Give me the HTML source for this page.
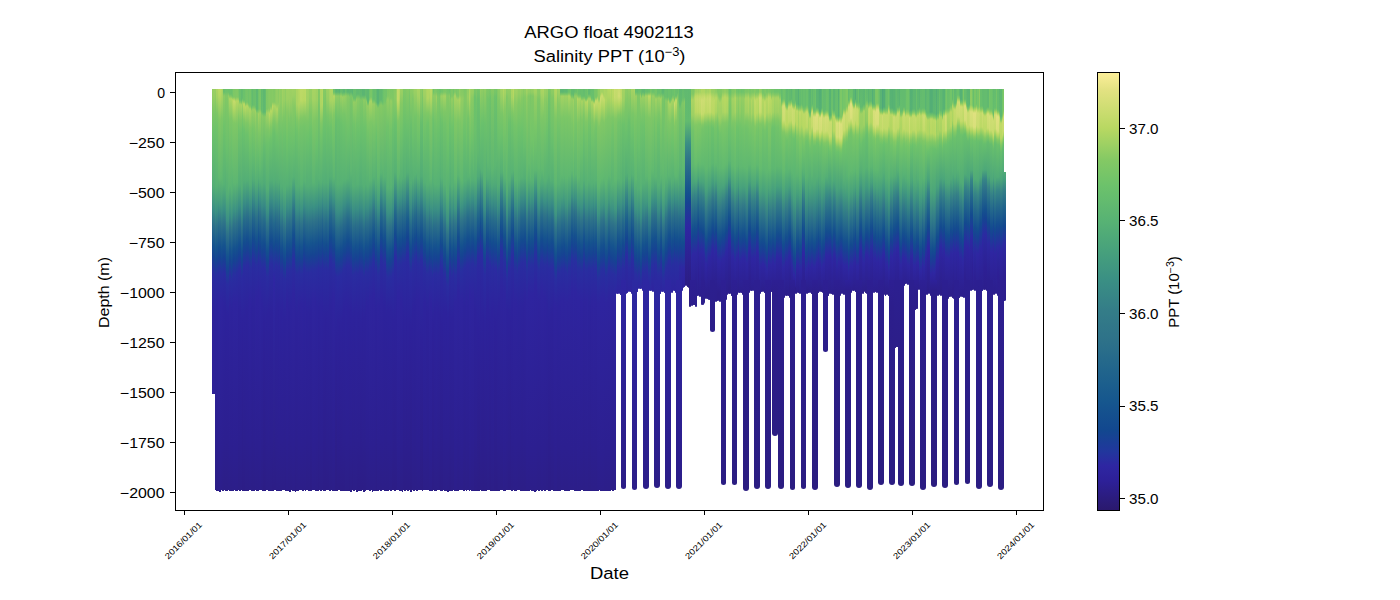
<!DOCTYPE html>
<html><head><meta charset="utf-8"><title>ARGO float 4902113</title>
<style>html,body{margin:0;padding:0;background:#fff;width:1400px;height:600px;overflow:hidden}svg{display:block;position:absolute;left:0;top:0}#d{position:absolute;left:0;top:0;width:1400px;height:600px}#d div{position:absolute}text{font-family:"Liberation Sans",sans-serif;fill:#000}</style>
</head><body><div id="d"><div style="left:212.0px;top:89.3px;width:1.77px;height:304.4px;background:linear-gradient(#94ce63 0px,#90cd64 10px,#81c865 19px,#6bc26b 46px,#54ae76 96px,#3a8e84 119px,#286c8a 136px,#144d8f 158px,#164293 167px,#2a2ca0 183px,#2d229b 224px,#2d2097 304px);"></div><div style="left:213.4px;top:89.3px;width:1.77px;height:304.4px;background:linear-gradient(#99cf63 0px,#97ce63 7px,#7cc766 24px,#6cc26b 43px,#54af75 97px,#3a8f84 121px,#2e7289 135px,#15548e 156px,#144491 168px,#292ca0 185px,#2d229b 223px,#2d2097 304px);"></div><div style="left:214.9px;top:89.3px;width:1.77px;height:401.2px;background:linear-gradient(#98cf63 0px,#93cd63 5px,#7cc766 21px,#6dc26b 41px,#56b174 98px,#3a8f84 125px,#2f7389 138px,#15538e 161px,#164392 173px,#2a2ba0 190px,#2d229b 231px,#2c1f8f 351px,#2c1e87 401px);"></div><div style="left:216.3px;top:89.3px;width:1.77px;height:402.2px;background:linear-gradient(#acd462 0px,#a3d263 8px,#7ec766 24px,#71c469 37px,#58b374 96px,#3b9183 122px,#2e7389 136px,#15548e 158px,#154492 170px,#292da0 186px,#2d239d 217px,#2c1f90 352px,#2c1e87 402px);"></div><div style="left:217.7px;top:89.3px;width:1.77px;height:401.5px;background:linear-gradient(#b9d863 0px,#b2d662 6px,#7ec766 30px,#61b970 87px,#47a07c 111px,#388a85 122px,#276b8b 138px,#134d8f 160px,#174293 169px,#282da0 184px,#2e249e 214px,#2c1f90 362px,#2c1e89 401px);"></div><div style="left:219.1px;top:89.3px;width:1.77px;height:402.3px;background:linear-gradient(#bbd964 0px,#b5d762 6px,#80c865 31px,#61b970 89px,#429a7f 116px,#307689 132px,#14508e 158px,#154492 168px,#282ea0 183px,#2e249f 212px,#2c1f90 365px,#2c1e8a 402px);"></div><div style="left:220.6px;top:89.3px;width:1.77px;height:401.0px;background:linear-gradient(#b3d762 0px,#aed562 5px,#7dc766 29px,#60b970 88px,#49a37b 111px,#3a8f84 123px,#2d7189 137px,#14518e 160px,#164393 171px,#282da0 186px,#2e249e 215px,#2c1f90 360px,#2c1e89 401px);"></div><div style="left:222.0px;top:89.3px;width:1.77px;height:401.7px;background:linear-gradient(#a8d363 0px,#a3d263 8px,#7dc766 30px,#5bb572 94px,#3b9183 121px,#2e7389 135px,#15528e 158px,#154492 169px,#292da0 185px,#2e239e 214px,#2c1f90 357px,#2c1e88 402px);"></div><div style="left:223.4px;top:89.3px;width:1.77px;height:400.9px;background:linear-gradient(#68bf6d 0px,#68bf6d 3px,#8bcb64 7px,#6fc36a 37px,#57b274 95px,#3a8f84 120px,#2f7489 133px,#15538e 156px,#154392 168px,#292ca0 184px,#2d239d 217px,#2c1f90 351px,#2c1e87 401px);"></div><div style="left:224.8px;top:89.3px;width:1.77px;height:402.0px;background:linear-gradient(#6ac06c 0px,#6fc36a 4px,#80c865 7px,#69c06c 54px,#53ae76 99px,#3a8f84 122px,#2f7489 135px,#15538e 158px,#154392 170px,#292ca0 186px,#2d229c 220px,#2c1f90 350px,#2c1e87 402px);"></div><div style="left:226.3px;top:89.3px;width:1.77px;height:401.9px;background:linear-gradient(#6cc26b 0px,#6dc26b 3px,#82c865 7px,#6ac06c 59px,#53ae76 106px,#3b9084 131px,#2e7289 145px,#15538e 167px,#154492 179px,#292ca0 195px,#2d229c 226px,#2c1f90 348px,#2c1e87 402px);"></div><div style="left:227.7px;top:89.3px;width:1.77px;height:400.9px;background:linear-gradient(#6bc16b 0px,#6bc26b 3px,#87ca64 6px,#95ce63 7px,#75c568 30px,#5ab473 100px,#3c9183 131px,#2f7389 145px,#15528e 168px,#164392 180px,#2a2ca0 196px,#2d229c 228px,#2c1f90 350px,#2c1e88 401px);"></div><div style="left:229.1px;top:89.3px;width:1.77px;height:401.6px;background:linear-gradient(#6bc16c 0px,#6ac16c 5px,#8ccb64 8px,#9fd163 9px,#aad463 10px,#7dc766 30px,#5bb572 96px,#3b9183 124px,#2f7389 138px,#15528e 161px,#154491 172px,#292da0 188px,#2e239d 217px,#2c1f90 357px,#2c1e88 402px);"></div><div style="left:230.5px;top:89.3px;width:1.77px;height:401.4px;background:linear-gradient(#6ac06c 0px,#6ac06c 5px,#7bc667 7px,#89ca64 8px,#afd562 10px,#7fc766 29px,#73c469 44px,#58b374 101px,#3c9183 128px,#2f7389 142px,#15528e 165px,#164393 177px,#292ca0 193px,#2d239c 222px,#2c1f91 352px,#2c1e88 401px);"></div><div style="left:232.0px;top:89.3px;width:1.77px;height:401.3px;background:linear-gradient(#6fc36a 0px,#71c36a 7px,#8dcc64 9px,#b7d862 11px,#b1d662 15px,#7fc766 32px,#68bf6d 71px,#55b075 102px,#3b9183 125px,#2e7389 139px,#15528e 162px,#154492 173px,#292da0 189px,#2e239d 218px,#2c1f90 357px,#2c1e89 401px);"></div><div style="left:233.4px;top:89.3px;width:1.77px;height:401.0px;background:linear-gradient(#7cc766 0px,#7fc865 8px,#b8d862 11px,#c5db6c 12px,#b0d662 20px,#7fc865 34px,#5db672 94px,#3c9283 121px,#307589 134px,#14508e 160px,#154392 170px,#282ea0 185px,#2e249e 213px,#2c1f90 362px,#2c1e89 401px);"></div><div style="left:234.8px;top:89.3px;width:1.77px;height:401.6px;background:linear-gradient(#7fc766 0px,#7fc766 8px,#83c964 9px,#b2d662 12px,#bed966 13px,#9ed063 24px,#7ec766 35px,#5cb672 95px,#3d9382 122px,#2f7489 136px,#15518e 160px,#154492 171px,#292da0 187px,#2e239e 216px,#2c1f90 359px,#2c1e89 402px);"></div><div style="left:236.2px;top:89.3px;width:1.77px;height:401.6px;background:linear-gradient(#80c865 0px,#81c865 8px,#b5d762 12px,#7ec766 34px,#5db672 93px,#3c9183 120px,#2f7389 134px,#14518e 158px,#164392 169px,#282da0 184px,#2e249e 213px,#2c1f90 360px,#2c1e89 402px);"></div><div style="left:237.7px;top:89.3px;width:1.77px;height:401.1px;background:linear-gradient(#77c568 0px,#7ac667 8px,#92cd63 10px,#b1d662 12px,#7fc865 28px,#6fc36a 39px,#54af75 95px,#398d84 118px,#296d8a 134px,#144f8f 156px,#164293 166px,#2a2ca0 182px,#2d229b 223px,#2c1f90 348px,#2c1e87 401px);"></div><div style="left:239.1px;top:89.3px;width:1.77px;height:401.8px;background:linear-gradient(#6ac06c 0px,#6bc16c 11px,#8fcc64 14px,#a2d263 15px,#a3d263 17px,#7ec766 31px,#6ec26b 43px,#53ae76 95px,#3a8e84 117px,#2a6e8a 133px,#144f8f 155px,#164393 165px,#2a2ca0 181px,#2d229c 221px,#2c1f90 349px,#2c1e87 402px);"></div><div style="left:240.5px;top:89.3px;width:1.77px;height:401.0px;background:linear-gradient(#63bb6f 0px,#63bb6f 11px,#75c568 13px,#83c964 14px,#aad463 16px,#7ec766 31px,#6dc26b 43px,#53ae76 100px,#3b9084 124px,#2e7389 138px,#15538e 160px,#154492 172px,#2a2ba0 189px,#2d229b 230px,#2c1f8f 353px,#2c1e87 401px);"></div><div style="left:241.9px;top:89.3px;width:1.77px;height:401.5px;background:linear-gradient(#64bc6e 0px,#65bc6e 9px,#75c568 11px,#a0d163 14px,#7dc766 27px,#6ac16c 40px,#52ac77 99px,#398d84 123px,#286c8a 140px,#144d8f 162px,#164293 171px,#2b2aa1 188px,#2d219a 236px,#2c1e8c 365px,#2c1d86 401px);"></div><div style="left:243.4px;top:89.3px;width:1.77px;height:401.9px;background:linear-gradient(#6bc16b 0px,#6cc26b 11px,#88ca64 13px,#b7d862 15px,#b8d862 17px,#80c865 31px,#6cc26b 41px,#53ae76 92px,#398c85 114px,#25698b 132px,#134b8f 154px,#194095 163px,#2a2ba1 178px,#2d229b 229px,#2c1f8e 355px,#2c1d86 402px);"></div><div style="left:244.8px;top:89.3px;width:1.77px;height:401.5px;background:linear-gradient(#72c469 0px,#72c469 13px,#82c865 15px,#b8d862 18px,#7fc865 34px,#6dc26b 45px,#53ae76 93px,#3a8e84 114px,#286c8a 131px,#144d8f 153px,#164293 162px,#2a2ca0 178px,#2d229c 222px,#2c1f8f 349px,#2c1e87 402px);"></div><div style="left:246.2px;top:89.3px;width:1.77px;height:401.4px;background:linear-gradient(#74c469 0px,#77c568 13px,#90cc64 15px,#b3d762 17px,#7ec766 34px,#6dc26b 45px,#54af76 91px,#398d84 112px,#2b6f8a 127px,#144e8f 150px,#174293 160px,#2a2ca0 176px,#2d229b 223px,#2c1f90 348px,#2c1e87 401px);"></div><div style="left:247.6px;top:89.3px;width:1.77px;height:401.3px;background:linear-gradient(#70c36a 0px,#70c36a 14px,#84c964 16px,#a5d363 18px,#aad463 19px,#7ec766 35px,#6dc26b 48px,#53ae76 92px,#398b85 113px,#25698b 131px,#134b8f 153px,#194095 162px,#292ca0 176px,#2d239d 215px,#2c1f90 350px,#2c1e87 401px);"></div><div style="left:249.1px;top:89.3px;width:1.77px;height:400.8px;background:linear-gradient(#75c568 0px,#76c568 16px,#8acb64 18px,#a9d463 20px,#a9d463 22px,#7ec766 39px,#6bc16b 59px,#54af76 95px,#3a8f84 115px,#2f7489 128px,#15518e 152px,#154392 163px,#292da0 179px,#2e239e 212px,#2c1f90 354px,#2c1e88 401px);"></div><div style="left:250.5px;top:89.3px;width:1.77px;height:401.6px;background:linear-gradient(#68bf6d 0px,#6bc16b 18px,#8bcb64 21px,#9acf63 22px,#78c667 41px,#63bb6f 71px,#52ad76 96px,#398d84 117px,#2b6f8a 132px,#144e8f 155px,#174293 165px,#2a2ca0 181px,#2d229c 220px,#2c1f90 349px,#2c1e87 402px);"></div><div style="left:251.9px;top:89.3px;width:1.77px;height:401.8px;background:linear-gradient(#63bb6f 0px,#63bb6f 16px,#7fc766 19px,#8ecc64 20px,#96ce63 21px,#75c568 40px,#5fb871 73px,#51ac77 90px,#388a85 109px,#24688b 127px,#134b8f 148px,#184095 157px,#292ca0 171px,#2d239c 214px,#2c1f8f 351px,#2c1e87 402px);"></div><div style="left:253.3px;top:89.3px;width:1.77px;height:401.6px;background:linear-gradient(#69bf6c 0px,#69bf6c 16px,#82c964 19px,#92cd63 20px,#99cf63 21px,#79c667 39px,#64bc6e 66px,#52ad76 91px,#388a85 111px,#24688b 129px,#134b8f 150px,#184195 159px,#292ca0 174px,#2d239c 216px,#2c1f90 349px,#2c1e87 402px);"></div><div style="left:254.8px;top:89.3px;width:1.77px;height:401.1px;background:linear-gradient(#68bf6d 0px,#6bc16c 18px,#8ecc64 21px,#a0d163 22px,#7bc766 43px,#61b970 80px,#52ac77 96px,#3a8e84 114px,#296d8a 130px,#144d8f 153px,#164393 162px,#282da0 177px,#2e249e 208px,#2c1f90 357px,#2c1e88 401px);"></div><div style="left:256.2px;top:89.3px;width:1.77px;height:401.3px;background:linear-gradient(#5eb871 0px,#60b970 20px,#7cc766 23px,#8acb64 24px,#65bc6e 69px,#53ae76 94px,#3a8e84 114px,#2d7189 128px,#15528e 150px,#154491 161px,#292da0 177px,#2e239e 210px,#2c1f90 352px,#2c1e88 401px);"></div><div style="left:257.6px;top:89.3px;width:1.77px;height:401.9px;background:linear-gradient(#6fc36a 0px,#6fc36a 20px,#8acb64 23px,#a4d263 25px,#7dc766 44px,#66be6d 66px,#54af75 89px,#398b85 108px,#266a8b 125px,#134c8f 147px,#174194 156px,#282da0 171px,#2e249e 204px,#2c1f90 355px,#2c1e88 402px);"></div><div style="left:259.0px;top:89.3px;width:1.77px;height:401.1px;background:linear-gradient(#78c568 0px,#7ac667 20px,#9bd063 24px,#79c667 47px,#61ba70 78px,#53ae76 93px,#3a8f84 111px,#2f7389 124px,#14518e 148px,#154392 159px,#282ea0 174px,#2e249f 205px,#2c1f90 357px,#2c1e89 401px);"></div><div style="left:260.5px;top:89.3px;width:1.77px;height:401.0px;background:linear-gradient(#62bb6f 0px,#63bb6f 21px,#77c568 24px,#85c964 26px,#61ba70 73px,#52ad76 95px,#398c85 116px,#286c8a 132px,#144e8f 154px,#164392 163px,#292ca0 179px,#2d239d 216px,#2c1f8f 351px,#2c1e87 401px);"></div><div style="left:261.9px;top:89.3px;width:1.77px;height:401.6px;background:linear-gradient(#65bc6e 0px,#67be6d 23px,#89ca64 27px,#64bc6e 67px,#52ad76 95px,#398d85 116px,#2b6f8a 131px,#144e8f 154px,#154392 163px,#292ca0 179px,#2d239d 215px,#2c1f8f 352px,#2c1e87 402px);"></div><div style="left:263.3px;top:89.3px;width:1.77px;height:401.8px;background:linear-gradient(#5eb771 0px,#5fb871 23px,#76c568 26px,#84c964 28px,#63bb6f 60px,#50ab77 94px,#388a85 116px,#25698b 133px,#134b8f 155px,#184095 164px,#2a2ba1 179px,#2d219a 233px,#2c1e8b 367px,#2c1d85 402px);"></div><div style="left:264.7px;top:89.3px;width:1.77px;height:401.6px;background:linear-gradient(#64bc6e 0px,#65bc6e 23px,#8ccb64 28px,#67be6d 57px,#51ac77 95px,#398c85 117px,#276b8b 134px,#134d8f 156px,#174294 165px,#2a2ba1 181px,#2d229b 230px,#2c1e8d 359px,#2c1d86 402px);"></div><div style="left:266.2px;top:89.3px;width:1.77px;height:400.7px;background:linear-gradient(#7ec766 0px,#7fc865 20px,#a2d263 24px,#7bc667 41px,#6bc16b 55px,#53ae76 100px,#3a8e84 124px,#2c708a 139px,#14518e 161px,#154491 171px,#2a2ca0 188px,#2d229b 226px,#2c1f8f 350px,#2c1e87 401px);"></div><div style="left:267.6px;top:89.3px;width:1.77px;height:401.5px;background:linear-gradient(#83c964 0px,#83c964 19px,#aad463 24px,#7ec766 40px,#6cc26b 54px,#53ae76 100px,#3a9084 123px,#2f7489 136px,#15538e 159px,#154492 171px,#292ca0 187px,#2d229c 221px,#2c1f90 349px,#2c1e87 401px);"></div><div style="left:269.0px;top:89.3px;width:1.77px;height:401.6px;background:linear-gradient(#85c964 0px,#86ca64 20px,#98cf63 22px,#b9d863 25px,#80c865 41px,#6bc16b 53px,#53ae76 92px,#398d84 113px,#296d8a 129px,#144f8f 151px,#174293 161px,#2a2ca0 177px,#2d229b 223px,#2c1f8f 349px,#2c1e87 402px);"></div><div style="left:270.4px;top:89.3px;width:1.77px;height:401.3px;background:linear-gradient(#84c964 0px,#85c964 17px,#95ce63 19px,#b6d862 22px,#7fc865 38px,#6cc26b 50px,#53ae76 91px,#398b85 112px,#24688b 130px,#134a8f 152px,#1b3e97 162px,#2a2ca0 175px,#2d229b 223px,#2c1f8f 349px,#2c1e87 401px);"></div><div style="left:271.9px;top:89.3px;width:1.77px;height:401.8px;background:linear-gradient(#86ca64 0px,#86ca64 13px,#b9d862 17px,#b9d862 19px,#7fc865 34px,#6dc26b 44px,#53ae76 91px,#398d85 112px,#2b6f8a 127px,#144e8f 150px,#164392 159px,#2a2ba0 176px,#2d229b 225px,#2c1f8f 350px,#2c1d86 402px);"></div><div style="left:273.3px;top:89.3px;width:1.77px;height:401.2px;background:linear-gradient(#82c865 0px,#85c964 13px,#add562 17px,#7ec766 32px,#6bc16b 43px,#53ae76 93px,#398b85 116px,#23678c 135px,#134a8f 157px,#24339e 173px,#2e26a2 189px,#2c1e88 391px,#2c1d86 401px);"></div><div style="left:274.7px;top:89.3px;width:1.77px;height:400.8px;background:linear-gradient(#8acb64 0px,#8ccb64 14px,#add562 18px,#7dc766 34px,#6cc26b 45px,#53ae76 91px,#398b85 113px,#24688b 131px,#134b8f 153px,#1a3e97 163px,#2a2ba1 177px,#2d229b 229px,#2c1f8e 354px,#2c1d86 401px);"></div><div style="left:276.1px;top:89.3px;width:1.77px;height:401.5px;background:linear-gradient(#91cd64 0px,#91cd63 15px,#afd562 20px,#7ec766 36px,#6cc26b 48px,#53ad76 93px,#398c85 114px,#2a6e8a 129px,#144e8f 152px,#164392 161px,#292ca0 177px,#2d239c 216px,#2c1f8f 352px,#2c1e87 401px);"></div><div style="left:277.6px;top:89.3px;width:1.77px;height:401.4px;background:linear-gradient(#89cb64 0px,#8ccb64 13px,#98cf63 17px,#78c568 35px,#68bf6d 57px,#53ae76 94px,#3a8e84 115px,#2a6e8a 131px,#144f8e 153px,#164393 163px,#292ca0 179px,#2d229c 219px,#2c1f90 350px,#2c1e87 401px);"></div><div style="left:279.0px;top:89.3px;width:1.77px;height:401.8px;background:linear-gradient(#95ce63 0px,#96ce63 14px,#76c568 34px,#56b174 90px,#398d84 112px,#2b6f8a 127px,#144e8f 150px,#174293 160px,#292ca0 176px,#2d239d 215px,#2c1f90 350px,#2c1e87 402px);"></div><div style="left:280.4px;top:89.3px;width:1.77px;height:401.8px;background:linear-gradient(#91cd63 0px,#8dcc64 13px,#6ec26b 45px,#53ae76 98px,#3a8e84 121px,#286c8a 138px,#144d8f 160px,#164293 169px,#2a2ca0 185px,#2d229c 224px,#2c1f90 348px,#2c1e87 402px);"></div><div style="left:281.8px;top:89.3px;width:1.77px;height:400.8px;background:linear-gradient(#a0d163 0px,#9cd063 14px,#77c568 35px,#55af75 96px,#3a8f84 119px,#2f7489 132px,#15538e 155px,#164392 167px,#292ca0 183px,#2d239d 217px,#2c1f90 351px,#2c1e87 401px);"></div><div style="left:283.3px;top:89.3px;width:1.77px;height:400.8px;background:linear-gradient(#9acf63 0px,#98cf63 11px,#7cc766 28px,#6cc26b 47px,#53ae76 101px,#3a8f84 125px,#2f7489 138px,#15538e 161px,#154392 173px,#2a2ba0 190px,#2d229b 231px,#2c1f8f 352px,#2c1e87 401px);"></div><div style="left:284.7px;top:89.3px;width:1.77px;height:401.7px;background:linear-gradient(#91cd63 0px,#8fcc64 11px,#82c865 18px,#6bc16b 47px,#53ae76 102px,#3b9084 127px,#2e7389 141px,#15538e 163px,#154492 175px,#2a2ba0 192px,#2d229b 232px,#2c1f8e 355px,#2c1d86 402px);"></div><div style="left:286.1px;top:89.3px;width:1.77px;height:401.9px;background:linear-gradient(#9fd163 0px,#9bd063 11px,#85c964 23px,#6ec36a 51px,#55b075 96px,#3a8f84 118px,#2f7489 131px,#15518e 155px,#154392 166px,#292da0 182px,#2e239d 214px,#2c1f90 353px,#2c1e88 402px);"></div><div style="left:287.5px;top:89.3px;width:1.77px;height:401.7px;background:linear-gradient(#9fd163 0px,#9cd063 9px,#7ac667 29px,#6bc26b 50px,#54af75 96px,#3a8e84 119px,#296d8a 135px,#144f8f 157px,#164293 167px,#292ca0 183px,#2d229c 221px,#2c1f90 348px,#2c1e87 402px);"></div><div style="left:289.0px;top:89.3px;width:1.77px;height:402.3px;background:linear-gradient(#9dd063 0px,#9acf63 13px,#76c568 34px,#68bf6d 56px,#53ad76 96px,#398d84 118px,#296d8a 134px,#144f8f 156px,#174293 166px,#2a2ca0 182px,#2d229b 224px,#2c1f8f 349px,#2c1e87 402px);"></div><div style="left:290.4px;top:89.3px;width:1.77px;height:401.0px;background:linear-gradient(#9dd063 0px,#9acf63 10px,#7bc667 29px,#6bc16b 52px,#54af75 96px,#3a8f84 118px,#2f7489 131px,#15538e 154px,#154392 166px,#292ca0 182px,#2d239d 217px,#2c1f90 351px,#2c1e87 401px);"></div><div style="left:291.8px;top:89.3px;width:1.77px;height:401.6px;background:linear-gradient(#a1d163 0px,#9dd063 6px,#8dcb64 14px,#73c469 41px,#58b374 88px,#3a8f84 109px,#2e7289 123px,#15528e 145px,#164392 157px,#292da0 173px,#2e249e 206px,#2c1f90 355px,#2c1e88 402px);"></div><div style="left:293.2px;top:89.3px;width:1.77px;height:401.3px;background:linear-gradient(#9fd163 0px,#9bd063 6px,#84c964 19px,#6ec36a 47px,#56b175 88px,#398d85 108px,#2a6e8a 123px,#144e8f 146px,#174293 156px,#292da0 171px,#2e249e 205px,#2c1f90 353px,#2c1e88 401px);"></div><div style="left:294.7px;top:89.3px;width:1.77px;height:402.3px;background:linear-gradient(#9dd063 0px,#98cf63 9px,#76c568 28px,#6bc16b 42px,#54af75 95px,#398d84 119px,#286c8a 136px,#144d8f 158px,#164293 167px,#2a2ca0 183px,#2d229b 225px,#2c1f8f 350px,#2c1d86 402px);"></div><div style="left:296.1px;top:89.3px;width:1.77px;height:401.8px;background:linear-gradient(#acd462 0px,#a9d463 15px,#7fc865 30px,#6ec36a 42px,#53ae76 98px,#3a8f84 121px,#2f7389 134px,#15538e 157px,#164392 169px,#2a2ba0 186px,#2d229b 229px,#2c1f8f 352px,#2c1e87 402px);"></div><div style="left:297.5px;top:89.3px;width:1.77px;height:401.6px;background:linear-gradient(#b3d662 0px,#afd562 16px,#7fc766 34px,#71c36a 47px,#55b075 97px,#3b9084 120px,#2f7489 133px,#15528e 157px,#154492 168px,#292da0 184px,#2e239d 216px,#2c1f90 353px,#2c1e88 402px);"></div><div style="left:298.9px;top:89.3px;width:1.77px;height:400.9px;background:linear-gradient(#b7d862 0px,#b1d662 15px,#7fc766 32px,#71c469 43px,#55b075 96px,#3a8e84 119px,#296d8a 135px,#144d8f 158px,#164393 167px,#292ca0 183px,#2d239c 219px,#2c1f90 350px,#2c1e88 401px);"></div><div style="left:300.4px;top:89.3px;width:1.77px;height:400.8px;background:linear-gradient(#bdd966 0px,#bbd965 11px,#80c865 29px,#74c469 38px,#59b473 95px,#3b9183 121px,#2e7389 135px,#15528e 158px,#154492 169px,#292da0 185px,#2e239d 215px,#2c1f90 355px,#2c1e88 401px);"></div><div style="left:301.8px;top:89.3px;width:1.77px;height:401.9px;background:linear-gradient(#bdd966 0px,#b9d863 12px,#80c865 29px,#74c469 38px,#59b473 95px,#3b9183 121px,#2f7389 135px,#15528e 158px,#154491 169px,#292da0 185px,#2e239e 214px,#2c1f90 356px,#2c1e88 402px);"></div><div style="left:303.2px;top:89.3px;width:1.77px;height:401.1px;background:linear-gradient(#bbd964 0px,#b8d862 11px,#80c865 28px,#72c469 38px,#57b274 92px,#3a8e84 116px,#296d8a 132px,#144d8f 155px,#164293 164px,#292ca0 180px,#2d239d 216px,#2c1f90 351px,#2c1e88 401px);"></div><div style="left:304.6px;top:89.3px;width:1.77px;height:401.8px;background:linear-gradient(#bcd965 0px,#bad964 11px,#7ec766 29px,#73c469 38px,#58b374 93px,#3b9084 117px,#2e7289 131px,#15538e 153px,#154492 165px,#292da0 181px,#2e239d 214px,#2c1f90 353px,#2c1e88 402px);"></div><div style="left:306.1px;top:89.3px;width:1.77px;height:401.2px;background:linear-gradient(#a5d363 0px,#a1d163 13px,#7ac667 32px,#6dc26b 47px,#54ae76 97px,#398d84 120px,#296d8a 136px,#144f8f 158px,#174293 168px,#2a2ca0 184px,#2d229c 224px,#2c1f90 348px,#2c1e87 401px);"></div><div style="left:307.5px;top:89.3px;width:1.77px;height:402.2px;background:linear-gradient(#a3d263 0px,#9fd163 12px,#79c667 32px,#6bc26b 49px,#54af76 97px,#3a8f84 120px,#2f7389 133px,#15538e 156px,#164392 168px,#292ca0 184px,#2d239c 219px,#2c1f90 350px,#2c1e87 402px);"></div><div style="left:308.9px;top:89.3px;width:1.77px;height:402.2px;background:linear-gradient(#98cf63 0px,#96ce63 8px,#7ec766 23px,#6cc26b 43px,#54af75 96px,#398d84 120px,#296d8a 136px,#144f8f 158px,#164293 168px,#2a2ca0 184px,#2d229b 225px,#2c1f90 349px,#2c1e87 402px);"></div><div style="left:310.3px;top:89.3px;width:1.77px;height:402.1px;background:linear-gradient(#97cf63 0px,#95ce63 9px,#7cc766 25px,#6bc26b 44px,#54ae76 96px,#3a8e84 119px,#2e7289 133px,#15548e 154px,#154491 166px,#2a2ca0 183px,#2d229c 222px,#2c1f8f 349px,#2c1d86 402px);"></div><div style="left:311.8px;top:89.3px;width:1.77px;height:400.7px;background:linear-gradient(#a6d363 0px,#a4d263 10px,#8fcc64 20px,#77c568 40px,#59b473 93px,#3b9183 117px,#2e7389 131px,#15528e 154px,#154491 165px,#282da0 181px,#2e249e 211px,#2c1f90 357px,#2c1e89 401px);"></div><div style="left:313.2px;top:89.3px;width:1.77px;height:400.8px;background:linear-gradient(#a7d363 0px,#a4d263 10px,#7dc766 32px,#5ab473 93px,#3b9183 118px,#2f7389 132px,#15528e 155px,#154491 166px,#292da0 182px,#2e249e 212px,#2c1f90 357px,#2c1e88 401px);"></div><div style="left:314.6px;top:89.3px;width:1.77px;height:401.3px;background:linear-gradient(#a5d263 0px,#a1d163 10px,#7cc766 31px,#6ac06c 59px,#54af76 96px,#3a9084 117px,#2f7489 130px,#15518e 154px,#154392 165px,#292da0 181px,#2e239d 213px,#2c1f90 353px,#2c1e88 401px);"></div><div style="left:316.0px;top:89.3px;width:1.77px;height:402.2px;background:linear-gradient(#a0d163 0px,#9cd063 11px,#7ac667 31px,#6ac16c 55px,#54af75 95px,#3a8f84 117px,#2f7389 130px,#15528e 153px,#164392 165px,#292ca0 181px,#2d239d 217px,#2c1f90 350px,#2c1e87 402px);"></div><div style="left:317.5px;top:89.3px;width:1.77px;height:401.6px;background:linear-gradient(#82c865 0px,#7fc766 10px,#77c568 16px,#57b274 90px,#398d84 115px,#286c8a 132px,#144d8f 154px,#164293 163px,#2a2ba0 179px,#2d229b 226px,#2c1f8e 352px,#2c1d86 402px);"></div><div style="left:318.9px;top:89.3px;width:1.77px;height:401.0px;background:linear-gradient(#83c964 0px,#80c865 12px,#77c568 18px,#58b374 90px,#3a8e84 116px,#2e7289 130px,#15548e 151px,#154491 163px,#292ca0 180px,#2d229c 220px,#2c1f8f 350px,#2c1e87 401px);"></div><div style="left:320.3px;top:89.3px;width:1.77px;height:401.3px;background:linear-gradient(#b1d662 0px,#add562 17px,#7ec766 35px,#6fc36a 48px,#55b075 94px,#3a8e84 116px,#296d8a 132px,#144d8f 155px,#164393 164px,#292ca0 180px,#2d239d 217px,#2c1f90 350px,#2c1e87 401px);"></div><div style="left:321.7px;top:89.3px;width:1.77px;height:401.0px;background:linear-gradient(#b5d762 0px,#b3d662 15px,#7ec766 32px,#70c36a 42px,#54af76 92px,#398c85 113px,#266a8b 130px,#134c8f 152px,#174294 161px,#292ca0 176px,#2d239d 214px,#2c1f90 350px,#2c1e87 401px);"></div><div style="left:323.2px;top:89.3px;width:1.77px;height:401.6px;background:linear-gradient(#86c964 0px,#82c964 8px,#6ac16c 40px,#53ae76 94px,#398c85 117px,#2b6f8a 132px,#14508e 154px,#164392 164px,#2a2ba0 181px,#2d229b 229px,#2c1e8d 357px,#2c1d86 402px);"></div><div style="left:324.6px;top:89.3px;width:1.77px;height:401.6px;background:linear-gradient(#83c964 0px,#7ec766 9px,#68bf6d 43px,#52ad77 94px,#398b85 117px,#24688b 135px,#134b8f 157px,#1a3e97 167px,#2a2ba1 181px,#2d219a 232px,#2c1e8c 363px,#2c1d85 402px);"></div><div style="left:326.0px;top:89.3px;width:1.77px;height:401.2px;background:linear-gradient(#99cf63 0px,#94ce63 8px,#72c469 29px,#67be6d 52px,#52ad76 94px,#398c85 116px,#25698b 134px,#134b8f 156px,#194095 165px,#2a2ba0 180px,#2d229b 228px,#2c1f8e 354px,#2c1d86 401px);"></div><div style="left:327.4px;top:89.3px;width:1.77px;height:401.0px;background:linear-gradient(#9bd063 0px,#96ce63 10px,#77c568 27px,#6bc16b 39px,#54af76 94px,#398c85 118px,#276b8b 135px,#134d8f 157px,#174294 166px,#2a2ba0 182px,#2d229b 229px,#2c1f8e 356px,#2c1d86 401px);"></div><div style="left:328.9px;top:89.3px;width:1.77px;height:401.6px;background:linear-gradient(#a7d363 0px,#a3d263 11px,#7dc766 26px,#6dc26b 39px,#54af75 88px,#388a85 109px,#24688b 127px,#134b8f 148px,#184095 157px,#292ca0 171px,#2d239c 215px,#2c1f8f 351px,#2c1e87 402px);"></div><div style="left:330.3px;top:89.3px;width:1.77px;height:401.1px;background:linear-gradient(#aed562 0px,#aad463 11px,#7ec766 26px,#6ec36a 37px,#55b075 88px,#398b85 109px,#24688b 127px,#134b8f 149px,#194095 158px,#292ca0 172px,#2d239c 217px,#2c1f8f 350px,#2c1e87 401px);"></div><div style="left:331.7px;top:89.3px;width:1.77px;height:401.6px;background:linear-gradient(#aed562 0px,#a9d463 12px,#7dc766 31px,#6ec36a 47px,#55b075 91px,#3a8f84 111px,#2f7389 124px,#15528e 147px,#164392 159px,#292da0 175px,#2e239e 209px,#2c1f90 352px,#2c1e88 402px);"></div><div style="left:333.1px;top:89.3px;width:1.77px;height:401.5px;background:linear-gradient(#6bc16c 0px,#6cc26b 3px,#87ca64 5px,#b4d762 7px,#7fc865 26px,#74c469 39px,#5bb572 88px,#3a8f84 112px,#2f7389 125px,#14518e 149px,#164392 160px,#292da0 176px,#2e249e 209px,#2c1f90 355px,#2c1e88 401px);"></div><div style="left:334.6px;top:89.3px;width:1.77px;height:401.7px;background:linear-gradient(#5db671 0px,#5eb771 3px,#7fc865 6px,#91cd64 7px,#73c469 22px,#66be6d 35px,#53ae76 95px,#388a85 122px,#266a8b 139px,#134c8f 161px,#184195 170px,#2b29a1 187px,#2d2199 250px,#2c1d85 402px);"></div><div style="left:336.0px;top:89.3px;width:1.77px;height:401.9px;background:linear-gradient(#5ab473 0px,#5bb572 3px,#7ec766 6px,#91cd63 7px,#77c568 20px,#68bf6d 33px,#55af75 95px,#398d84 123px,#286c8a 140px,#144e8f 162px,#164293 171px,#2b29a1 189px,#2d2199 248px,#2c1d85 402px);"></div><div style="left:337.4px;top:89.3px;width:1.77px;height:400.8px;background:linear-gradient(#5cb672 0px,#5db771 3px,#7ec766 6px,#8fcc64 7px,#6bc16b 31px,#56b174 95px,#398c85 124px,#296d8a 140px,#144e8f 162px,#164392 171px,#2a2ba1 188px,#2d229b 232px,#2c1e8d 360px,#2c1d86 401px);"></div><div style="left:338.8px;top:89.3px;width:1.77px;height:401.1px;background:linear-gradient(#57b274 0px,#58b374 3px,#79c667 6px,#89ca64 7px,#69c06c 33px,#55b075 95px,#398d84 123px,#296d8a 139px,#144f8f 161px,#174293 171px,#2b2aa1 188px,#2d219a 238px,#2c1e8b 371px,#2c1d85 401px);"></div><div style="left:340.3px;top:89.3px;width:1.77px;height:401.6px;background:linear-gradient(#64bc6e 0px,#65bc6e 3px,#86ca64 6px,#9acf63 7px,#7bc667 21px,#6bc16b 34px,#56b174 94px,#3a8e84 121px,#286c8a 138px,#144d8f 160px,#164293 169px,#2a2ba1 186px,#2d229b 233px,#2c1e8d 360px,#2c1d86 402px);"></div><div style="left:341.7px;top:89.3px;width:1.77px;height:401.7px;background:linear-gradient(#61ba70 0px,#64bc6e 4px,#87ca64 7px,#9dd063 8px,#78c667 25px,#6cc26b 36px,#57b274 93px,#398c85 120px,#296d8a 136px,#144e8f 158px,#164392 167px,#2a2ba0 184px,#2d229b 229px,#2c1f8e 354px,#2c1d86 402px);"></div><div style="left:343.1px;top:89.3px;width:1.77px;height:402.2px;background:linear-gradient(#5cb672 0px,#5cb672 3px,#7dc766 6px,#90cd64 7px,#97cf63 8px,#77c568 25px,#6cc26b 38px,#57b274 91px,#3a8e84 116px,#2c708a 131px,#14518e 153px,#154492 163px,#2a2ca0 180px,#2d229c 221px,#2c1f8f 350px,#2c1d86 402px);"></div><div style="left:344.5px;top:89.3px;width:1.77px;height:401.6px;background:linear-gradient(#67be6d 0px,#67bf6d 3px,#84c964 6px,#94ce63 7px,#72c469 30px,#57b274 91px,#398c85 116px,#2a6e8a 131px,#144e8f 154px,#164392 163px,#292ca0 179px,#2d239d 215px,#2c1f8f 351px,#2c1e87 402px);"></div><div style="left:346.0px;top:89.3px;width:1.77px;height:401.4px;background:linear-gradient(#62bb6f 0px,#63bb6f 3px,#80c865 6px,#8ecc64 7px,#71c36a 36px,#59b373 89px,#3a8e84 113px,#2b6f8a 128px,#144f8f 151px,#164393 161px,#292ca0 177px,#2d239d 214px,#2c1f90 350px,#2c1e87 401px);"></div><div style="left:347.4px;top:89.3px;width:1.77px;height:401.4px;background:linear-gradient(#5bb572 0px,#5cb672 3px,#79c667 6px,#86c964 7px,#6cc26b 44px,#56b174 90px,#398c85 113px,#266a8b 130px,#134c8f 152px,#174294 161px,#2a2ca0 177px,#2d229c 220px,#2c1f90 348px,#2c1e87 401px);"></div><div style="left:348.8px;top:89.3px;width:1.77px;height:402.1px;background:linear-gradient(#5db771 0px,#5fb871 4px,#76c568 7px,#81c865 8px,#6ac16c 46px,#53ae76 92px,#398d84 113px,#296d8a 129px,#144f8f 151px,#174293 161px,#2a2ca0 177px,#2d229b 223px,#2c1f8f 349px,#2c1d86 402px);"></div><div style="left:350.2px;top:89.3px;width:1.77px;height:402.3px;background:linear-gradient(#5cb672 0px,#5db672 3px,#7bc667 7px,#5db672 82px,#4fa978 98px,#398d84 116px,#296d8a 132px,#144e8f 154px,#174293 164px,#2a2ca0 180px,#2d229c 221px,#2c1f90 349px,#2c1e87 402px);"></div><div style="left:351.7px;top:89.3px;width:1.77px;height:400.9px;background:linear-gradient(#59b473 0px,#59b473 4px,#6fc36a 7px,#84c964 9px,#6bc16b 39px,#55b075 96px,#3a8f84 122px,#2f7489 135px,#15538e 158px,#164392 170px,#2a2ba0 187px,#2d229b 231px,#2c1f8e 356px,#2c1d86 401px);"></div><div style="left:353.1px;top:89.3px;width:1.77px;height:401.7px;background:linear-gradient(#66bd6e 0px,#69c06c 9px,#85c964 12px,#93cd63 13px,#70c36a 36px,#55af75 97px,#398d84 122px,#296d8a 138px,#144f8f 160px,#164293 170px,#2a2ca0 186px,#2d229b 226px,#2c1f8f 350px,#2c1e87 402px);"></div><div style="left:354.5px;top:89.3px;width:1.77px;height:400.9px;background:linear-gradient(#67be6d 0px,#68bf6d 9px,#81c865 12px,#8fcc64 13px,#6fc36a 42px,#53ae76 97px,#398d84 120px,#296d8a 136px,#144e8f 158px,#174293 168px,#2a2ca0 184px,#2d229c 224px,#2c1f90 348px,#2c1e87 401px);"></div><div style="left:355.9px;top:89.3px;width:1.77px;height:402.3px;background:linear-gradient(#61ba70 0px,#62ba6f 6px,#7ec766 9px,#8dcb64 10px,#92cd63 11px,#70c36a 35px,#56b174 95px,#3a8f84 120px,#2f7489 133px,#15538e 156px,#154392 168px,#292ca0 184px,#2d239d 217px,#2c1f8f 352px,#2c1e87 402px);"></div><div style="left:357.4px;top:89.3px;width:1.77px;height:401.7px;background:linear-gradient(#61b970 0px,#61b970 5px,#76c568 8px,#87ca64 10px,#6cc26b 40px,#56b175 95px,#398d84 121px,#296d8a 137px,#144f8f 159px,#164293 169px,#2a2ba0 185px,#2d229b 227px,#2c1f8f 351px,#2c1d86 402px);"></div><div style="left:358.8px;top:89.3px;width:1.77px;height:401.7px;background:linear-gradient(#62ba6f 0px,#64bc6e 6px,#82c865 10px,#6ac16c 45px,#53ae76 95px,#398d85 118px,#2b6f8a 133px,#144e8f 156px,#154392 165px,#2a2ba0 182px,#2d229b 226px,#2c1f8f 351px,#2c1d86 402px);"></div><div style="left:360.2px;top:89.3px;width:1.77px;height:401.6px;background:linear-gradient(#5fb870 0px,#63bb6f 7px,#7ec766 11px,#69c06c 43px,#52ad76 96px,#398d84 119px,#296d8a 135px,#144f8f 157px,#174293 167px,#2a2ba1 184px,#2d229b 233px,#2c1e8d 361px,#2c1d86 402px);"></div><div style="left:361.6px;top:89.3px;width:1.77px;height:400.8px;background:linear-gradient(#59b473 0px,#5ab573 6px,#7ec766 10px,#6fc36a 33px,#55b075 95px,#3a8e84 120px,#2c708a 135px,#14518e 157px,#154492 167px,#2a2ca0 184px,#2d229b 225px,#2c1f8f 351px,#2c1d86 401px);"></div><div style="left:363.1px;top:89.3px;width:1.77px;height:402.3px;background:linear-gradient(#5bb572 0px,#5bb572 6px,#71c36a 9px,#8bcb64 11px,#6cc26b 39px,#54af75 98px,#398d84 124px,#296d8a 140px,#144f8f 162px,#164293 172px,#2a2ba0 188px,#2d229b 230px,#2c1f8e 355px,#2c1d86 402px);"></div><div style="left:364.5px;top:89.3px;width:1.77px;height:401.8px;background:linear-gradient(#62bb6f 0px,#62bb6f 6px,#86ca64 11px,#6cc26b 40px,#54af75 95px,#398d84 119px,#296d8a 135px,#144f8f 157px,#174293 167px,#2a2ca0 183px,#2d229b 225px,#2c1f8f 351px,#2c1d86 402px);"></div><div style="left:365.9px;top:89.3px;width:1.77px;height:401.2px;background:linear-gradient(#61b970 0px,#61b970 8px,#6cc26b 10px,#94ce63 13px,#73c469 37px,#56b174 95px,#3b9083 119px,#2e7389 133px,#15538e 155px,#154492 167px,#292da0 183px,#2e239d 215px,#2c1f90 352px,#2c1e87 401px);"></div><div style="left:367.3px;top:89.3px;width:1.77px;height:401.2px;background:linear-gradient(#5eb871 0px,#5eb871 12px,#6bc16b 14px,#92cd63 17px,#72c469 44px,#55b075 97px,#3a8e84 120px,#2b6f8a 135px,#144f8e 158px,#164393 168px,#292ca0 184px,#2d239d 218px,#2c1f90 351px,#2c1e88 401px);"></div><div style="left:368.8px;top:89.3px;width:1.77px;height:401.8px;background:linear-gradient(#6ec36a 0px,#71c469 9px,#84c964 11px,#a6d363 13px,#7bc667 35px,#5bb572 91px,#3a9084 116px,#2f7489 129px,#15518e 153px,#154492 164px,#292da0 180px,#2e249e 210px,#2c1f90 358px,#2c1e88 402px);"></div><div style="left:370.2px;top:89.3px;width:1.77px;height:400.8px;background:linear-gradient(#79c667 0px,#79c667 8px,#9acf63 11px,#a7d363 12px,#9bd063 19px,#7cc766 33px,#5ab473 91px,#3b9183 115px,#2f7389 129px,#15528e 152px,#144491 163px,#282da0 179px,#2e249e 210px,#2c1f90 357px,#2c1e88 401px);"></div><div style="left:371.6px;top:89.3px;width:1.77px;height:402.3px;background:linear-gradient(#6cc26b 0px,#6cc26b 10px,#80c865 13px,#98cf63 15px,#77c568 37px,#56b174 90px,#3a8f84 111px,#2e7289 125px,#15528e 147px,#164392 159px,#292da0 175px,#2e239e 209px,#2c1f90 353px,#2c1e88 402px);"></div><div style="left:373.0px;top:89.3px;width:1.77px;height:402.2px;background:linear-gradient(#66bd6e 0px,#66bd6e 10px,#73c469 12px,#96ce63 15px,#77c568 39px,#58b374 88px,#3a8f84 109px,#2f7389 122px,#14518e 146px,#164392 157px,#282da0 173px,#2e249e 205px,#2c1f90 355px,#2c1e88 402px);"></div><div style="left:374.5px;top:89.3px;width:1.77px;height:401.7px;background:linear-gradient(#67be6d 0px,#69c06c 12px,#87ca64 16px,#6bc16b 51px,#53ae76 96px,#398d84 118px,#296d8a 134px,#144f8f 156px,#164293 166px,#2a2ca0 182px,#2d229c 222px,#2c1f90 348px,#2c1e87 402px);"></div><div style="left:375.9px;top:89.3px;width:1.77px;height:401.8px;background:linear-gradient(#60b970 0px,#62ba6f 13px,#7cc766 16px,#89ca64 17px,#6ac16c 47px,#53ad76 94px,#398d84 116px,#296d8a 132px,#144f8f 154px,#174293 164px,#2a2ba0 180px,#2d229b 227px,#2c1f8e 353px,#2c1d86 402px);"></div><div style="left:377.3px;top:89.3px;width:1.77px;height:402.1px;background:linear-gradient(#58b374 0px,#58b374 14px,#70c36a 17px,#83c964 19px,#5eb871 88px,#47a17c 111px,#398c85 123px,#286c8a 139px,#144e8f 161px,#164392 170px,#292da0 186px,#2e239d 218px,#2c1f90 355px,#2c1e88 402px);"></div><div style="left:378.7px;top:89.3px;width:1.77px;height:400.9px;background:linear-gradient(#61b970 0px,#61b970 12px,#72c469 15px,#81c865 17px,#5fb871 85px,#4faa78 103px,#3a8f84 121px,#2f7389 134px,#15528e 157px,#164392 169px,#292da0 185px,#2d239d 218px,#2c1f90 354px,#2c1e88 401px);"></div><div style="left:380.2px;top:89.3px;width:1.77px;height:401.3px;background:linear-gradient(#61b970 0px,#61b970 11px,#74c469 14px,#84c964 16px,#59b473 84px,#388a85 107px,#24688b 125px,#134c8f 146px,#184195 155px,#292ca0 170px,#2e239d 211px,#2c1f90 349px,#2c1e87 401px);"></div><div style="left:381.6px;top:89.3px;width:1.77px;height:401.0px;background:linear-gradient(#64bc6f 0px,#66be6d 13px,#81c865 17px,#5eb771 79px,#51ab77 92px,#398b85 110px,#24688b 128px,#134c8f 149px,#184194 158px,#292ca0 173px,#2e239d 210px,#2c1f90 351px,#2c1e88 401px);"></div><div style="left:383.0px;top:89.3px;width:1.77px;height:400.9px;background:linear-gradient(#6cc26b 0px,#6ec36a 13px,#7fc865 17px,#59b373 88px,#398d84 113px,#2b6f8a 128px,#144e8f 151px,#174293 161px,#2a2ca0 177px,#2d229c 219px,#2c1f90 349px,#2c1e87 401px);"></div><div style="left:384.4px;top:89.3px;width:1.77px;height:401.9px;background:linear-gradient(#70c36a 0px,#73c469 12px,#7fc766 16px,#57b274 88px,#398d84 111px,#296d8a 127px,#144f8f 149px,#174293 159px,#2a2ca0 175px,#2d229c 218px,#2c1f8f 350px,#2c1e87 402px);"></div><div style="left:385.9px;top:89.3px;width:1.77px;height:401.5px;background:linear-gradient(#71c36a 0px,#71c36a 7px,#87ca64 12px,#6cc26b 43px,#53ae76 99px,#3b9084 122px,#2e7389 136px,#15538e 158px,#154492 170px,#2a2ca0 187px,#2d229b 227px,#2c1f8f 350px,#2c1e87 401px);"></div><div style="left:387.3px;top:89.3px;width:1.77px;height:401.4px;background:linear-gradient(#7cc766 0px,#7fc865 7px,#91cd64 11px,#71c36a 37px,#57b274 98px,#3a8f84 125px,#2f7489 138px,#15538e 161px,#154392 173px,#292ca0 189px,#2d229c 221px,#2c1f90 349px,#2c1e87 401px);"></div><div style="left:388.7px;top:89.3px;width:1.77px;height:401.0px;background:linear-gradient(#7fc865 0px,#84c964 10px,#88ca64 13px,#6ec36a 48px,#54af75 100px,#3c9183 123px,#2f7389 137px,#15528e 160px,#144491 171px,#292ca0 188px,#2d229c 223px,#2c1f90 348px,#2c1e88 401px);"></div><div style="left:390.1px;top:89.3px;width:1.77px;height:401.4px;background:linear-gradient(#7dc766 0px,#81c865 9px,#92cd63 12px,#72c469 41px,#57b274 98px,#3c9183 123px,#2f7389 137px,#15528e 160px,#164392 172px,#292ca0 188px,#2d239c 221px,#2c1f90 350px,#2c1e88 401px);"></div><div style="left:391.6px;top:89.3px;width:1.77px;height:400.9px;background:linear-gradient(#7cc766 0px,#80c865 9px,#86ca64 13px,#6bc16b 40px,#54af76 96px,#398c85 121px,#276b8b 138px,#134d8f 160px,#174294 169px,#2a2ba1 185px,#2d229b 230px,#2c1f8e 356px,#2c1d86 401px);"></div><div style="left:393.0px;top:89.3px;width:1.77px;height:401.2px;background:linear-gradient(#81c865 0px,#80c865 14px,#6bc16c 39px,#55af75 95px,#3a8e84 120px,#2a6e8a 136px,#144f8e 158px,#164393 168px,#2a2ba1 185px,#2d229b 232px,#2c1e8d 358px,#2c1d86 401px);"></div><div style="left:394.4px;top:89.3px;width:1.77px;height:401.6px;background:linear-gradient(#85c964 0px,#8acb64 8px,#6ac16c 34px,#56b174 83px,#388886 106px,#24688b 123px,#134a8f 145px,#1e3b9a 157px,#2a2ba1 168px,#2d229b 231px,#2c1e8d 360px,#2c1d86 402px);"></div><div style="left:395.8px;top:89.3px;width:1.77px;height:400.9px;background:linear-gradient(#9acf63 0px,#9bd063 10px,#7bc667 24px,#6bc26b 36px,#56b174 85px,#388886 108px,#1f628c 130px,#12478f 150px,#2a2ca0 169px,#2d229c 220px,#2c1f8f 351px,#2c1d86 401px);"></div><div style="left:397.3px;top:89.3px;width:1.77px;height:401.0px;background:linear-gradient(#c4db6b 0px,#c1da69 11px,#add562 18px,#7fc766 32px,#5db771 88px,#3c9283 112px,#2f7389 126px,#14518e 150px,#164392 161px,#282ea0 176px,#2e249f 206px,#2c1f90 360px,#2c1e89 401px);"></div><div style="left:398.7px;top:89.3px;width:1.77px;height:401.8px;background:linear-gradient(#bcd965 0px,#b5d762 9px,#7fc865 29px,#5eb871 84px,#409780 108px,#307589 123px,#14508e 149px,#154392 159px,#282ea0 174px,#2e249f 204px,#2c1f90 359px,#2c1e89 402px);"></div><div style="left:400.1px;top:89.3px;width:1.77px;height:401.5px;background:linear-gradient(#9bd063 0px,#96ce63 5px,#84c964 15px,#6fc36a 43px,#55b075 91px,#3a8e84 112px,#296d8a 128px,#144f8f 150px,#164293 160px,#292ca0 176px,#2e239d 213px,#2c1f90 351px,#2c1e87 402px);"></div><div style="left:401.5px;top:89.3px;width:1.77px;height:402.3px;background:linear-gradient(#98cf63 0px,#96ce63 5px,#83c964 15px,#6dc26b 42px,#56b175 88px,#388a85 110px,#24688b 128px,#134b8f 149px,#184195 158px,#292ca0 173px,#2d239d 215px,#2c1f90 349px,#2c1e87 402px);"></div><div style="left:403.0px;top:89.3px;width:1.77px;height:400.9px;background:linear-gradient(#80c865 0px,#7ac667 7px,#67be6d 46px,#52ad76 90px,#388985 112px,#25698b 129px,#134b8f 151px,#194095 160px,#2a2ba1 175px,#2d219a 232px,#2c1e8c 362px,#2c1d86 401px);"></div><div style="left:404.4px;top:89.3px;width:1.77px;height:401.9px;background:linear-gradient(#80c865 0px,#7cc766 6px,#69c06c 37px,#55b075 87px,#398b85 110px,#266a8b 127px,#134c8f 149px,#184194 158px,#2a2ba1 173px,#2d229b 230px,#2c1e8d 360px,#2c1d85 402px);"></div><div style="left:405.8px;top:89.3px;width:1.77px;height:400.8px;background:linear-gradient(#84c964 0px,#7fc865 8px,#68bf6d 41px,#53ae76 84px,#368487 106px,#195a8e 132px,#144591 148px,#2a2ba1 166px,#2d219a 233px,#2c1e8c 363px,#2c1d86 401px);"></div><div style="left:407.2px;top:89.3px;width:1.77px;height:401.8px;background:linear-gradient(#86ca64 0px,#6ac06c 38px,#55b075 83px,#378586 105px,#1a5c8d 130px,#144491 148px,#2a2ba1 166px,#2d229b 231px,#2c1e8d 359px,#2c1d86 402px);"></div><div style="left:408.7px;top:89.3px;width:1.77px;height:401.1px;background:linear-gradient(#7fc865 0px,#77c568 7px,#64bc6f 59px,#51ac77 93px,#398b85 115px,#266a8b 132px,#134c8f 154px,#184195 163px,#2b2ba1 179px,#2d219a 234px,#2c1e8c 364px,#2c1d86 401px);"></div><div style="left:410.1px;top:89.3px;width:1.77px;height:402.3px;background:linear-gradient(#8bcb64 0px,#87ca64 7px,#69bf6c 36px,#53ae76 94px,#398b85 119px,#25698b 137px,#134b8f 159px,#194095 168px,#2b2aa1 184px,#2d219a 239px,#2c1e8a 374px,#2c1d85 402px);"></div><div style="left:411.5px;top:89.3px;width:1.77px;height:401.0px;background:linear-gradient(#8dcc64 0px,#89ca64 4px,#7fc766 10px,#69c06c 49px,#54af75 90px,#398c85 111px,#266a8b 128px,#134c8f 150px,#174294 159px,#2a2ca0 175px,#2d229b 223px,#2c1f90 348px,#2c1e87 401px);"></div><div style="left:412.9px;top:89.3px;width:1.77px;height:401.4px;background:linear-gradient(#93cd63 0px,#90cc64 4px,#82c865 11px,#6cc26b 42px,#56b075 90px,#398b85 113px,#24688b 131px,#134b8f 153px,#194095 162px,#292ca0 176px,#2d229c 218px,#2c1f8f 350px,#2c1e87 401px);"></div><div style="left:414.4px;top:89.3px;width:1.77px;height:401.2px;background:linear-gradient(#9cd063 0px,#94ce63 7px,#72c469 29px,#57b274 86px,#398b85 109px,#24688b 127px,#134b8f 149px,#193f96 158px,#2a2ca0 172px,#2d229c 218px,#2c1f8f 350px,#2c1e87 401px);"></div><div style="left:415.8px;top:89.3px;width:1.77px;height:401.9px;background:linear-gradient(#9ed163 0px,#97ce63 6px,#75c568 27px,#58b374 84px,#388a85 106px,#24688b 124px,#134b8f 145px,#184095 154px,#292ca0 168px,#2e239d 209px,#2c1f90 350px,#2c1e87 402px);"></div><div style="left:417.2px;top:89.3px;width:1.77px;height:401.2px;background:linear-gradient(#a9d463 0px,#a3d263 7px,#7bc667 27px,#6dc26b 48px,#56b075 90px,#398d84 111px,#2b6f8a 126px,#144e8f 149px,#174293 159px,#292ca0 175px,#2e239d 212px,#2c1f90 351px,#2c1e88 401px);"></div><div style="left:418.6px;top:89.3px;width:1.77px;height:400.9px;background:linear-gradient(#a8d363 0px,#a4d263 9px,#7bc667 30px,#6bc16b 53px,#54af76 92px,#3a8e84 112px,#296d8a 128px,#144d8f 151px,#164393 160px,#292da0 175px,#2e239e 209px,#2c1f90 352px,#2c1e88 401px);"></div><div style="left:420.1px;top:89.3px;width:1.77px;height:401.0px;background:linear-gradient(#8ecc64 0px,#89ca64 10px,#67be6d 34px,#52ad76 87px,#378686 110px,#25698b 126px,#134c8f 147px,#184194 156px,#2b2aa1 172px,#2d2199 251px,#2c1d85 401px);"></div><div style="left:421.5px;top:89.3px;width:1.77px;height:401.5px;background:linear-gradient(#86c964 0px,#66bd6e 35px,#53ae76 87px,#388985 110px,#24688b 127px,#134b8f 149px,#1d3b99 161px,#2b2aa1 173px,#2d2199 252px,#2c1d84 402px);"></div><div style="left:422.9px;top:89.3px;width:1.77px;height:400.7px;background:linear-gradient(#a1d163 0px,#9dd063 6px,#79c667 27px,#6ac16c 52px,#55af75 94px,#3a8e84 116px,#2c708a 131px,#144f8e 154px,#164393 164px,#292ca0 180px,#2d239d 217px,#2c1f90 350px,#2c1e87 401px);"></div><div style="left:424.3px;top:89.3px;width:1.77px;height:400.8px;background:linear-gradient(#a3d263 0px,#9ed063 7px,#7ac667 26px,#6dc26b 42px,#55b075 93px,#398d85 116px,#2a6e8a 131px,#144e8f 154px,#164392 163px,#292ca0 179px,#2d239d 214px,#2c1f90 351px,#2c1e87 401px);"></div><div style="left:425.8px;top:89.3px;width:1.77px;height:400.9px;background:linear-gradient(#add562 0px,#a8d363 10px,#7fc865 24px,#6ec36a 36px,#55b075 96px,#3a8e84 121px,#2e7289 135px,#15548e 156px,#154491 168px,#2a2ca0 185px,#2d229b 224px,#2c1f90 349px,#2c1e87 401px);"></div><div style="left:427.2px;top:89.3px;width:1.77px;height:401.1px;background:linear-gradient(#b2d662 0px,#b1d662 9px,#7fc865 24px,#6ec36a 34px,#56b174 95px,#3a8e84 121px,#2e7289 135px,#15548e 156px,#154491 168px,#2a2ca0 185px,#2d229b 224px,#2c1f8f 349px,#2c1e87 401px);"></div><div style="left:428.6px;top:89.3px;width:1.77px;height:401.8px;background:linear-gradient(#b3d762 0px,#aad463 8px,#7ec766 26px,#72c469 41px,#59b473 92px,#3c9183 116px,#2f7389 130px,#15528e 153px,#144491 164px,#282da0 180px,#2e249e 210px,#2c1f90 356px,#2c1e88 402px);"></div><div style="left:430.0px;top:89.3px;width:1.77px;height:401.6px;background:linear-gradient(#bcd965 0px,#b4d762 9px,#7fc766 28px,#5eb771 90px,#3d9382 119px,#2f7489 133px,#15528e 157px,#154492 168px,#292da0 184px,#2e239e 215px,#2c1f90 358px,#2c1e89 402px);"></div><div style="left:431.5px;top:89.3px;width:1.77px;height:401.9px;background:linear-gradient(#98cf63 0px,#93cd63 9px,#71c36a 30px,#66bd6e 59px,#51ac77 101px,#398d84 125px,#286c8a 142px,#144d8f 164px,#164293 173px,#2b2aa1 190px,#2d219a 236px,#2c1e8c 363px,#2c1d86 402px);"></div><div style="left:432.9px;top:89.3px;width:1.77px;height:400.8px;background:linear-gradient(#6ec36a 0px,#6fc36a 3px,#8ecc64 7px,#6bc16c 32px,#56b174 93px,#398d84 121px,#296d8a 137px,#144f8f 159px,#174293 169px,#2b2ba1 186px,#2d219a 235px,#2c1e8c 364px,#2c1d86 401px);"></div><div style="left:434.3px;top:89.3px;width:1.77px;height:401.8px;background:linear-gradient(#7bc667 0px,#80c865 4px,#90cc64 7px,#70c36a 34px,#57b274 95px,#3a8e84 121px,#2a6e8a 137px,#144f8f 159px,#164393 169px,#292ca0 185px,#2d229c 223px,#2c1f90 347px,#2c1e87 402px);"></div><div style="left:435.7px;top:89.3px;width:1.77px;height:401.7px;background:linear-gradient(#7bc667 0px,#7bc667 3px,#92cd63 6px,#a0d163 8px,#7cc766 25px,#70c36a 38px,#57b274 95px,#3b9084 120px,#2e7389 134px,#15538e 156px,#154492 168px,#292ca0 184px,#2d239d 217px,#2c1f90 351px,#2c1e87 402px);"></div><div style="left:437.2px;top:89.3px;width:1.77px;height:400.7px;background:linear-gradient(#72c469 0px,#76c568 4px,#81c865 8px,#6bc16b 42px,#56b175 96px,#3a8e84 122px,#2e7289 136px,#15548e 157px,#154491 169px,#2a2ca0 186px,#2d229c 222px,#2c1f8f 349px,#2c1e87 401px);"></div><div style="left:438.6px;top:89.3px;width:1.77px;height:401.1px;background:linear-gradient(#6dc26b 0px,#71c469 4px,#7cc766 8px,#69c06c 43px,#55b075 95px,#3a8e84 120px,#2c708a 135px,#14518e 157px,#154492 167px,#2a2ca0 184px,#2d229b 226px,#2c1f8e 353px,#2c1d86 401px);"></div><div style="left:440.0px;top:89.3px;width:1.77px;height:401.9px;background:linear-gradient(#6cc26b 0px,#6cc26b 3px,#84c964 6px,#91cd63 7px,#6bc16c 30px,#55b075 88px,#388a85 113px,#266a8b 130px,#134c8f 152px,#184195 161px,#2a2ba1 176px,#2d219a 231px,#2c1e8c 362px,#2c1d85 402px);"></div><div style="left:441.4px;top:89.3px;width:1.77px;height:401.5px;background:linear-gradient(#71c469 0px,#72c469 3px,#90cc64 6px,#9cd063 7px,#7cc766 21px,#6bc16b 34px,#57b274 89px,#398b85 115px,#23678c 134px,#134a8f 156px,#23359e 171px,#2b2aa1 180px,#2d219a 236px,#2c1e8c 363px,#2c1d86 402px);"></div><div style="left:442.9px;top:89.3px;width:1.77px;height:401.2px;background:linear-gradient(#79c667 0px,#7ac667 3px,#a3d263 7px,#7ec766 23px,#70c36a 36px,#58b274 96px,#3a8f84 123px,#2f7389 136px,#15538e 159px,#164392 171px,#292ca0 187px,#2d229c 222px,#2c1f90 348px,#2c1e87 401px);"></div><div style="left:444.3px;top:89.3px;width:1.77px;height:401.6px;background:linear-gradient(#7bc667 0px,#7cc766 3px,#a4d263 7px,#7dc766 23px,#70c36a 35px,#58b274 95px,#3a8e84 122px,#2c708a 137px,#144f8e 160px,#164393 170px,#2a2ca0 186px,#2d229c 224px,#2c1f90 348px,#2c1e87 402px);"></div><div style="left:445.7px;top:89.3px;width:1.77px;height:401.8px;background:linear-gradient(#77c568 0px,#7bc667 4px,#89ca64 7px,#70c36a 41px,#57b274 103px,#3b9183 131px,#2f7389 145px,#15528e 168px,#154492 179px,#292ca0 195px,#2d229c 222px,#2c1f90 349px,#2c1e88 402px);"></div><div style="left:447.1px;top:89.3px;width:1.77px;height:402.3px;background:linear-gradient(#72c469 0px,#77c568 4px,#84c964 7px,#6bc26b 55px,#54af75 106px,#3c9183 132px,#2f7389 146px,#15528e 169px,#154491 180px,#2a2ca0 197px,#2d229c 229px,#2c1f90 350px,#2c1e87 402px);"></div><div style="left:448.6px;top:89.3px;width:1.77px;height:401.8px;background:linear-gradient(#6fc36a 0px,#6fc36a 3px,#8ccb64 7px,#6cc26b 35px,#57b274 93px,#3a8e84 119px,#2e7289 133px,#15548e 154px,#154491 166px,#2a2ca0 183px,#2d229b 223px,#2c1f8f 350px,#2c1d86 402px);"></div><div style="left:450.0px;top:89.3px;width:1.77px;height:401.7px;background:linear-gradient(#72c469 0px,#76c568 7px,#82c964 11px,#6ac16c 41px,#53ae76 95px,#398c85 119px,#276b8b 136px,#134d8f 158px,#174294 167px,#2a2ba0 183px,#2d229b 229px,#2c1f8e 355px,#2c1d86 402px);"></div><div style="left:451.4px;top:89.3px;width:1.77px;height:401.6px;background:linear-gradient(#7bc667 0px,#7fc865 7px,#92cd63 10px,#6ec36a 38px,#55b075 98px,#3a8f84 123px,#2f7489 136px,#15538e 159px,#164392 171px,#2a2ba0 188px,#2d229b 230px,#2c1f8f 352px,#2c1e87 402px);"></div><div style="left:452.8px;top:89.3px;width:1.77px;height:400.8px;background:linear-gradient(#71c469 0px,#72c469 4px,#89cb64 8px,#6dc26b 38px,#56b174 94px,#3a8f84 119px,#2f7489 132px,#15538e 155px,#164392 167px,#2a2ba0 184px,#2d229b 227px,#2c1f8f 350px,#2c1e87 401px);"></div><div style="left:454.3px;top:89.3px;width:1.77px;height:401.3px;background:linear-gradient(#7ec766 0px,#7fc766 3px,#a6d363 7px,#9cd063 15px,#7fc865 31px,#60b970 90px,#41997f 119px,#2f7589 135px,#14518e 160px,#164393 171px,#282ea0 186px,#2e249e 214px,#2c1f90 364px,#2c1e8a 401px);"></div><div style="left:455.7px;top:89.3px;width:1.77px;height:401.5px;background:linear-gradient(#79c667 0px,#79c667 5px,#85c964 7px,#a3d263 10px,#7ec766 34px,#5fb871 93px,#3d9382 122px,#2f7489 136px,#14508e 161px,#154492 171px,#282ea0 186px,#2e249e 214px,#2c1f90 364px,#2c1e8a 401px);"></div><div style="left:457.1px;top:89.3px;width:1.77px;height:402.2px;background:linear-gradient(#7dc766 0px,#7fc766 7px,#a4d263 11px,#7bc667 32px,#5bb572 86px,#3a8e84 109px,#296d8a 125px,#144d8f 148px,#164393 157px,#282ea0 172px,#2e249e 204px,#2c1f90 355px,#2c1e88 402px);"></div><div style="left:458.5px;top:89.3px;width:1.77px;height:401.2px;background:linear-gradient(#91cd64 0px,#90cd64 6px,#add562 11px,#7ec766 32px,#5db672 87px,#3c9183 110px,#2f7389 124px,#14518e 148px,#154392 159px,#282ea0 174px,#2e249f 204px,#2c1f90 359px,#2c1e89 401px);"></div><div style="left:460.0px;top:89.3px;width:1.77px;height:400.8px;background:linear-gradient(#89ca64 0px,#8ccb64 6px,#9fd163 10px,#7cc766 33px,#5fb871 89px,#409781 117px,#307589 132px,#14518e 157px,#164392 168px,#282ea0 183px,#2e249e 213px,#2c1f90 360px,#2c1e89 401px);"></div><div style="left:461.4px;top:89.3px;width:1.77px;height:400.9px;background:linear-gradient(#84c964 0px,#89ca64 6px,#92cd63 10px,#77c568 42px,#5db771 92px,#3c9283 118px,#307589 131px,#14508e 157px,#154392 167px,#282ea0 182px,#2e249e 211px,#2c1f90 361px,#2c1e89 401px);"></div><div style="left:462.8px;top:89.3px;width:1.77px;height:402.2px;background:linear-gradient(#80c865 0px,#85c964 6px,#8ccb64 9px,#70c36a 38px,#57b274 93px,#3a8e84 117px,#2c708a 132px,#144f8e 155px,#164393 165px,#292ca0 181px,#2d239c 218px,#2c1f90 349px,#2c1e87 402px);"></div><div style="left:464.2px;top:89.3px;width:1.77px;height:401.1px;background:linear-gradient(#7dc766 0px,#82c865 10px,#6cc26b 43px,#56b175 92px,#3a8f84 115px,#2e7289 129px,#15548e 150px,#144491 162px,#292ca0 179px,#2d239c 217px,#2c1f8f 351px,#2c1e87 401px);"></div><div style="left:465.7px;top:89.3px;width:1.77px;height:401.5px;background:linear-gradient(#84c964 0px,#86c964 10px,#6cc26b 52px,#55b075 92px,#398d84 113px,#2b6f8a 128px,#144e8f 151px,#174293 161px,#292da0 176px,#2e239e 210px,#2c1f90 353px,#2c1e88 402px);"></div><div style="left:467.1px;top:89.3px;width:1.77px;height:401.0px;background:linear-gradient(#90cd64 0px,#95ce63 8px,#74c469 29px,#58b373 88px,#398c85 112px,#266a8b 129px,#134c8f 151px,#174294 160px,#2a2ca0 176px,#2d239c 218px,#2c1f90 349px,#2c1e87 401px);"></div><div style="left:468.5px;top:89.3px;width:1.77px;height:401.3px;background:linear-gradient(#add562 0px,#acd562 10px,#7ec766 30px,#5eb871 84px,#3f9681 108px,#2f7589 123px,#14518e 148px,#164393 159px,#282ea0 174px,#2e249f 204px,#2c1f90 359px,#2c1e89 401px);"></div><div style="left:469.9px;top:89.3px;width:1.77px;height:400.9px;background:linear-gradient(#9ed163 0px,#9acf63 7px,#8dcb64 16px,#73c469 49px,#58b374 92px,#3b9083 113px,#2e7289 127px,#15528e 150px,#154492 161px,#282ea0 176px,#2e249f 206px,#2c1f90 361px,#2c1e89 401px);"></div><div style="left:471.4px;top:89.3px;width:1.77px;height:401.4px;background:linear-gradient(#98cf63 0px,#95ce63 4px,#88ca64 10px,#6ec36a 48px,#55b075 91px,#3a8f84 111px,#2e7289 125px,#15528e 147px,#164392 159px,#292da0 175px,#2e249e 209px,#2c1f90 354px,#2c1e88 401px);"></div><div style="left:472.8px;top:89.3px;width:1.77px;height:401.3px;background:linear-gradient(#95ce63 0px,#90cc64 4px,#83c964 8px,#5fb871 79px,#52ad77 93px,#398d84 111px,#296d8a 127px,#134d8f 150px,#164293 159px,#282da0 174px,#2e249e 207px,#2c1f90 354px,#2c1e88 401px);"></div><div style="left:474.2px;top:89.3px;width:1.77px;height:402.2px;background:linear-gradient(#7ac667 0px,#76c568 4px,#6cc26b 8px,#6bc16b 41px,#56b174 91px,#3a8e84 115px,#2c708a 130px,#14518e 152px,#154492 162px,#2a2ca0 179px,#2d229b 222px,#2c1f8f 349px,#2c1d86 402px);"></div><div style="left:475.6px;top:89.3px;width:1.77px;height:401.6px;background:linear-gradient(#7ec766 0px,#7bc667 6px,#71c469 11px,#60b970 72px,#52ad77 94px,#398c85 115px,#276b8b 132px,#134c8f 154px,#174294 163px,#2a2ba0 179px,#2d229b 227px,#2c1f8f 351px,#2c1d86 402px);"></div><div style="left:477.1px;top:89.3px;width:1.77px;height:402.0px;background:linear-gradient(#75c568 0px,#70c36a 5px,#6ac06c 10px,#60b870 63px,#50ab78 87px,#378686 107px,#1b5d8d 132px,#144591 150px,#2b2aa1 168px,#2d219a 240px,#2c1e89 378px,#2c1d85 402px);"></div><div style="left:478.5px;top:89.3px;width:1.77px;height:401.8px;background:linear-gradient(#78c568 0px,#72c469 5px,#6cc26b 10px,#5ab473 73px,#4ea879 88px,#378586 107px,#25698b 122px,#134d8f 143px,#174194 152px,#2b2aa1 168px,#2d2199 248px,#2c1d85 402px);"></div><div style="left:479.9px;top:89.3px;width:1.77px;height:401.2px;background:linear-gradient(#96ce63 0px,#90cd64 5px,#78c667 22px,#6ac16c 40px,#57b274 79px,#358187 101px,#144f8e 134px,#164293 144px,#2a2ca0 160px,#2d229c 218px,#2c1f8f 349px,#2c1d86 401px);"></div><div style="left:481.3px;top:89.3px;width:1.77px;height:402.1px;background:linear-gradient(#90cc64 0px,#89ca64 6px,#6ac16c 34px,#56b175 82px,#368486 105px,#1a5c8d 130px,#144591 147px,#2a2ba1 165px,#2d229b 229px,#2c1e8d 358px,#2c1d86 402px);"></div><div style="left:482.8px;top:89.3px;width:1.77px;height:402.2px;background:linear-gradient(#89ca64 0px,#69c06c 34px,#55b075 92px,#398c85 118px,#276b8b 135px,#134d8f 157px,#164393 165px,#2a2ba1 182px,#2d219a 231px,#2c1e8c 362px,#2c1d85 402px);"></div><div style="left:484.2px;top:89.3px;width:1.77px;height:402.2px;background:linear-gradient(#90cd64 0px,#8bcb64 5px,#6bc16b 34px,#56b174 94px,#398d84 121px,#296d8a 137px,#144f8f 159px,#174293 169px,#2a2ba1 186px,#2d229b 234px,#2c1e8d 361px,#2c1d86 402px);"></div><div style="left:485.6px;top:89.3px;width:1.77px;height:401.9px;background:linear-gradient(#82c964 0px,#7bc667 6px,#68bf6d 45px,#53ae76 87px,#388885 108px,#20638c 129px,#12488f 150px,#2a2ca0 169px,#2d229b 224px,#2c1f8e 352px,#2c1d86 402px);"></div><div style="left:487.0px;top:89.3px;width:1.77px;height:400.8px;background:linear-gradient(#7ec766 0px,#7ac667 5px,#72c469 10px,#5fb871 73px,#52ad77 90px,#388a85 110px,#24688b 128px,#134b8f 149px,#184095 158px,#292ca0 172px,#2d229c 218px,#2c1f8f 350px,#2c1e87 401px);"></div><div style="left:488.5px;top:89.3px;width:1.77px;height:401.2px;background:linear-gradient(#7ac667 0px,#74c469 6px,#6ec36a 11px,#5ab473 80px,#4da879 95px,#388985 114px,#25698b 131px,#134b8f 153px,#194095 162px,#2a2ba1 177px,#2d219a 233px,#2c1e8c 364px,#2c1d86 401px);"></div><div style="left:489.9px;top:89.3px;width:1.77px;height:401.7px;background:linear-gradient(#7ac667 0px,#76c568 4px,#6ec26b 8px,#5cb672 75px,#4faa78 93px,#388985 113px,#25698b 130px,#134b8f 152px,#194095 161px,#2a2ba1 176px,#2d229b 232px,#2c1e8d 361px,#2c1d86 402px);"></div><div style="left:491.3px;top:89.3px;width:1.77px;height:402.2px;background:linear-gradient(#86c964 0px,#7fc865 5px,#79c667 11px,#5cb672 82px,#4fa978 97px,#398c85 115px,#266a8b 132px,#134c8f 154px,#174194 163px,#2a2ca0 179px,#2d229c 223px,#2c1f90 348px,#2c1e87 402px);"></div><div style="left:492.7px;top:89.3px;width:1.77px;height:401.8px;background:linear-gradient(#85c964 0px,#82c865 4px,#79c667 9px,#5fb870 77px,#51ac77 94px,#398d84 113px,#2b6f8a 128px,#144e8f 151px,#174293 161px,#292ca0 177px,#2d239c 217px,#2c1f90 349px,#2c1e87 402px);"></div><div style="left:494.2px;top:89.3px;width:1.77px;height:401.5px;background:linear-gradient(#79c667 0px,#76c568 4px,#6dc26b 8px,#5cb672 77px,#50aa78 95px,#388a85 116px,#266a8b 133px,#134c8f 155px,#184195 164px,#2b2ba1 180px,#2d219a 234px,#2c1e8c 364px,#2c1d86 401px);"></div><div style="left:495.6px;top:89.3px;width:1.77px;height:402.1px;background:linear-gradient(#77c568 0px,#73c469 4px,#6bc16c 8px,#5fb871 70px,#50ab77 94px,#388985 116px,#25698b 133px,#134b8f 155px,#194095 164px,#2b2aa1 180px,#2d219a 237px,#2c1e8b 370px,#2c1d85 402px);"></div><div style="left:497.0px;top:89.3px;width:1.77px;height:402.0px;background:linear-gradient(#84c964 0px,#7fc865 7px,#69c06c 46px,#52ad76 98px,#3a8e84 121px,#2e7289 135px,#15548e 156px,#154491 168px,#2a2ca0 185px,#2d229b 225px,#2c1f8f 351px,#2c1d86 402px);"></div><div style="left:498.4px;top:89.3px;width:1.77px;height:401.7px;background:linear-gradient(#8dcc64 0px,#89ca64 6px,#7fc865 12px,#6ac06c 50px,#53ae76 96px,#3a8f84 118px,#2f7489 131px,#15538e 154px,#164392 166px,#292ca0 182px,#2d239c 217px,#2c1f8f 352px,#2c1e87 402px);"></div><div style="left:499.9px;top:89.3px;width:1.77px;height:401.0px;background:linear-gradient(#9fd163 0px,#99cf63 5px,#7ac667 24px,#6ac16c 49px,#54af75 83px,#357f88 105px,#144f8e 137px,#164393 147px,#292da0 162px,#2e249e 200px,#2c1f90 349px,#2c1e87 401px);"></div><div style="left:501.3px;top:89.3px;width:1.77px;height:401.1px;background:linear-gradient(#a4d263 0px,#9dd063 6px,#7ac667 25px,#6bc16b 47px,#55b075 83px,#368486 104px,#1b5d8d 128px,#134690 146px,#292da0 163px,#2e249e 201px,#2c1f90 349px,#2c1e87 401px);"></div><div style="left:502.7px;top:89.3px;width:1.77px;height:401.9px;background:linear-gradient(#b3d762 0px,#abd463 7px,#7dc766 28px,#5fb871 82px,#47a17c 101px,#2c708a 125px,#144f8e 148px,#154392 158px,#282ea0 173px,#2e249f 204px,#2c1f90 358px,#2c1e89 402px);"></div><div style="left:504.1px;top:89.3px;width:1.77px;height:402.1px;background:linear-gradient(#a6d363 0px,#a3d263 4px,#84c964 20px,#72c469 44px,#58b374 89px,#3a8f84 110px,#2f7389 123px,#14518e 147px,#164392 158px,#282da0 174px,#2e249e 206px,#2c1f90 356px,#2c1e88 402px);"></div><div style="left:505.6px;top:89.3px;width:1.77px;height:400.7px;background:linear-gradient(#90cc64 0px,#8acb64 4px,#7fc865 8px,#60b970 85px,#50ab77 105px,#3c9183 124px,#2f7389 138px,#15528e 161px,#164392 173px,#292ca0 189px,#2d239c 221px,#2c1f90 351px,#2c1e88 401px);"></div><div style="left:507.0px;top:89.3px;width:1.77px;height:401.0px;background:linear-gradient(#91cd63 0px,#8dcc64 4px,#82c865 8px,#6ac06c 57px,#54ae76 102px,#3a8f84 126px,#2f7489 139px,#15538e 162px,#154392 174px,#292ca0 190px,#2d229c 221px,#2c1f90 349px,#2c1e87 401px);"></div><div style="left:508.4px;top:89.3px;width:1.77px;height:401.1px;background:linear-gradient(#93cd63 0px,#8ccb64 6px,#6bc16b 34px,#56b174 91px,#398d84 116px,#286c8a 133px,#144d8f 155px,#164293 164px,#2a2ba0 180px,#2d229b 228px,#2c1f8e 355px,#2c1d86 401px);"></div><div style="left:509.8px;top:89.3px;width:1.77px;height:400.9px;background:linear-gradient(#92cd63 0px,#8acb64 7px,#6ac06c 33px,#56b175 89px,#388a85 115px,#25698b 132px,#134b8f 154px,#184095 163px,#2b2aa1 179px,#2d219a 235px,#2c1e8c 365px,#2c1d86 401px);"></div><div style="left:511.3px;top:89.3px;width:1.77px;height:401.7px;background:linear-gradient(#add562 0px,#a8d363 8px,#7ec766 23px,#6fc36a 34px,#58b374 83px,#388985 105px,#22668c 124px,#134a8f 145px,#1d3c99 156px,#2a2ca0 168px,#2d229c 218px,#2c1f90 349px,#2c1e87 402px);"></div><div style="left:512.7px;top:89.3px;width:1.77px;height:401.0px;background:linear-gradient(#b8d862 0px,#b4d762 8px,#7fc865 25px,#72c469 35px,#5ab473 81px,#388985 103px,#22668c 122px,#134a8f 143px,#1d3b99 154px,#292da0 165px,#2e249e 203px,#2c1f90 350px,#2c1e88 401px);"></div><div style="left:514.1px;top:89.3px;width:1.77px;height:401.7px;background:linear-gradient(#a0d163 0px,#9cd063 4px,#8ccb64 12px,#73c469 37px,#59b473 92px,#3a8f84 117px,#2f7489 130px,#15518e 154px,#154392 165px,#292da0 181px,#2e239d 214px,#2c1f90 354px,#2c1e88 402px);"></div><div style="left:515.5px;top:89.3px;width:1.77px;height:402.2px;background:linear-gradient(#a1d163 0px,#9ed063 5px,#89ca64 16px,#73c469 39px,#59b473 92px,#3a8f84 117px,#2f7489 130px,#15518e 154px,#154392 165px,#292da0 181px,#2e239d 214px,#2c1f90 354px,#2c1e88 402px);"></div><div style="left:517.0px;top:89.3px;width:1.77px;height:401.1px;background:linear-gradient(#9dd063 0px,#9acf63 4px,#83c964 16px,#70c36a 39px,#58b374 95px,#3a8f84 121px,#2f7489 134px,#15538e 157px,#154392 169px,#292ca0 185px,#2d239d 217px,#2c1f90 351px,#2c1e88 401px);"></div><div style="left:518.4px;top:89.3px;width:1.77px;height:400.8px;background:linear-gradient(#96ce63 0px,#93cd63 4px,#83c964 12px,#6dc26b 40px,#57b274 91px,#3a8e84 115px,#2c708a 130px,#144f8e 153px,#164393 163px,#292ca0 179px,#2d239c 218px,#2c1f90 350px,#2c1e87 401px);"></div><div style="left:519.8px;top:89.3px;width:1.77px;height:401.3px;background:linear-gradient(#9acf63 0px,#97cf63 4px,#83c964 15px,#6ec36a 39px,#57b174 89px,#398d84 111px,#296d8a 127px,#144f8f 149px,#164293 159px,#292ca0 175px,#2d239d 215px,#2c1f90 350px,#2c1e87 401px);"></div><div style="left:521.2px;top:89.3px;width:1.77px;height:402.2px;background:linear-gradient(#94ce63 0px,#90cc64 4px,#83c964 10px,#6cc26b 41px,#57b274 88px,#398b85 111px,#24688b 129px,#134b8f 151px,#194096 160px,#292ca0 174px,#2d239c 217px,#2c1f8f 350px,#2c1e87 402px);"></div><div style="left:522.7px;top:89.3px;width:1.77px;height:401.5px;background:linear-gradient(#8bcb64 0px,#87ca64 4px,#7dc766 10px,#67be6d 59px,#54ae76 90px,#398b85 111px,#24688b 129px,#134b8f 151px,#1b3e97 161px,#2a2ca0 174px,#2d229c 218px,#2c1f90 349px,#2c1e87 401px);"></div><div style="left:524.1px;top:89.3px;width:1.77px;height:401.9px;background:linear-gradient(#92cd63 0px,#8ecc64 4px,#82c964 8px,#6ac06c 53px,#54af75 89px,#398c85 109px,#286c8a 125px,#144e8f 147px,#164392 156px,#292da0 172px,#2e239d 210px,#2c1f90 350px,#2c1e87 402px);"></div><div style="left:525.5px;top:89.3px;width:1.77px;height:401.8px;background:linear-gradient(#a3d263 0px,#9ed163 4px,#90cd64 9px,#77c568 38px,#5db672 91px,#3c9283 118px,#2f7389 132px,#14518e 156px,#164392 167px,#282ea0 182px,#2e249e 212px,#2c1f90 359px,#2c1e89 402px);"></div><div style="left:526.9px;top:89.3px;width:1.77px;height:402.1px;background:linear-gradient(#9dd063 0px,#98cf63 4px,#89ca64 8px,#62ba6f 82px,#52ad76 100px,#3c9283 118px,#307589 131px,#14518e 156px,#164392 167px,#282ea0 182px,#2e249e 212px,#2c1f90 360px,#2c1e89 402px);"></div><div style="left:528.4px;top:89.3px;width:1.77px;height:402.2px;background:linear-gradient(#94ce63 0px,#93cd63 3px,#81c865 7px,#64bc6f 74px,#55b075 92px,#3a8f84 111px,#2f7389 124px,#14518e 148px,#154392 159px,#282ea0 174px,#2e249f 204px,#2c1f90 358px,#2c1e89 402px);"></div><div style="left:529.8px;top:89.3px;width:1.77px;height:400.9px;background:linear-gradient(#8fcc64 0px,#8ecc64 3px,#7bc667 7px,#78c667 39px,#5eb771 88px,#3d9382 113px,#2f7489 127px,#14508e 152px,#154492 162px,#282ea0 177px,#2e249f 206px,#2c1f90 361px,#2c1e89 401px);"></div><div style="left:531.2px;top:89.3px;width:1.77px;height:401.4px;background:linear-gradient(#94ce63 0px,#93cd63 3px,#80c865 7px,#72c469 50px,#57b274 92px,#3b9183 112px,#2e7389 126px,#14518e 150px,#164393 161px,#282ea0 176px,#2e249f 206px,#2c1f90 360px,#2c1e89 401px);"></div><div style="left:532.6px;top:89.3px;width:1.77px;height:402.1px;background:linear-gradient(#98cf63 0px,#97cf63 3px,#82c865 7px,#6ec36a 60px,#57b274 93px,#3a9084 114px,#2f7489 127px,#15518e 151px,#154492 162px,#282ea0 177px,#2e249f 206px,#2c1f90 362px,#2c1e89 402px);"></div><div style="left:534.1px;top:89.3px;width:1.77px;height:402.3px;background:linear-gradient(#a5d363 0px,#a1d163 4px,#94cd63 8px,#78c667 38px,#5eb771 81px,#3a8f84 103px,#2d7189 117px,#14518e 140px,#154392 151px,#272f9f 166px,#2e249f 197px,#2c1f90 359px,#2c1e89 402px);"></div><div style="left:535.5px;top:89.3px;width:1.77px;height:402.0px;background:linear-gradient(#a4d263 0px,#9fd163 4px,#92cd63 8px,#75c568 42px,#5db771 81px,#398b85 103px,#266a8b 120px,#134c8f 142px,#174194 151px,#272f9f 165px,#2e249f 196px,#2c1f90 358px,#2c1e89 402px);"></div><div style="left:536.9px;top:89.3px;width:1.77px;height:400.7px;background:linear-gradient(#8ccb64 0px,#89ca64 6px,#7cc766 11px,#62ba6f 76px,#52ad76 96px,#3a8f84 115px,#2f7489 128px,#15518e 152px,#154392 163px,#292da0 179px,#2e239e 212px,#2c1f90 354px,#2c1e88 401px);"></div><div style="left:538.3px;top:89.3px;width:1.77px;height:401.4px;background:linear-gradient(#8bcb64 0px,#88ca64 5px,#7cc766 10px,#62ba6f 78px,#53ad76 98px,#3b9084 118px,#2e7289 132px,#15538e 154px,#154492 166px,#292da0 182px,#2e239d 214px,#2c1f90 354px,#2c1e88 401px);"></div><div style="left:539.8px;top:89.3px;width:1.77px;height:401.1px;background:linear-gradient(#9fd163 0px,#9bd063 4px,#8dcb64 10px,#73c469 40px,#59b473 89px,#3a8e84 112px,#296d8a 128px,#144d8f 151px,#164393 160px,#282da0 175px,#2e249e 206px,#2c1f90 356px,#2c1e88 401px);"></div><div style="left:541.2px;top:89.3px;width:1.77px;height:401.8px;background:linear-gradient(#abd463 0px,#a7d363 4px,#94ce63 13px,#7bc667 31px,#60b970 80px,#4faa78 95px,#398b85 111px,#266a8b 128px,#134c8f 150px,#164393 158px,#282ea0 173px,#2e249f 203px,#2c1f90 359px,#2c1e89 402px);"></div><div style="left:542.6px;top:89.3px;width:1.77px;height:401.1px;background:linear-gradient(#add562 0px,#a6d363 6px,#7dc766 27px,#5db672 86px,#3c9283 111px,#2f7489 125px,#15518e 149px,#154492 160px,#282da0 176px,#2e249e 208px,#2c1f90 356px,#2c1e88 401px);"></div><div style="left:544.0px;top:89.3px;width:1.77px;height:401.7px;background:linear-gradient(#9cd063 0px,#98cf63 5px,#8acb64 11px,#71c36a 44px,#56b174 92px,#3b9084 113px,#2e7289 127px,#15538e 149px,#154492 161px,#292da0 177px,#2e239e 210px,#2c1f90 355px,#2c1e88 402px);"></div><div style="left:545.5px;top:89.3px;width:1.77px;height:401.1px;background:linear-gradient(#96ce63 0px,#93cd63 5px,#83c964 13px,#6dc26b 43px,#56b175 91px,#398c85 114px,#2a6e8a 129px,#144e8f 152px,#164392 161px,#292ca0 177px,#2d239d 215px,#2c1f90 350px,#2c1e87 401px);"></div><div style="left:546.9px;top:89.3px;width:1.77px;height:401.2px;background:linear-gradient(#97cf63 0px,#93cd63 5px,#80c865 17px,#6dc26b 41px,#56b174 89px,#3a8e84 111px,#296d8a 127px,#144f8f 149px,#164293 159px,#292ca0 175px,#2d239c 216px,#2c1f90 350px,#2c1e87 401px);"></div><div style="left:548.3px;top:89.3px;width:1.77px;height:401.3px;background:linear-gradient(#7dc766 0px,#77c568 5px,#71c36a 10px,#59b373 84px,#49a37b 101px,#398b85 116px,#24688b 134px,#134b8f 156px,#1a3e97 166px,#2a2ba1 180px,#2d229b 232px,#2c1e8d 361px,#2c1d86 401px);"></div><div style="left:549.7px;top:89.3px;width:1.77px;height:401.3px;background:linear-gradient(#82c865 0px,#7cc766 6px,#6cc26b 35px,#57b274 90px,#398d84 115px,#296d8a 131px,#144e8f 153px,#174293 163px,#2a2ba0 179px,#2d229b 227px,#2c1f8e 353px,#2c1d86 401px);"></div><div style="left:551.2px;top:89.3px;width:1.77px;height:400.7px;background:linear-gradient(#8ecc64 0px,#8acb64 4px,#80c865 9px,#6ac06c 49px,#54af75 92px,#398c85 114px,#266a8b 131px,#134c8f 153px,#174294 162px,#2a2ca0 178px,#2d229b 223px,#2c1f90 348px,#2c1e87 401px);"></div><div style="left:552.6px;top:89.3px;width:1.77px;height:401.6px;background:linear-gradient(#8ecc64 0px,#8acb64 4px,#7fc865 9px,#68bf6d 58px,#54af76 94px,#398d85 116px,#2a6e8a 131px,#144e8f 154px,#164392 163px,#292ca0 179px,#2d239d 214px,#2c1f90 351px,#2c1e87 402px);"></div><div style="left:554.0px;top:89.3px;width:1.77px;height:401.7px;background:linear-gradient(#acd562 0px,#a6d363 6px,#7ec766 28px,#5db771 93px,#3d9382 123px,#2f7489 137px,#14508e 162px,#154492 172px,#292da0 188px,#2e239e 216px,#2c1f90 358px,#2c1e89 402px);"></div><div style="left:555.4px;top:89.3px;width:1.77px;height:401.3px;background:linear-gradient(#b2d662 0px,#abd462 7px,#7dc766 30px,#5eb771 94px,#3e9482 126px,#2f7589 140px,#14518e 165px,#164393 176px,#292da0 191px,#2e239d 218px,#2c1f90 359px,#2c1e89 401px);"></div><div style="left:556.9px;top:89.3px;width:1.77px;height:401.3px;background:linear-gradient(#98cf63 0px,#95ce63 4px,#85c964 11px,#6fc36a 40px,#56b174 95px,#3a8e84 120px,#296d8a 136px,#144f8f 158px,#164393 168px,#292ca0 184px,#2d239c 220px,#2c1f90 349px,#2c1e87 401px);"></div><div style="left:558.3px;top:89.3px;width:1.77px;height:402.1px;background:linear-gradient(#9ed163 0px,#9bd063 4px,#84c964 16px,#71c36a 39px,#57b274 95px,#3a9084 120px,#2f7489 133px,#15518e 157px,#154392 168px,#292ca0 184px,#2d239d 217px,#2c1f90 351px,#2c1e87 402px);"></div><div style="left:559.7px;top:89.3px;width:1.77px;height:402.1px;background:linear-gradient(#5db771 0px,#5eb771 3px,#82c865 6px,#98cf63 7px,#78c568 31px,#5db771 89px,#3f9681 117px,#2f7589 132px,#14518e 157px,#164393 168px,#292da0 183px,#2e239e 213px,#2c1f90 357px,#2c1e88 402px);"></div><div style="left:561.1px;top:89.3px;width:1.77px;height:401.2px;background:linear-gradient(#5cb672 0px,#5db671 3px,#76c568 5px,#88ca64 6px,#a3d263 7px,#7cc766 29px,#5fb871 86px,#47a17c 108px,#398b85 119px,#266a8b 136px,#134c8f 158px,#164393 166px,#282da0 181px,#2e249e 211px,#2c1f90 359px,#2c1e89 401px);"></div><div style="left:562.6px;top:89.3px;width:1.77px;height:401.1px;background:linear-gradient(#5cb672 0px,#5db771 3px,#76c568 5px,#88ca64 6px,#a2d263 7px,#7cc766 27px,#5cb672 89px,#3c9283 115px,#2f7489 129px,#15518e 153px,#154492 164px,#292da0 180px,#2e239e 212px,#2c1f90 356px,#2c1e88 401px);"></div><div style="left:564.0px;top:89.3px;width:1.77px;height:402.1px;background:linear-gradient(#5fb871 0px,#60b970 3px,#85c964 6px,#9dd063 7px,#79c667 30px,#5eb771 86px,#449d7e 109px,#276b8b 134px,#134d8f 156px,#164293 165px,#282da0 180px,#2e249e 211px,#2c1f90 357px,#2c1e88 402px);"></div><div style="left:565.4px;top:89.3px;width:1.77px;height:402.0px;background:linear-gradient(#5eb771 0px,#5fb871 3px,#76c568 5px,#87ca64 6px,#9fd163 7px,#7cc766 28px,#5db771 89px,#3f9681 117px,#2f7589 132px,#14518e 157px,#164393 168px,#292da0 183px,#2e249e 213px,#2c1f90 357px,#2c1e88 402px);"></div><div style="left:566.8px;top:89.3px;width:1.77px;height:401.4px;background:linear-gradient(#61ba70 0px,#62bb6f 3px,#86ca64 6px,#9cd063 7px,#79c667 30px,#5eb771 89px,#439b7f 116px,#2c7089 137px,#144f8e 160px,#164392 170px,#292da0 186px,#2e239d 217px,#2c1f90 356px,#2c1e88 401px);"></div><div style="left:568.3px;top:89.3px;width:1.77px;height:401.4px;background:linear-gradient(#6bc16b 0px,#6cc26b 3px,#84c964 5px,#acd562 7px,#7dc766 28px,#5eb871 86px,#439c7e 110px,#2f7489 129px,#15518e 153px,#154492 164px,#292da0 180px,#2e249e 211px,#2c1f90 358px,#2c1e89 401px);"></div><div style="left:569.7px;top:89.3px;width:1.77px;height:400.8px;background:linear-gradient(#6ec36a 0px,#72c469 4px,#84c964 6px,#a1d163 8px,#7bc667 30px,#5eb771 87px,#419880 113px,#2f7489 129px,#14508e 154px,#154492 164px,#282da0 180px,#2e249e 211px,#2c1f90 358px,#2c1e89 401px);"></div><div style="left:571.1px;top:89.3px;width:1.77px;height:401.0px;background:linear-gradient(#62bb6f 0px,#62bb6f 5px,#7dc766 8px,#98cf63 10px,#7ac667 35px,#5fb871 82px,#419880 104px,#307689 119px,#14508e 145px,#164393 156px,#282ea0 171px,#2e249f 202px,#2c1f90 359px,#2c1e89 401px);"></div><div style="left:572.5px;top:89.3px;width:1.77px;height:401.0px;background:linear-gradient(#62bb6f 0px,#62ba6f 6px,#80c865 9px,#94ce63 10px,#a0d163 11px,#7fc865 37px,#60b970 86px,#3e9482 109px,#2f7489 123px,#144f8f 149px,#164392 159px,#27309f 173px,#2e25a0 202px,#2c1f90 366px,#2c1e8a 401px);"></div><div style="left:574.0px;top:89.3px;width:1.77px;height:401.6px;background:linear-gradient(#64bc6e 0px,#65bc6e 3px,#80c865 6px,#8ecc64 7px,#72c469 45px,#58b373 88px,#3a8e84 109px,#296d8a 125px,#144d8f 148px,#164393 157px,#282ea0 172px,#2e249f 203px,#2c1f90 357px,#2c1e89 402px);"></div><div style="left:575.4px;top:89.3px;width:1.77px;height:402.0px;background:linear-gradient(#69bf6c 0px,#69c06c 3px,#84c964 6px,#93cd63 7px,#76c568 35px,#5db672 85px,#3c9183 109px,#2f7389 123px,#14518e 147px,#164392 158px,#282ea0 173px,#2e249f 204px,#2c1f90 357px,#2c1e88 402px);"></div><div style="left:576.8px;top:89.3px;width:1.77px;height:401.7px;background:linear-gradient(#72c469 0px,#72c469 5px,#87ca64 7px,#abd462 9px,#b4d762 10px,#81c865 34px,#60b970 90px,#3e9482 116px,#2f7589 130px,#144f8e 156px,#164392 166px,#272f9f 180px,#2e249f 209px,#2c1f90 367px,#2c1e8a 402px);"></div><div style="left:578.2px;top:89.3px;width:1.77px;height:401.4px;background:linear-gradient(#69bf6c 0px,#69bf6c 5px,#7bc667 7px,#88ca64 8px,#abd462 10px,#7ec766 33px,#5fb870 88px,#3d9482 115px,#2f7489 129px,#14508e 154px,#164393 165px,#282ea0 180px,#2e249f 209px,#2c1f90 363px,#2c1e89 401px);"></div><div style="left:579.7px;top:89.3px;width:1.77px;height:401.8px;background:linear-gradient(#67be6d 0px,#67be6d 5px,#84c964 8px,#98cf63 9px,#a3d263 10px,#7cc766 29px,#6ac06c 63px,#54af75 97px,#3a8f84 119px,#2e7289 133px,#15528e 155px,#144491 166px,#292da0 182px,#2e239e 213px,#2c1f90 355px,#2c1e88 402px);"></div><div style="left:581.1px;top:89.3px;width:1.77px;height:400.9px;background:linear-gradient(#68bf6d 0px,#68bf6d 7px,#79c667 9px,#85c964 10px,#a8d363 12px,#7ec766 31px,#6bc16b 60px,#55b075 97px,#3a8f84 119px,#2f7389 132px,#15518e 156px,#164392 167px,#292da0 183px,#2e239e 214px,#2c1f90 356px,#2c1e88 401px);"></div><div style="left:582.5px;top:89.3px;width:1.77px;height:401.7px;background:linear-gradient(#63bb6f 0px,#66be6d 7px,#88ca64 10px,#9cd063 11px,#7bc667 27px,#6dc26b 42px,#55b075 91px,#398d85 113px,#2b6f8a 128px,#144e8f 151px,#164392 160px,#292ca0 176px,#2d239c 216px,#2c1f8f 351px,#2c1e87 402px);"></div><div style="left:583.9px;top:89.3px;width:1.77px;height:402.1px;background:linear-gradient(#64bc6f 0px,#67be6d 7px,#7ec766 9px,#a5d263 11px,#7ec766 28px,#70c36a 42px,#55b075 91px,#3a8f84 112px,#2e7289 126px,#15528e 148px,#164393 160px,#292da0 176px,#2e239d 212px,#2c1f90 351px,#2c1e87 402px);"></div><div style="left:585.4px;top:89.3px;width:1.77px;height:402.0px;background:linear-gradient(#6ac06c 0px,#6cc26b 9px,#86ca64 11px,#b3d762 13px,#7dc766 33px,#70c36a 48px,#55b075 96px,#3b9084 118px,#2e7289 132px,#15538e 154px,#154492 166px,#292da0 182px,#2e239d 214px,#2c1f90 354px,#2c1e88 402px);"></div><div style="left:586.8px;top:89.3px;width:1.77px;height:401.5px;background:linear-gradient(#71c36a 0px,#73c469 8px,#91cd63 10px,#bbd964 12px,#add562 18px,#80c865 32px,#75c568 43px,#58b274 95px,#3c9183 118px,#2f7389 132px,#14518e 156px,#164393 167px,#282da0 182px,#2e249e 211px,#2c1f90 358px,#2c1e88 402px);"></div><div style="left:588.2px;top:89.3px;width:1.77px;height:402.2px;background:linear-gradient(#61ba70 0px,#61ba70 5px,#82c865 8px,#99cf63 9px,#a3d263 10px,#7dc766 26px,#70c36a 38px,#57b274 92px,#3a8e84 116px,#2b6f8a 131px,#144f8e 154px,#164393 164px,#292ca0 180px,#2d239c 218px,#2c1f90 350px,#2c1e87 402px);"></div><div style="left:589.6px;top:89.3px;width:1.77px;height:402.1px;background:linear-gradient(#64bc6e 0px,#68bf6d 6px,#7ec766 8px,#a5d263 10px,#7dc766 26px,#6ec36a 38px,#55b075 94px,#3a8e84 118px,#2c708a 133px,#14518e 155px,#154492 165px,#292ca0 182px,#2d229c 220px,#2c1f8f 350px,#2c1e87 402px);"></div><div style="left:591.1px;top:89.3px;width:1.77px;height:401.9px;background:linear-gradient(#67be6d 0px,#6ac16c 9px,#82c865 11px,#add562 13px,#7ec766 32px,#70c36a 49px,#55b075 95px,#3a8f84 117px,#2f7389 130px,#15528e 153px,#164392 165px,#292da0 181px,#2e239d 214px,#2c1f90 354px,#2c1e88 402px);"></div><div style="left:592.5px;top:89.3px;width:1.77px;height:401.9px;background:linear-gradient(#68bf6d 0px,#68bf6d 10px,#80c865 12px,#aed562 14px,#b8d862 15px,#7fc865 34px,#72c469 47px,#56b174 93px,#3b9083 114px,#2e7389 128px,#15528e 151px,#154492 162px,#282da0 178px,#2e249e 210px,#2c1f90 356px,#2c1e88 402px);"></div><div style="left:593.9px;top:89.3px;width:1.77px;height:401.6px;background:linear-gradient(#77c568 0px,#77c568 11px,#82c865 12px,#aed562 14px,#c0da68 15px,#c6db6d 16px,#afd662 23px,#80c865 35px,#74c469 42px,#56b175 95px,#3b9183 117px,#2e7389 131px,#15528e 154px,#154492 165px,#292da0 181px,#2e239e 213px,#2c1f90 354px,#2c1e88 402px);"></div><div style="left:595.3px;top:89.3px;width:1.77px;height:401.3px;background:linear-gradient(#79c667 0px,#79c667 8px,#86ca64 9px,#b1d662 11px,#c2da69 12px,#c2da6a 14px,#add562 20px,#7ec766 32px,#73c469 39px,#57b274 92px,#3a8f84 115px,#2f7389 128px,#15538e 151px,#164392 163px,#292da0 179px,#2e239d 214px,#2c1f90 352px,#2c1e88 401px);"></div><div style="left:596.8px;top:89.3px;width:1.77px;height:402.1px;background:linear-gradient(#82c964 0px,#82c964 7px,#b4d762 10px,#c1da69 11px,#bfda67 14px,#a7d363 22px,#80c865 34px,#5eb771 97px,#3e9582 126px,#307589 140px,#14518e 165px,#164392 176px,#282ea0 191px,#2e249e 216px,#2c1f90 364px,#2c1e89 402px);"></div><div style="left:598.2px;top:89.3px;width:1.77px;height:401.2px;background:linear-gradient(#91cd63 0px,#90cd64 10px,#bdd965 14px,#b9d863 18px,#7fc766 38px,#5db771 97px,#3d9382 125px,#2f7489 139px,#14508e 164px,#154492 174px,#282ea0 189px,#2e249e 215px,#2c1f90 365px,#2c1e8a 401px);"></div><div style="left:599.6px;top:89.3px;width:1.77px;height:402.2px;background:linear-gradient(#a3d263 0px,#a3d263 5px,#bad964 7px,#cbdd70 9px,#ccdd71 11px,#b0d662 21px,#82c865 34px,#60b970 92px,#3e9482 119px,#2f7589 133px,#144f8f 159px,#164393 169px,#272f9f 183px,#2e249f 211px,#2c1f90 368px,#2c1e8a 402px);"></div><div style="left:601.0px;top:89.3px;width:1.77px;height:402.0px;background:linear-gradient(#a2d263 0px,#a3d263 3px,#bad964 5px,#cadc6f 7px,#b0d662 17px,#82c865 31px,#60b970 90px,#3f9681 117px,#307589 131px,#14508e 157px,#154492 167px,#282ea0 182px,#2e249f 210px,#2c1f90 368px,#2c1e8a 402px);"></div><div style="left:602.5px;top:89.3px;width:1.77px;height:401.4px;background:linear-gradient(#a5d263 0px,#a5d263 5px,#bdd966 8px,#c4db6b 10px,#afd562 18px,#7fc766 33px,#60b970 88px,#409880 114px,#307589 129px,#14508e 155px,#154492 165px,#282ea0 180px,#2e249f 209px,#2c1f90 364px,#2c1e8a 401px);"></div><div style="left:603.9px;top:89.3px;width:1.77px;height:402.2px;background:linear-gradient(#acd562 0px,#acd562 7px,#c2da69 11px,#acd562 20px,#80c865 34px,#5eb771 91px,#3d9382 117px,#2f7489 131px,#14508e 156px,#154492 166px,#282ea0 181px,#2e249f 210px,#2c1f90 363px,#2c1e89 402px);"></div><div style="left:605.3px;top:89.3px;width:1.77px;height:401.5px;background:linear-gradient(#a8d363 0px,#abd463 7px,#aed562 11px,#7ec766 31px,#5cb672 95px,#3c9283 124px,#2f7389 138px,#14518e 162px,#164393 173px,#282da0 188px,#2e249e 215px,#2c1f90 360px,#2c1e89 401px);"></div><div style="left:606.7px;top:89.3px;width:1.77px;height:402.2px;background:linear-gradient(#b1d662 0px,#abd462 9px,#7dc766 29px,#5fb870 89px,#459e7d 115px,#378586 127px,#1b5e8d 151px,#134690 169px,#282ea0 185px,#2e249e 213px,#2c1f90 361px,#2c1e89 402px);"></div><div style="left:608.2px;top:89.3px;width:1.77px;height:401.4px;background:linear-gradient(#b6d862 0px,#add562 8px,#7ec766 28px,#5fb871 86px,#449c7e 110px,#2d7189 131px,#14508e 154px,#154492 164px,#282ea0 179px,#2e249e 209px,#2c1f90 360px,#2c1e89 401px);"></div><div style="left:609.6px;top:89.3px;width:1.77px;height:402.0px;background:linear-gradient(#bbd964 0px,#b2d662 9px,#7fc766 29px,#5fb870 88px,#439c7e 114px,#2f7489 133px,#15518e 157px,#154392 168px,#282ea0 183px,#2e249e 213px,#2c1f90 360px,#2c1e89 402px);"></div><div style="left:611.0px;top:89.3px;width:1.77px;height:401.1px;background:linear-gradient(#b1d662 0px,#abd462 10px,#7dc766 29px,#71c36a 45px,#56b175 97px,#3b9183 120px,#2f7389 134px,#15528e 157px,#154492 168px,#292da0 184px,#2e239e 214px,#2c1f90 355px,#2c1e88 401px);"></div><div style="left:612.4px;top:89.3px;width:1.77px;height:401.9px;background:linear-gradient(#bbd964 0px,#b7d862 10px,#7ec766 28px,#73c469 38px,#59b373 95px,#3b9084 121px,#2e7289 135px,#15538e 157px,#154492 169px,#292da0 185px,#2e239d 216px,#2c1f90 354px,#2c1e88 402px);"></div><div style="left:613.9px;top:89.3px;width:1.77px;height:401.2px;background:linear-gradient(#c9dc6f 0px,#c7db6d 8px,#b1d662 16px,#80c865 30px,#60b970 90px,#429a7f 119px,#2f7489 136px,#14508e 161px,#154492 171px,#282ea0 186px,#2e249f 213px,#2c1f90 365px,#2c1e8a 401px);"></div><div style="left:615.3px;top:89.3px;width:1.77px;height:205.1px;background:linear-gradient(#c5db6c 0px,#c2da6a 9px,#aed562 16px,#7fc766 30px,#5fb871 91px,#409780 121px,#307589 136px,#14508e 162px,#154392 172px,#282ea0 187px,#2e25a0 205px);border-radius:0 0 2px 2px"></div><div style="left:616.7px;top:89.3px;width:1.77px;height:204.3px;background:linear-gradient(#c6db6c 0px,#c6db6d 8px,#afd562 15px,#7fc766 27px,#74c469 35px,#5bb572 89px,#3a8e84 114px,#2b6f8a 129px,#144f8e 152px,#164393 162px,#282da0 177px,#2e249f 204px);border-radius:0 0 2px 2px"></div><div style="left:618.1px;top:89.3px;width:1.77px;height:204.5px;background:linear-gradient(#c9dc6f 0px,#cfdd73 7px,#b3d762 15px,#80c865 26px,#73c469 33px,#5ab473 90px,#3b9084 115px,#2e7289 129px,#15538e 151px,#154492 163px,#292da0 179px,#2e249f 205px);border-radius:0 0 2px 2px"></div><div style="left:619.6px;top:89.3px;width:1.77px;height:205.7px;background:linear-gradient(#c2da69 0px,#c4db6b 8px,#aed562 14px,#7fc865 25px,#70c36a 33px,#57b274 93px,#3a8e84 118px,#2a6e8a 134px,#144f8e 156px,#164393 166px,#292ca0 182px,#2e249e 206px);border-radius:0 0 2px 2px"></div><div style="left:621.0px;top:89.3px;width:1.77px;height:204.3px;background:linear-gradient(#bdd966 0px,#bed966 9px,#98cf63 19px,#7dc766 27px,#70c36a 35px,#57b274 93px,#3a8e84 118px,#2e7289 132px,#15548e 153px,#154491 165px,#292ca0 182px,#2e249f 204px);border-radius:0 0 2px 2px"></div><div style="left:622.4px;top:89.3px;width:1.77px;height:204.3px;background:linear-gradient(#a4d263 0px,#9fd163 11px,#7dc766 24px,#6bc16b 36px,#54af75 91px,#398b85 115px,#24688b 133px,#134a8f 155px,#1c3c98 166px,#2a2ba1 179px,#2e239e 204px);border-radius:0 0 2px 2px"></div><div style="left:623.8px;top:89.3px;width:1.77px;height:204.3px;background:linear-gradient(#a3d263 0px,#9bd063 10px,#7cc766 23px,#6cc26b 35px,#56b175 92px,#398d84 117px,#286c8a 134px,#144d8f 156px,#164293 165px,#2a2ba0 181px,#2e249e 204px);border-radius:0 0 2px 2px"></div><div style="left:625.3px;top:89.3px;width:1.77px;height:204.3px;background:linear-gradient(#8ecc64 0px,#8acb64 7px,#7ec766 16px,#6ac06c 43px,#53ae76 86px,#378686 107px,#1b5d8d 132px,#144591 150px,#292ca0 167px,#2e239d 204px);border-radius:0 0 2px 2px"></div><div style="left:626.7px;top:89.3px;width:1.77px;height:203.5px;background:linear-gradient(#8ccb64 0px,#87ca64 6px,#6ac16c 38px,#55b075 84px,#378686 106px,#1b5d8d 131px,#144591 149px,#2a2ca0 166px,#2e239d 204px);border-radius:0 0 2px 2px"></div><div style="left:628.1px;top:89.3px;width:1.77px;height:202.7px;background:linear-gradient(#94cd63 0px,#89ca64 9px,#6ac06c 33px,#55b075 90px,#398b85 115px,#25698b 133px,#134b8f 155px,#194095 164px,#2a2ba1 179px,#2e249e 203px);border-radius:0 0 2px 2px"></div><div style="left:629.5px;top:89.3px;width:1.77px;height:203.1px;background:linear-gradient(#8ecc64 0px,#8bcb64 4px,#80c865 11px,#6bc16b 39px,#56b174 90px,#398b85 115px,#24688b 133px,#134b8f 155px,#194095 164px,#2a2ba1 179px,#2e249e 203px);border-radius:0 0 2px 2px"></div><div style="left:631.0px;top:89.3px;width:1.77px;height:204.5px;background:linear-gradient(#a4d263 0px,#9cd063 7px,#7ac667 25px,#6cc26b 44px,#56b174 85px,#388985 106px,#22668c 125px,#134a8f 146px,#1d3b99 157px,#292ca0 168px,#2e239e 205px);border-radius:0 0 2px 2px"></div><div style="left:632.4px;top:89.3px;width:1.77px;height:202.7px;background:linear-gradient(#a4d263 0px,#9acf63 8px,#79c667 25px,#6cc26b 42px,#57b274 86px,#398c85 108px,#286c8a 124px,#144e8f 146px,#164392 155px,#292ca0 171px,#2e249e 203px);border-radius:0 0 2px 2px"></div><div style="left:633.8px;top:89.3px;width:1.77px;height:202.7px;background:linear-gradient(#aad463 0px,#a5d263 5px,#7dc766 26px,#6ac16c 62px,#55b075 98px,#3b9084 120px,#2e7289 134px,#15528e 157px,#154492 168px,#292da0 184px,#2e25a0 203px);border-radius:0 0 2px 2px"></div><div style="left:635.2px;top:89.3px;width:1.77px;height:202.7px;background:linear-gradient(#67be6d 0px,#67be6d 3px,#88ca64 6px,#9acf63 7px,#78c667 30px,#5db771 90px,#3f9681 119px,#307589 134px,#14518e 159px,#164393 170px,#292da0 186px,#2e25a0 203px);border-radius:0 0 2px 2px"></div><div style="left:636.7px;top:89.3px;width:1.77px;height:202.7px;background:linear-gradient(#64bc6f 0px,#64bc6e 3px,#7fc865 7px,#69c06c 53px,#53ae76 101px,#3a8f84 125px,#2f7489 138px,#15538e 161px,#164392 173px,#2a2ba0 190px,#2e25a0 203px);border-radius:0 0 2px 2px"></div><div style="left:638.1px;top:89.3px;width:1.77px;height:200.1px;background:linear-gradient(#67be6d 0px,#6cc26b 4px,#80c865 7px,#69c06c 58px,#54af76 99px,#3b9083 122px,#2e7389 136px,#15548e 158px,#154492 170px,#292da0 186px,#2e25a1 200px);border-radius:0 0 2px 2px"></div><div style="left:639.5px;top:89.3px;width:1.77px;height:199.3px;background:linear-gradient(#6ac06c 0px,#6ac16c 3px,#8ccb64 6px,#9dd063 7px,#7ac667 24px,#6ec36a 37px,#57b274 100px,#3a8f84 129px,#2f7489 142px,#15538e 165px,#164392 177px,#2a2ba1 194px,#2d27a2 199px);border-radius:0 0 2px 2px"></div><div style="left:640.9px;top:89.3px;width:1.77px;height:199.8px;background:linear-gradient(#63bb6f 0px,#65bc6e 5px,#83c964 8px,#96ce63 9px,#70c36a 34px,#56b175 100px,#3b9183 127px,#2f7389 141px,#15548e 163px,#154492 175px,#2a2ca0 192px,#2e26a2 200px);border-radius:0 0 2px 2px"></div><div style="left:642.4px;top:89.3px;width:1.77px;height:201.6px;background:linear-gradient(#5fb871 0px,#60b870 3px,#7fc865 6px,#93cd63 7px,#99cf63 8px,#7ac667 24px,#6ec26b 37px,#56b174 94px,#3a8e84 119px,#2c708a 134px,#14518e 156px,#154491 166px,#292ca0 183px,#2e249f 202px);border-radius:0 0 2px 2px"></div><div style="left:643.8px;top:89.3px;width:1.77px;height:201.7px;background:linear-gradient(#5eb771 0px,#61ba70 4px,#82c865 7px,#98cf63 8px,#76c568 26px,#6bc26b 39px,#56b174 94px,#3a8f84 120px,#2e7289 134px,#15548e 155px,#144491 167px,#2a2ca0 184px,#2e249f 202px);border-radius:0 0 2px 2px"></div><div style="left:645.2px;top:89.3px;width:1.77px;height:201.7px;background:linear-gradient(#66be6e 0px,#67be6d 3px,#7ec766 5px,#a4d263 7px,#7cc766 28px,#5eb771 87px,#409880 114px,#307689 129px,#14508e 155px,#154492 165px,#282da0 181px,#2e25a0 202px);border-radius:0 0 2px 2px"></div><div style="left:646.6px;top:89.3px;width:1.77px;height:201.7px;background:linear-gradient(#65bc6e 0px,#65bd6e 3px,#7cc766 5px,#a1d163 7px,#7cc766 28px,#5db771 87px,#409780 113px,#307589 128px,#15518e 153px,#154392 164px,#292da0 180px,#2e249f 202px);border-radius:0 0 2px 2px"></div><div style="left:648.1px;top:89.3px;width:1.77px;height:201.7px;background:linear-gradient(#68bf6d 0px,#69c06c 3px,#89ca64 5px,#bbd964 7px,#7ec766 29px,#5fb870 90px,#449e7e 117px,#378786 128px,#1d608d 151px,#12478f 170px,#282ea0 187px,#2e25a1 202px);border-radius:0 0 2px 2px"></div><div style="left:649.5px;top:89.3px;width:1.77px;height:202.0px;background:linear-gradient(#76c568 0px,#77c568 3px,#92cd63 5px,#b4d762 7px,#7ec766 30px,#60b970 90px,#47a17c 116px,#398d84 127px,#2c7089 141px,#144f8e 164px,#164392 174px,#282ea0 189px,#2e26a1 202px);border-radius:0 0 2px 2px"></div><div style="left:650.9px;top:89.3px;width:1.77px;height:201.4px;background:linear-gradient(#72c469 0px,#72c469 3px,#8bcb64 7px,#63bb6f 79px,#53ae76 96px,#3b9084 114px,#2f7489 127px,#15518e 151px,#154492 162px,#282ea0 177px,#2e25a0 201px);border-radius:0 0 2px 2px"></div><div style="left:652.3px;top:89.3px;width:1.77px;height:202.3px;background:linear-gradient(#6ac16c 0px,#6bc16c 3px,#89cb64 6px,#99cf63 7px,#7ac667 32px,#60b970 82px,#4fa978 98px,#3a8f84 113px,#2d7189 127px,#14518e 150px,#164392 161px,#282ea0 176px,#2e249f 202px);border-radius:0 0 2px 2px"></div><div style="left:653.8px;top:89.3px;width:1.77px;height:202.7px;background:linear-gradient(#6dc26b 0px,#71c469 4px,#95ce63 8px,#73c469 32px,#59b473 88px,#3a8e84 112px,#2b6f8a 127px,#144f8f 150px,#164393 160px,#292ca0 176px,#2e249e 203px);border-radius:0 0 2px 2px"></div><div style="left:655.2px;top:89.3px;width:1.77px;height:202.7px;background:linear-gradient(#72c469 0px,#76c568 6px,#86ca64 8px,#a0d163 10px,#7cc766 29px,#5bb572 88px,#3a8f84 112px,#2f7389 125px,#15528e 148px,#164392 160px,#292da0 176px,#2e249f 203px);border-radius:0 0 2px 2px"></div><div style="left:656.6px;top:89.3px;width:1.77px;height:202.7px;background:linear-gradient(#67be6d 0px,#68bf6d 5px,#83c964 8px,#94ce63 9px,#6ec36a 36px,#55b075 96px,#3a8e84 121px,#2a6e8a 137px,#144f8e 159px,#164393 169px,#2a2ca0 185px,#2e249f 203px);border-radius:0 0 2px 2px"></div><div style="left:658.0px;top:89.3px;width:1.77px;height:202.7px;background:linear-gradient(#68bf6d 0px,#68bf6d 4px,#80c865 7px,#9bd063 9px,#7ac667 25px,#6dc26b 38px,#55b075 96px,#3a8e84 121px,#2e7289 135px,#15548e 156px,#154491 168px,#2a2ca0 185px,#2e249f 203px);border-radius:0 0 2px 2px"></div><div style="left:659.5px;top:89.3px;width:1.77px;height:204.7px;background:linear-gradient(#6bc16b 0px,#6bc16b 5px,#84c964 8px,#a4d263 10px,#7cc766 31px,#5cb672 89px,#3b9183 114px,#2f7389 128px,#15528e 151px,#144491 162px,#282ea0 178px,#2e249f 205px);border-radius:0 0 2px 2px"></div><div style="left:660.9px;top:89.3px;width:1.77px;height:203.0px;background:linear-gradient(#65bd6e 0px,#65bd6e 4px,#7ec766 7px,#98cf63 9px,#79c667 34px,#5eb771 86px,#3d9382 112px,#2f7489 126px,#14508e 151px,#154492 161px,#282ea0 176px,#2e249f 203px);border-radius:0 0 2px 2px"></div><div style="left:662.3px;top:89.3px;width:1.77px;height:202.8px;background:linear-gradient(#5cb672 0px,#5eb871 4px,#7ac667 8px,#62ba6f 81px,#52ad77 104px,#3c9283 125px,#2f7389 139px,#15538e 162px,#164392 174px,#292ca0 190px,#2e25a1 203px);border-radius:0 0 2px 2px"></div><div style="left:663.7px;top:89.3px;width:1.77px;height:204.1px;background:linear-gradient(#64bc6f 0px,#68bf6d 7px,#74c469 11px,#73c469 42px,#58b274 98px,#3b9084 124px,#2f7489 137px,#15518e 161px,#154492 172px,#292da0 188px,#2e25a0 204px);border-radius:0 0 2px 2px"></div><div style="left:665.2px;top:89.3px;width:1.77px;height:202.7px;background:linear-gradient(#68bf6d 0px,#6ac06c 8px,#87ca64 12px,#5db771 87px,#3f9681 114px,#2f7489 129px,#15528e 153px,#154492 164px,#292da0 180px,#2e249f 203px);border-radius:0 0 2px 2px"></div><div style="left:666.6px;top:89.3px;width:1.77px;height:202.7px;background:linear-gradient(#66bd6e 0px,#66bd6e 8px,#7bc667 11px,#90cc64 13px,#71c469 45px,#55b075 93px,#3a8e84 114px,#296d8a 130px,#144d8f 153px,#164293 162px,#292da0 177px,#2e249f 203px);border-radius:0 0 2px 2px"></div><div style="left:668.0px;top:89.3px;width:1.77px;height:202.7px;background:linear-gradient(#6bc16b 0px,#6bc16b 8px,#8fcc64 11px,#a1d263 12px,#a9d463 13px,#7ec766 33px,#5db672 86px,#3b9083 109px,#2e7289 123px,#15528e 146px,#154492 157px,#272f9f 172px,#2e249f 203px);border-radius:0 0 2px 2px"></div><div style="left:669.4px;top:89.3px;width:1.77px;height:202.7px;background:linear-gradient(#6ac06c 0px,#6ac06c 10px,#7bc667 12px,#87ca64 13px,#a9d463 15px,#7dc766 35px,#5ab473 87px,#3a8e84 109px,#2b6f8a 124px,#144f8e 147px,#164393 157px,#282ea0 172px,#2e249f 203px);border-radius:0 0 2px 2px"></div><div style="left:670.9px;top:89.3px;width:1.77px;height:203.3px;background:linear-gradient(#67be6d 0px,#67be6d 8px,#78c568 10px,#83c964 11px,#a6d363 13px,#7ec766 31px,#6ec26b 52px,#55b075 94px,#3a8e84 115px,#2d7189 129px,#15528e 151px,#144491 162px,#282da0 178px,#2e249f 203px);border-radius:0 0 2px 2px"></div><div style="left:672.3px;top:89.3px;width:1.77px;height:202.0px;background:linear-gradient(#6ac16c 0px,#6ac16c 6px,#79c667 8px,#84c964 9px,#a7d363 11px,#7dc766 30px,#6cc26b 55px,#55b075 92px,#3a8e84 113px,#296d8a 129px,#144d8f 152px,#164393 161px,#282da0 176px,#2e249f 202px);border-radius:0 0 2px 2px"></div><div style="left:673.7px;top:89.3px;width:1.77px;height:202.2px;background:linear-gradient(#70c36a 0px,#71c469 10px,#81c865 11px,#b7d862 13px,#cadc6f 14px,#cbdc70 16px,#afd562 25px,#80c865 37px,#5db672 86px,#3b9083 108px,#2f7489 121px,#14508e 146px,#154491 156px,#272f9f 171px,#2e249f 200px,#2e249f 202px);border-radius:0 0 2px 2px"></div><div style="left:675.1px;top:89.3px;width:1.77px;height:203.9px;background:linear-gradient(#69bf6c 0px,#6ac06c 7px,#8acb64 9px,#bed966 11px,#bfda67 13px,#a7d363 21px,#80c865 33px,#5db771 87px,#3c9283 110px,#307589 123px,#14508e 149px,#154492 159px,#282ea0 174px,#2e249f 204px);border-radius:0 0 2px 2px"></div><div style="left:676.6px;top:89.3px;width:1.77px;height:201.9px;background:linear-gradient(#67be6d 0px,#67be6d 4px,#91cd63 9px,#75c568 39px,#5cb672 87px,#3a8e84 111px,#2d7189 125px,#14518e 148px,#164393 159px,#282ea0 174px,#2e249f 202px);border-radius:0 0 2px 2px"></div><div style="left:678.0px;top:89.3px;width:1.77px;height:201.9px;background:linear-gradient(#6dc26b 0px,#71c36a 11px,#82c865 15px,#63bb6f 77px,#53ad76 95px,#398d84 114px,#2a6e8a 129px,#144e8f 152px,#164392 161px,#292da0 177px,#2e249f 202px);border-radius:0 0 2px 2px"></div><div style="left:679.4px;top:89.3px;width:1.77px;height:201.9px;background:linear-gradient(#5fb870 0px,#63bb6f 15px,#74c469 20px,#5cb572 78px,#4ea879 95px,#378786 115px,#25698b 131px,#134c8f 152px,#184095 161px,#2c28a1 178px,#2d239c 202px);border-radius:0 0 2px 2px"></div><div style="left:680.8px;top:89.3px;width:1.77px;height:201.9px;background:linear-gradient(#5eb871 0px,#62ba6f 11px,#77c568 16px,#57b274 86px,#3a8e84 113px,#2c7089 128px,#15558e 147px,#154491 159px,#2d28a2 178px,#2d229b 202px);border-radius:0 0 2px 2px"></div><div style="left:682.3px;top:89.3px;width:1.77px;height:198.6px;background:linear-gradient(#64bc6e 0px,#67be6d 9px,#7fc766 14px,#5db771 81px,#4ea878 97px,#378586 117px,#24688b 133px,#134b8f 154px,#1b3d98 164px,#2e26a2 180px,#2d229b 199px);border-radius:0 0 2px 2px"></div><div style="left:683.7px;top:89.3px;width:1.77px;height:197.6px;background:linear-gradient(#60b970 0px,#65bc6e 8px,#86ca64 13px,#72c469 38px,#56b174 90px,#378586 117px,#24688b 133px,#134c8f 153px,#193f96 162px,#2e26a1 179px,#2d229b 198px);border-radius:0 0 2px 2px"></div><div style="left:685.1px;top:89.3px;width:1.77px;height:197.2px;background:linear-gradient(#61b970 0px,#63bb6f 32px,#3a8e84 55px,#307589 70px,#144f8e 104px,#154492 113px,#2e26a2 138px,#2c1d84 196px,#2c1d84 197px);border-radius:0 0 2px 2px"></div><div style="left:686.5px;top:89.3px;width:1.77px;height:197.4px;background:linear-gradient(#61ba70 0px,#63bb6f 32px,#3a8e84 55px,#2f7489 71px,#14508e 104px,#164393 114px,#2e26a1 139px,#2c1e88 192px,#2c1d85 197px);border-radius:0 0 2px 2px"></div><div style="left:688.0px;top:89.3px;width:1.77px;height:198.3px;background:linear-gradient(#60b970 0px,#62ba6f 32px,#398d84 55px,#2f7489 70px,#14508e 103px,#164392 113px,#2e26a2 137px,#2b1d82 198px);border-radius:0 0 2px 2px"></div><div style="left:689.4px;top:89.3px;width:1.77px;height:218.1px;background:linear-gradient(#61b970 0px,#63bb6f 32px,#3a8e84 55px,#307589 70px,#14508e 104px,#154491 113px,#2e26a2 138px,#2c1d86 195px,#2b1d80 218px);border-radius:0 0 2px 2px"></div><div style="left:690.8px;top:89.3px;width:1.77px;height:216.3px;background:linear-gradient(#7fc865 0px,#84c964 5px,#acd562 11px,#9acf63 26px,#7fc865 33px,#70c36a 42px,#5eb771 78px,#47a17c 97px,#327a88 116px,#14508e 143px,#154492 151px,#2d28a1 168px,#2c1f90 202px,#2c1f8f 216px);border-radius:0 0 2px 2px"></div><div style="left:692.2px;top:89.3px;width:1.77px;height:215.7px;background:linear-gradient(#7ec766 0px,#81c865 5px,#aad463 11px,#9dd063 26px,#7fc766 34px,#71c36a 42px,#5fb871 76px,#49a37b 94px,#347d88 110px,#144f8f 140px,#164393 148px,#2e27a2 165px,#2c1f8e 205px,#2c1e8d 216px);border-radius:0 0 2px 2px"></div><div style="left:693.7px;top:89.3px;width:1.77px;height:216.2px;background:linear-gradient(#8bcb64 0px,#8ccb64 3px,#b4d762 9px,#abd463 24px,#7ec766 37px,#64bc6e 75px,#4da779 92px,#368387 106px,#24688b 122px,#134c8f 140px,#184195 148px,#2e27a2 164px,#2c1f8e 204px,#2c1e8d 216px);border-radius:0 0 2px 2px"></div><div style="left:695.1px;top:89.3px;width:1.77px;height:217.9px;background:linear-gradient(#9ed163 0px,#9fd163 3px,#bbd964 7px,#c2da6a 10px,#bad863 23px,#81c865 36px,#66bd6e 75px,#4ea978 92px,#378686 106px,#25698b 122px,#144d8f 140px,#174293 148px,#2d28a1 164px,#2c1f90 196px,#2c1f8e 218px);border-radius:0 0 2px 2px"></div><div style="left:696.5px;top:89.3px;width:1.77px;height:207.1px;background:linear-gradient(#a3d263 0px,#a4d263 3px,#bfda67 7px,#c5db6c 10px,#bdd966 23px,#8acb64 33px,#7cc766 38px,#65bc6e 73px,#4ea978 89px,#378586 102px,#24688b 118px,#134b8f 137px,#1b3e97 146px,#2e26a1 162px,#2c1f8e 207px);border-radius:0 0 2px 2px"></div><div style="left:697.9px;top:89.3px;width:1.77px;height:206.4px;background:linear-gradient(#9dd063 0px,#9ed063 3px,#bbd964 7px,#c2da69 10px,#bad863 23px,#80c865 35px,#65bc6e 72px,#4ea978 87px,#378586 99px,#23678c 116px,#13498f 135px,#2c29a1 156px,#2d1f93 187px,#2c1f8e 206px);border-radius:0 0 2px 2px"></div><div style="left:699.4px;top:89.3px;width:1.77px;height:207.4px;background:linear-gradient(#a4d263 0px,#a5d363 3px,#c0da68 7px,#c7db6d 10px,#bfda67 23px,#a4d263 28px,#7fc865 35px,#74c469 48px,#63bb6f 75px,#4ba67a 92px,#368287 106px,#23678c 122px,#134b8f 140px,#1a3e97 149px,#2e25a1 165px,#2c1e8d 207px);border-radius:0 0 2px 2px"></div><div style="left:700.8px;top:89.3px;width:1.77px;height:216.2px;background:linear-gradient(#afd562 0px,#b0d662 4px,#cfdd73 11px,#c8dc6e 25px,#b3d662 29px,#82c865 36px,#76c568 40px,#61ba70 75px,#4aa57a 92px,#358187 106px,#22668c 122px,#13498f 141px,#2d27a2 162px,#2c1f8e 197px,#2c1e8c 216px);border-radius:0 0 2px 2px"></div><div style="left:702.2px;top:89.3px;width:1.77px;height:215.3px;background:linear-gradient(#aed562 0px,#aed562 3px,#c1da69 7px,#cddd72 11px,#c4db6b 25px,#acd562 29px,#7ec766 36px,#74c469 40px,#61ba70 75px,#4aa47b 93px,#358087 108px,#21658c 124px,#12488f 143px,#2d27a2 163px,#2c1f8e 196px,#2c1e8c 215px);border-radius:0 0 2px 2px"></div><div style="left:703.6px;top:89.3px;width:1.77px;height:211.7px;background:linear-gradient(#add562 0px,#aed562 3px,#cddd72 9px,#c5db6b 23px,#aed562 27px,#7fc766 34px,#74c469 38px,#60b970 77px,#48a27b 96px,#347e88 112px,#22668c 127px,#134b8f 145px,#21379d 158px,#2e25a1 169px,#2c1e8c 206px,#2c1e8c 212px);border-radius:0 0 2px 2px"></div><div style="left:705.1px;top:89.3px;width:1.77px;height:210.1px;background:linear-gradient(#a1d163 0px,#a2d263 3px,#bbd964 7px,#c5db6c 10px,#bcd965 24px,#7fc766 34px,#72c469 38px,#5fb870 80px,#47a17c 102px,#337b88 122px,#14508e 150px,#174293 159px,#2e26a2 175px,#2c1e8c 204px,#2c1e8c 210px);border-radius:0 0 2px 2px"></div><div style="left:706.5px;top:89.3px;width:1.77px;height:209.7px;background:linear-gradient(#a6d363 0px,#a7d363 3px,#bcd965 6px,#c9dc6f 9px,#c1da68 23px,#a8d363 27px,#80c865 33px,#72c469 38px,#5fb870 79px,#48a27c 100px,#347d88 118px,#22668c 133px,#134a8f 151px,#282da0 168px,#2d229c 180px,#2c1e8c 205px,#2c1e8c 210px);border-radius:0 0 2px 2px"></div><div style="left:707.9px;top:89.3px;width:1.77px;height:210.4px;background:linear-gradient(#a3d263 0px,#a4d263 3px,#bfda67 7px,#c6db6d 10px,#bfda67 23px,#9dd063 28px,#7dc766 33px,#6ec36a 38px,#5eb771 77px,#47a17c 97px,#347d88 114px,#144f8f 144px,#174293 152px,#2e26a1 169px,#2c1e8b 205px,#2c1e8b 210px);border-radius:0 0 2px 2px"></div><div style="left:709.3px;top:89.3px;width:1.77px;height:211.2px;background:linear-gradient(#abd462 0px,#acd562 3px,#c5db6b 7px,#ccdd71 10px,#c4db6b 23px,#acd562 27px,#7ec766 34px,#73c469 38px,#60b970 77px,#49a37b 96px,#358087 112px,#23678b 127px,#134c8f 145px,#194095 153px,#2e25a1 169px,#2c1e8c 205px,#2c1e8c 211px);border-radius:0 0 2px 2px"></div><div style="left:710.8px;top:89.3px;width:1.77px;height:211.2px;background:linear-gradient(#97ce63 0px,#97cf63 3px,#bad863 8px,#bed966 11px,#b9d863 23px,#7fc865 32px,#6cc26b 38px,#5db771 75px,#459e7d 95px,#327988 112px,#15518e 138px,#154492 146px,#2e26a2 164px,#2c1e8b 205px,#2c1e8a 211px);border-radius:0 0 2px 2px"></div><div style="left:712.2px;top:89.3px;width:1.77px;height:211.2px;background:linear-gradient(#97ce63 0px,#97ce63 3px,#bad864 9px,#bed966 13px,#bad863 24px,#80c865 33px,#6cc26b 39px,#5db771 74px,#459e7d 93px,#327988 109px,#15518e 135px,#154492 143px,#2e26a2 161px,#2c1e8b 203px,#2c1e8a 211px);border-radius:0 0 2px 2px"></div><div style="left:713.6px;top:89.3px;width:1.77px;height:211.2px;background:linear-gradient(#95ce63 0px,#97cf63 4px,#bdd966 11px,#b5d762 25px,#7fc865 35px,#72c469 41px,#60b970 76px,#48a27c 95px,#357f88 110px,#21658c 126px,#12488f 145px,#2d27a2 165px,#2c1e8c 200px,#2c1e8c 211px);border-radius:0 0 2px 2px"></div><div style="left:715.0px;top:89.3px;width:1.77px;height:212.6px;background:linear-gradient(#8dcc64 0px,#8ecc64 3px,#b7d862 9px,#acd562 23px,#7ec766 33px,#72c469 40px,#61ba70 74px,#49a37b 92px,#357f87 106px,#21658c 122px,#12488f 141px,#2d27a2 161px,#2c1f8e 196px,#2c1e8c 213px);border-radius:0 0 2px 2px"></div><div style="left:716.5px;top:89.3px;width:1.77px;height:211.3px;background:linear-gradient(#80c865 0px,#81c865 3px,#a9d463 9px,#9ed163 23px,#7dc766 31px,#6dc26b 38px,#5eb771 78px,#47a07c 99px,#337b88 118px,#14508e 146px,#164393 154px,#2e26a2 171px,#2c1e8b 204px,#2c1e8b 211px);border-radius:0 0 2px 2px"></div><div style="left:717.9px;top:89.3px;width:1.77px;height:211.4px;background:linear-gradient(#80c865 0px,#83c964 6px,#a8d363 12px,#9dd063 27px,#7fc766 34px,#6cc26b 42px,#5db671 79px,#46a07d 100px,#327a88 120px,#14508e 147px,#164392 155px,#2e26a2 172px,#2c1e8b 204px,#2c1e8b 211px);border-radius:0 0 2px 2px"></div><div style="left:719.3px;top:89.3px;width:1.77px;height:212.6px;background:linear-gradient(#81c865 0px,#84c964 8px,#a8d363 14px,#9dd063 29px,#7fc865 37px,#71c36a 45px,#5fb871 79px,#47a07c 100px,#337b88 119px,#144f8e 147px,#164393 155px,#2e26a2 172px,#2c1e8c 204px,#2c1e8b 213px);border-radius:0 0 2px 2px"></div><div style="left:720.7px;top:89.3px;width:1.77px;height:211.2px;background:linear-gradient(#81c865 0px,#84c964 6px,#a8d463 12px,#9dd063 27px,#7dc766 36px,#72c469 44px,#5fb870 79px,#47a17c 99px,#347e88 116px,#22668c 131px,#134a8f 149px,#23349e 163px,#2e249f 174px,#2c1e8c 205px,#2c1e8c 211px);border-radius:0 0 2px 2px"></div><div style="left:722.2px;top:89.3px;width:1.77px;height:211.2px;background:linear-gradient(#8bcb64 0px,#8ccb64 3px,#b5d762 9px,#aad463 23px,#7fc766 34px,#74c469 45px,#61ba70 78px,#4aa47b 97px,#358087 113px,#23678b 128px,#134c8f 146px,#1a3e97 155px,#2e26a1 170px,#2c1e8d 205px,#2c1e8d 211px);border-radius:0 0 2px 2px"></div><div style="left:723.6px;top:89.3px;width:1.77px;height:211.2px;background:linear-gradient(#91cd63 0px,#92cd63 3px,#b8d862 8px,#b0d662 23px,#7fc865 34px,#75c568 42px,#62ba6f 77px,#4aa47a 96px,#358087 112px,#24688b 127px,#134c8f 145px,#1a3e97 154px,#2e26a1 169px,#2c1e8d 206px,#2c1e8d 211px);border-radius:0 0 2px 2px"></div><div style="left:725.0px;top:89.3px;width:1.77px;height:211.2px;background:linear-gradient(#91cd63 0px,#92cd63 3px,#b8d862 8px,#b0d662 23px,#7ec766 34px,#75c568 41px,#61ba70 76px,#49a37b 94px,#357f88 109px,#21658c 125px,#12488f 144px,#2d27a2 164px,#2c1f8e 197px,#2c1e8d 211px);border-radius:0 0 2px 2px"></div><div style="left:726.4px;top:89.3px;width:1.77px;height:205.6px;background:linear-gradient(#8acb64 0px,#8bcb64 3px,#b5d762 9px,#a9d463 23px,#7fc865 33px,#74c469 40px,#61b970 75px,#4aa47a 92px,#358187 106px,#22668c 122px,#13498f 141px,#2d27a2 162px,#2c1f8e 197px,#2c1e8d 206px);border-radius:0 0 2px 2px"></div><div style="left:727.9px;top:89.3px;width:1.77px;height:204.7px;background:linear-gradient(#78c667 0px,#7dc766 4px,#9acf63 9px,#8fcc64 24px,#74c469 34px,#6bc16c 42px,#5eb771 71px,#47a17c 87px,#347d88 99px,#14508e 128px,#164393 136px,#2e26a2 153px,#2c1e8b 200px,#2c1e8b 205px);border-radius:0 0 2px 2px"></div><div style="left:729.3px;top:89.3px;width:1.77px;height:205.0px;background:linear-gradient(#69c06c 0px,#6cc26b 4px,#7fc865 9px,#74c469 29px,#68bf6d 50px,#5cb672 72px,#459f7d 88px,#337a88 101px,#14518e 128px,#154492 136px,#2e27a2 153px,#2c1e8b 199px,#2c1e8b 205px);border-radius:0 0 2px 2px"></div><div style="left:730.7px;top:89.3px;width:1.77px;height:206.3px;background:linear-gradient(#75c568 0px,#79c667 4px,#95ce63 10px,#88ca64 25px,#70c36a 41px,#5fb871 77px,#47a17c 97px,#347c88 114px,#14508e 143px,#164392 151px,#2e26a2 168px,#2c1e8c 205px,#2c1e8c 206px);border-radius:0 0 2px 2px"></div><div style="left:732.1px;top:89.3px;width:1.77px;height:204.7px;background:linear-gradient(#7dc766 0px,#81c865 4px,#a3d263 10px,#96ce63 25px,#7bc667 34px,#71c36a 42px,#60b970 77px,#47a17c 97px,#347c88 114px,#144f8e 143px,#164393 151px,#2e26a2 168px,#2c1e8c 205px);border-radius:0 0 2px 2px"></div><div style="left:733.6px;top:89.3px;width:1.77px;height:204.7px;background:linear-gradient(#81c865 0px,#82c865 3px,#a9d463 9px,#9ed163 23px,#7ec766 33px,#74c469 43px,#61ba70 79px,#48a27b 100px,#347d88 118px,#144f8f 148px,#164393 156px,#2d27a2 172px,#2c1e8d 203px,#2c1e8d 205px);border-radius:0 0 2px 2px"></div><div style="left:735.0px;top:89.3px;width:1.77px;height:204.7px;background:linear-gradient(#87ca64 0px,#88ca64 3px,#b1d662 9px,#a6d363 23px,#7fc766 34px,#73c469 49px,#61ba70 80px,#49a47b 100px,#358187 117px,#24688b 132px,#134c8f 150px,#184095 158px,#2e26a1 174px,#2c1e8d 205px);border-radius:0 0 2px 2px"></div><div style="left:736.4px;top:89.3px;width:1.77px;height:205.9px;background:linear-gradient(#71c36a 0px,#72c469 3px,#88ca64 7px,#96ce63 9px,#8ccb64 23px,#6ec36a 38px,#5fb871 77px,#46a07c 98px,#347c88 115px,#14508e 144px,#164392 152px,#2e26a2 169px,#2c1e8b 205px,#2c1e8b 206px);border-radius:0 0 2px 2px"></div><div style="left:737.8px;top:89.3px;width:1.77px;height:204.2px;background:linear-gradient(#6cc26b 0px,#6cc26b 3px,#8dcc64 9px,#7fc865 26px,#6cc26b 40px,#5eb771 75px,#46a07c 94px,#337b88 110px,#14508e 138px,#174294 147px,#2e26a1 164px,#2c1e8b 204px);border-radius:0 0 2px 2px"></div><div style="left:739.3px;top:89.3px;width:1.77px;height:203.6px;background:linear-gradient(#72c469 0px,#72c469 3px,#8bcb64 7px,#99cf63 9px,#8fcc64 23px,#72c469 36px,#5fb871 78px,#47a27c 99px,#357f88 116px,#23678c 131px,#134b8f 149px,#1b3e97 158px,#2e25a1 173px,#2c1e8c 204px);border-radius:0 0 2px 2px"></div><div style="left:740.7px;top:89.3px;width:1.77px;height:204.1px;background:linear-gradient(#6dc26b 0px,#6dc26b 3px,#90cd64 9px,#82c964 25px,#6ec36a 41px,#5fb871 78px,#47a17c 99px,#347c88 117px,#144f8e 146px,#164393 154px,#2e26a2 171px,#2c1e8c 204px);border-radius:0 0 2px 2px"></div><div style="left:742.1px;top:89.3px;width:1.77px;height:205.7px;background:linear-gradient(#70c36a 0px,#70c36a 3px,#94cd63 9px,#87ca64 24px,#71c36a 40px,#60b970 77px,#47a17c 98px,#337b88 116px,#14508e 144px,#154492 152px,#2e26a2 169px,#2c1e8c 204px,#2c1e8c 206px);border-radius:0 0 2px 2px"></div><div style="left:743.5px;top:89.3px;width:1.77px;height:203.6px;background:linear-gradient(#73c469 0px,#77c568 4px,#8dcc64 8px,#9cd063 10px,#91cd64 25px,#76c568 37px,#60b970 78px,#49a37b 97px,#358087 113px,#23678b 128px,#134c8f 146px,#194096 154px,#2e25a1 170px,#2c1e8c 204px);border-radius:0 0 2px 2px"></div><div style="left:745.0px;top:89.3px;width:1.77px;height:203.6px;background:linear-gradient(#7bc667 0px,#7cc766 3px,#9dd063 7px,#abd462 9px,#a1d163 23px,#7dc766 32px,#71c36a 39px,#60b970 78px,#48a27c 99px,#357f88 116px,#21658c 132px,#12488f 151px,#2e26a2 171px,#2c1e8c 204px);border-radius:0 0 2px 2px"></div><div style="left:746.4px;top:89.3px;width:1.77px;height:203.6px;background:linear-gradient(#7bc667 0px,#7bc667 3px,#9bd063 7px,#aad463 9px,#9fd163 23px,#7dc766 32px,#71c36a 40px,#5fb871 80px,#46a07c 102px,#337c88 121px,#144f8f 150px,#164393 158px,#2e26a2 174px,#2c1e8c 204px);border-radius:0 0 2px 2px"></div><div style="left:747.8px;top:89.3px;width:1.77px;height:203.6px;background:linear-gradient(#7fc865 0px,#80c865 3px,#aed562 8px,#b1d662 11px,#a7d363 23px,#7ec766 33px,#73c469 40px,#61b970 75px,#49a37b 93px,#358087 107px,#23678b 122px,#134c8f 140px,#1a3e97 149px,#2e26a2 164px,#2c1e8c 204px);border-radius:0 0 2px 2px"></div><div style="left:749.2px;top:89.3px;width:1.77px;height:202.1px;background:linear-gradient(#76c568 0px,#7bc667 4px,#94ce63 8px,#a3d263 10px,#96ce63 25px,#7dc766 34px,#71c469 45px,#60b970 75px,#49a37b 92px,#357f88 106px,#21658c 122px,#12488f 141px,#2c28a1 160px,#2d1f91 190px,#2c1e8d 202px);border-radius:0 0 2px 2px"></div><div style="left:750.7px;top:89.3px;width:1.77px;height:201.4px;background:linear-gradient(#7dc766 0px,#7fc865 4px,#b2d662 11px,#a7d363 25px,#7fc766 35px,#74c469 42px,#60b970 78px,#49a37b 97px,#357f87 113px,#23678c 128px,#134b8f 146px,#193f96 154px,#2e25a1 170px,#2c1e8d 201px);border-radius:0 0 2px 2px"></div><div style="left:752.1px;top:89.3px;width:1.77px;height:202.1px;background:linear-gradient(#7bc667 0px,#7bc766 3px,#9acf63 7px,#abd463 9px,#9dd063 24px,#7dc766 34px,#71c36a 50px,#61ba70 78px,#4ba57a 96px,#358187 112px,#23678c 128px,#134b8f 146px,#193f96 154px,#2e25a1 170px,#2c1e8d 202px);border-radius:0 0 2px 2px"></div><div style="left:753.5px;top:89.3px;width:1.77px;height:202.7px;background:linear-gradient(#83c964 0px,#83c964 3px,#b8d862 9px,#c0da68 11px,#b7d862 25px,#7fc865 37px,#63bb6f 77px,#4ca67a 95px,#368387 110px,#24688b 126px,#134c8f 144px,#184095 152px,#2e26a2 168px,#2c1f8e 203px);border-radius:0 0 2px 2px"></div><div style="left:754.9px;top:89.3px;width:1.77px;height:202.7px;background:linear-gradient(#80c865 0px,#81c865 5px,#bcd965 11px,#c1da69 13px,#b7d862 27px,#80c865 38px,#76c568 47px,#62ba6f 78px,#4ca67a 96px,#368287 112px,#23678c 128px,#134b8f 146px,#1a3e97 155px,#2e26a1 170px,#2c1f8e 203px);border-radius:0 0 2px 2px"></div><div style="left:756.4px;top:89.3px;width:1.77px;height:202.7px;background:linear-gradient(#7ac667 0px,#7ac667 3px,#91cd63 6px,#bcd965 10px,#b6d862 24px,#80c865 35px,#75c568 41px,#61ba70 75px,#49a47b 92px,#368287 105px,#23678c 121px,#134b8f 139px,#193f96 147px,#2e26a2 163px,#2c1e8d 203px);border-radius:0 0 2px 2px"></div><div style="left:757.8px;top:89.3px;width:1.77px;height:202.7px;background:linear-gradient(#77c568 0px,#78c667 3px,#97cf63 6px,#b2d662 8px,#b8d862 9px,#add562 23px,#7fc865 33px,#74c469 39px,#60b970 76px,#49a47b 94px,#358087 109px,#23678b 124px,#134c8f 142px,#1a3e97 151px,#2e26a1 166px,#2c1e8d 203px);border-radius:0 0 2px 2px"></div><div style="left:759.2px;top:89.3px;width:1.77px;height:204.7px;background:linear-gradient(#90cc64 0px,#91cd64 3px,#b9d863 6px,#d0de74 9px,#c7dc6e 23px,#b4d762 27px,#80c865 35px,#78c667 41px,#63bb6f 80px,#4ba57a 102px,#368287 120px,#25698b 135px,#144d8f 153px,#174294 161px,#2e26a1 177px,#2c1f8e 204px,#2c1e8d 205px);border-radius:0 0 2px 2px"></div><div style="left:760.6px;top:89.3px;width:1.77px;height:203.0px;background:linear-gradient(#88ca64 0px,#89cb64 3px,#bbd964 7px,#c7dc6d 9px,#bfda67 23px,#a4d263 28px,#7ec766 35px,#75c568 45px,#62bb6f 80px,#4ba57a 101px,#368287 119px,#23678b 135px,#134b8f 153px,#1a3e97 162px,#2e25a0 177px,#2c1e8d 203px);border-radius:0 0 2px 2px"></div><div style="left:762.1px;top:89.3px;width:1.77px;height:202.8px;background:linear-gradient(#75c568 0px,#77c568 4px,#8dcc64 7px,#b4d762 11px,#aad463 25px,#7fc865 34px,#71c36a 41px,#5fb871 80px,#47a17c 102px,#337b88 122px,#14508e 150px,#154492 158px,#2e26a2 175px,#2c1e8c 203px);border-radius:0 0 2px 2px"></div><div style="left:763.5px;top:89.3px;width:1.77px;height:203.8px;background:linear-gradient(#7bc667 0px,#7bc667 6px,#95ce63 9px,#b7d862 12px,#bfda67 13px,#b9d863 27px,#81c865 37px,#73c469 42px,#5fb871 81px,#48a27b 102px,#358087 120px,#24688b 135px,#134c8f 153px,#1a3f96 162px,#2e25a1 177px,#2c1e8c 204px);border-radius:0 0 2px 2px"></div><div style="left:764.9px;top:89.3px;width:1.77px;height:202.7px;background:linear-gradient(#7dc766 0px,#80c865 6px,#b9d863 12px,#bcd965 16px,#b5d762 27px,#82c865 36px,#72c469 42px,#5fb871 82px,#47a17c 105px,#347d88 125px,#22668c 140px,#134a8f 158px,#2e26a2 179px,#2c1e8c 203px);border-radius:0 0 2px 2px"></div><div style="left:766.3px;top:89.3px;width:1.77px;height:202.7px;background:linear-gradient(#75c568 0px,#76c568 3px,#8ccb64 6px,#b5d762 10px,#abd463 24px,#7fc865 33px,#71c36a 40px,#5fb871 83px,#47a07c 107px,#327a88 130px,#14508e 157px,#174293 166px,#2e26a1 182px,#2c1e8c 202px,#2c1e8c 203px);border-radius:0 0 2px 2px"></div><div style="left:767.8px;top:89.3px;width:1.77px;height:202.7px;background:linear-gradient(#7ec766 0px,#7ec766 3px,#bcd965 8px,#c0da68 11px,#b8d862 23px,#80c865 35px,#63bb6f 79px,#4ba57a 99px,#358187 116px,#24688b 131px,#134c8f 149px,#164293 156px,#2e27a2 172px,#2c1f8e 203px);border-radius:0 0 2px 2px"></div><div style="left:769.2px;top:89.3px;width:1.77px;height:202.7px;background:linear-gradient(#78c568 0px,#79c667 3px,#9acf63 6px,#b6d762 8px,#bbd964 10px,#b1d662 23px,#7fc865 35px,#63bb6f 80px,#4ba57a 101px,#368287 119px,#23678c 135px,#134b8f 153px,#1b3e97 162px,#2e26a1 176px,#2c1f8e 203px);border-radius:0 0 2px 2px"></div><div style="left:770.6px;top:89.3px;width:1.77px;height:202.7px;background:linear-gradient(#72c469 0px,#72c469 4px,#93cd63 8px,#b5d762 11px,#add562 25px,#81c865 33px,#6ec26b 40px,#5eb771 80px,#469f7d 103px,#337b88 123px,#14508e 151px,#174293 160px,#2e26a2 176px,#2c1e8b 203px);border-radius:0 0 2px 2px"></div><div style="left:772.0px;top:89.3px;width:1.77px;height:206.4px;background:linear-gradient(#72c469 0px,#73c469 3px,#8bcb64 6px,#aed562 9px,#a5d363 23px,#7fc865 31px,#6dc26b 38px,#5db771 79px,#469f7d 101px,#317888 122px,#15528e 147px,#164392 156px,#2e26a2 173px,#2c1e8b 204px,#2c1e8b 206px);border-radius:0 0 2px 2px"></div><div style="left:773.5px;top:89.3px;width:1.77px;height:206.4px;background:linear-gradient(#6cc26b 0px,#6dc26b 3px,#83c964 6px,#9dd063 8px,#a3d263 10px,#99cf63 23px,#7bc667 31px,#6cc26b 39px,#5db771 80px,#469f7d 103px,#337b88 123px,#14508e 151px,#174293 160px,#2e26a2 176px,#2c1e8b 203px,#2c1e8b 206px);border-radius:0 0 2px 2px"></div><div style="left:774.9px;top:89.3px;width:1.77px;height:206.4px;background:linear-gradient(#6dc26b 0px,#6dc26b 3px,#83c964 6px,#a8d363 9px,#9dd063 24px,#7dc766 32px,#6fc36a 39px,#5fb871 80px,#47a17c 102px,#337c88 122px,#144f8e 151px,#164393 159px,#2e26a2 175px,#2c1e8c 203px,#2c1e8b 206px);border-radius:0 0 2px 2px"></div><div style="left:776.3px;top:89.3px;width:1.77px;height:206.4px;background:linear-gradient(#6cc26b 0px,#6dc26b 3px,#85c964 6px,#a1d163 8px,#a8d363 9px,#9dd063 23px,#7fc865 31px,#71c36a 39px,#5fb870 77px,#47a27c 97px,#347d88 114px,#14508e 143px,#174293 152px,#2e26a2 168px,#2c1e8c 205px,#2c1e8c 206px);border-radius:0 0 2px 2px"></div><div style="left:777.7px;top:89.3px;width:1.77px;height:206.4px;background:linear-gradient(#6ec36a 0px,#6fc36a 3px,#89ca64 6px,#a5d263 8px,#abd462 9px,#a1d163 23px,#7dc766 32px,#71c36a 39px,#60b970 77px,#48a27c 97px,#347d88 114px,#144e8f 144px,#174293 152px,#2e26a1 169px,#2c1e8c 205px,#2c1e8c 206px);border-radius:0 0 2px 2px"></div><div style="left:779.2px;top:89.3px;width:1.77px;height:206.4px;background:linear-gradient(#6bc16c 0px,#6cc26b 4px,#86ca64 8px,#a4d263 11px,#9acf63 25px,#7dc766 34px,#71c469 43px,#5fb870 78px,#48a37b 97px,#358087 113px,#24688b 128px,#134c8f 146px,#194095 154px,#2e25a1 170px,#2c1e8c 205px,#2c1e8c 206px);border-radius:0 0 2px 2px"></div><div style="left:780.6px;top:89.3px;width:1.77px;height:206.4px;background:linear-gradient(#64bc6f 0px,#65bd6e 11px,#80c865 15px,#a3d263 18px,#95ce63 33px,#7ac667 42px,#6ec36a 52px,#5eb771 79px,#47a17c 98px,#337b88 116px,#14508e 144px,#174293 153px,#2e26a2 169px,#2c1e8c 205px,#2c1e8c 206px);border-radius:0 0 2px 2px"></div><div style="left:782.0px;top:89.3px;width:1.77px;height:206.4px;background:linear-gradient(#68bf6d 0px,#68bf6d 10px,#77c568 12px,#82c964 13px,#bbd964 16px,#c8dc6e 17px,#cddd72 19px,#c4db6b 32px,#afd562 36px,#81c865 43px,#76c568 48px,#60b970 83px,#49a37b 104px,#358087 123px,#24688b 138px,#134c8f 156px,#184095 164px,#2e26a1 179px,#2c1e8d 203px,#2c1e8d 206px);border-radius:0 0 2px 2px"></div><div style="left:783.4px;top:89.3px;width:1.77px;height:208.4px;background:linear-gradient(#6dc26b 0px,#70c36a 10px,#87ca64 12px,#bed966 15px,#d4de77 17px,#ccdd71 31px,#b2d662 36px,#82c865 43px,#79c667 47px,#62ba6f 82px,#4aa47a 103px,#358087 122px,#24688b 137px,#134c8f 155px,#184095 163px,#2e26a1 178px,#2c1f8e 203px,#2c1e8d 208px);border-radius:0 0 2px 2px"></div><div style="left:784.9px;top:89.3px;width:1.77px;height:206.8px;background:linear-gradient(#68bf6d 0px,#68bf6d 13px,#84c964 16px,#bbd964 19px,#c7dc6d 20px,#c0da68 35px,#a7d363 39px,#80c865 45px,#73c469 49px,#5cb672 82px,#47a17c 100px,#357f88 117px,#23678c 132px,#134b8f 150px,#1c3c99 160px,#2e25a0 174px,#2c1e8c 204px,#2c1e8c 207px);border-radius:0 0 2px 2px"></div><div style="left:786.3px;top:89.3px;width:1.77px;height:206.4px;background:linear-gradient(#60b970 0px,#63bb6f 15px,#80c865 18px,#b8d862 21px,#c0da68 22px,#b9d862 36px,#81c865 45px,#6fc36a 51px,#5ab573 83px,#469f7d 101px,#327988 121px,#144f8e 148px,#164393 156px,#2e26a2 173px,#2c1e8b 204px,#2c1e8b 206px);border-radius:0 0 2px 2px"></div><div style="left:787.7px;top:89.3px;width:1.77px;height:207.1px;background:linear-gradient(#65bd6e 0px,#68bf6d 12px,#89cb64 15px,#b1d662 17px,#c1da69 18px,#c9dc6f 19px,#c2da69 33px,#abd462 37px,#80c865 44px,#74c469 49px,#5eb771 80px,#47a27c 98px,#347d88 115px,#14508e 144px,#174293 153px,#2e26a2 169px,#2c1e8d 204px,#2c1e8c 207px);border-radius:0 0 2px 2px"></div><div style="left:789.1px;top:89.3px;width:1.77px;height:208.8px;background:linear-gradient(#62ba6f 0px,#62ba6f 11px,#7fc865 14px,#b9d863 17px,#c6db6d 18px,#c0da68 32px,#aad463 36px,#7fc865 43px,#73c469 47px,#5eb771 79px,#47a17c 97px,#347d88 113px,#20648c 129px,#12478f 148px,#2d27a2 167px,#2c1e8c 200px,#2c1e8c 209px);border-radius:0 0 2px 2px"></div><div style="left:790.6px;top:89.3px;width:1.77px;height:206.4px;background:linear-gradient(#5cb672 0px,#5fb870 10px,#7fc865 13px,#aad463 15px,#bfda67 16px,#c8dc6e 17px,#c1da69 31px,#afd662 34px,#80c865 41px,#70c36a 46px,#5db771 82px,#47a07c 103px,#327a88 124px,#14508e 151px,#154492 159px,#2e26a2 176px,#2c1e8c 203px,#2c1e8c 206px);border-radius:0 0 2px 2px"></div><div style="left:792.0px;top:89.3px;width:1.77px;height:206.4px;background:linear-gradient(#66bd6e 0px,#66bd6e 13px,#84c964 16px,#aed562 18px,#cddd72 20px,#c8dc6e 34px,#b1d662 38px,#7ec766 45px,#70c36a 49px,#5cb672 84px,#46a07d 105px,#317789 129px,#15518e 153px,#164392 162px,#2e26a1 179px,#2c1e8c 203px,#2c1e8b 206px);border-radius:0 0 2px 2px"></div><div style="left:793.4px;top:89.3px;width:1.77px;height:206.4px;background:linear-gradient(#6ac06c 0px,#6ac06c 14px,#88ca64 17px,#bdd965 20px,#c9dc6f 21px,#c5db6c 35px,#acd562 39px,#7fc865 45px,#6cc26b 50px,#5ab573 87px,#459e7e 111px,#276b8b 144px,#14508e 162px,#164392 170px,#2e26a2 186px,#2c1f90 197px,#2c1e8b 203px,#2c1e8b 206px);border-radius:0 0 2px 2px"></div><div style="left:794.8px;top:89.3px;width:1.77px;height:205.2px;background:linear-gradient(#60b970 0px,#60b970 11px,#77c568 14px,#94ce63 16px,#bad863 18px,#b8d862 32px,#80c865 41px,#6cc26b 47px,#5bb572 87px,#449d7e 114px,#286c8a 147px,#144f8e 166px,#164393 174px,#2e25a1 190px,#2d2097 197px,#2c1e8b 199px,#2c1e8a 205px);border-radius:0 0 2px 2px"></div><div style="left:796.3px;top:89.3px;width:1.77px;height:203.8px;background:linear-gradient(#5fb871 0px,#5fb871 15px,#7ac667 18px,#86ca64 19px,#aed562 21px,#bfda67 22px,#b8d862 36px,#7fc865 47px,#74c469 52px,#5db672 85px,#47a17c 104px,#337a88 125px,#144f8f 153px,#164393 161px,#2e26a2 177px,#2c1e8d 203px,#2c1e8d 204px);border-radius:0 0 2px 2px"></div><div style="left:797.7px;top:89.3px;width:1.77px;height:203.7px;background:linear-gradient(#56b175 0px,#56b175 15px,#74c469 19px,#93cd63 21px,#a8d363 22px,#afd562 23px,#a3d263 37px,#7fc865 46px,#72c469 54px,#5bb572 86px,#47a17c 104px,#327988 126px,#14508e 152px,#154492 160px,#2e26a2 177px,#2c1e8c 203px,#2c1e8c 204px);border-radius:0 0 2px 2px"></div><div style="left:799.1px;top:89.3px;width:1.77px;height:204.8px;background:linear-gradient(#64bc6f 0px,#63bb6f 16px,#7dc766 19px,#b1d662 22px,#c0da68 23px,#b5d762 38px,#80c865 49px,#73c469 61px,#5bb572 90px,#47a17c 107px,#327a88 129px,#144f8e 156px,#174293 165px,#2e26a2 180px,#2c1f8e 203px,#2c1f8e 205px);border-radius:0 0 2px 2px"></div><div style="left:800.5px;top:89.3px;width:1.77px;height:203.7px;background:linear-gradient(#68bf6d 0px,#68bf6d 15px,#8ccb64 19px,#b9d863 22px,#b2d662 36px,#7ec766 48px,#6cc26b 67px,#4ea878 102px,#378586 122px,#266a8b 138px,#144e8f 156px,#164293 164px,#2e26a2 180px,#2c1e8d 203px,#2c1e8d 204px);border-radius:0 0 2px 2px"></div><div style="left:802.0px;top:89.3px;width:1.77px;height:203.7px;background:linear-gradient(#64bc6e 0px,#64bc6e 16px,#7dc766 19px,#bdd966 23px,#b6d862 37px,#7fc865 48px,#73c469 54px,#5cb672 79px,#4aa47b 92px,#358087 106px,#23678b 121px,#134c8f 139px,#1a3e97 148px,#2e25a1 164px,#2c1e8d 204px);border-radius:0 0 2px 2px"></div><div style="left:803.4px;top:89.3px;width:1.77px;height:203.7px;background:linear-gradient(#68bf6d 0px,#68bf6d 18px,#7fc865 21px,#bdd966 25px,#b7d862 40px,#80c865 50px,#72c469 57px,#57b274 84px,#459e7d 96px,#317888 113px,#14508e 139px,#154492 147px,#2d27a2 164px,#2c1e8d 198px,#2c1e8d 204px);border-radius:0 0 2px 2px"></div><div style="left:804.8px;top:89.3px;width:1.77px;height:203.7px;background:linear-gradient(#65bd6e 0px,#65bd6e 17px,#7ec766 20px,#afd562 23px,#bed966 24px,#b9d863 38px,#7fc766 48px,#70c36a 53px,#58b374 90px,#439c7e 110px,#266a8b 141px,#144e8f 159px,#174293 167px,#2e26a1 183px,#2c1e8c 202px,#2c1e8b 204px);border-radius:0 0 2px 2px"></div><div style="left:806.2px;top:89.3px;width:1.77px;height:205.0px;background:linear-gradient(#6ac06c 0px,#6ac16c 16px,#83c964 19px,#b5d762 22px,#c2da69 23px,#c4db6b 28px,#bdd966 38px,#81c865 47px,#6fc36a 52px,#59b373 88px,#459e7d 107px,#276b8b 138px,#144f8e 156px,#164393 164px,#2e26a2 180px,#2c1e8b 202px,#2c1e8b 205px);border-radius:0 0 2px 2px"></div><div style="left:807.7px;top:89.3px;width:1.77px;height:203.8px;background:linear-gradient(#61ba70 0px,#61ba70 18px,#75c469 21px,#8bcb64 23px,#add562 25px,#b3d762 27px,#a8d363 40px,#7fc865 48px,#6dc26b 55px,#57b274 87px,#439c7e 104px,#266a8b 133px,#144e8f 151px,#174294 159px,#2e26a2 175px,#2c1e8b 203px,#2c1e8b 204px);border-radius:0 0 2px 2px"></div><div style="left:809.1px;top:89.3px;width:1.77px;height:203.9px;background:linear-gradient(#5ab473 0px,#5eb771 23px,#79c667 26px,#86ca64 27px,#b1d662 29px,#bad964 30px,#b1d662 44px,#81c865 52px,#6dc26b 59px,#4da879 99px,#368287 121px,#25698b 137px,#144d8f 155px,#184195 163px,#2e25a1 179px,#2c1e8b 203px,#2c1e8b 204px);border-radius:0 0 2px 2px"></div><div style="left:810.5px;top:89.3px;width:1.77px;height:205.0px;background:linear-gradient(#66be6d 0px,#66be6d 17px,#84c964 20px,#bcd965 23px,#cadc6f 24px,#c4db6b 38px,#aed562 42px,#7fc865 49px,#72c469 53px,#59b473 87px,#469f7d 104px,#307689 127px,#15528e 150px,#154492 159px,#2e26a2 176px,#2c1e8c 203px,#2c1e8c 205px);border-radius:0 0 2px 2px"></div><div style="left:811.9px;top:89.3px;width:1.77px;height:203.7px;background:linear-gradient(#60b970 0px,#60b970 15px,#6cc26b 17px,#86ca64 19px,#b4d762 21px,#c5db6b 22px,#cddd71 23px,#c5db6b 37px,#add562 41px,#82c865 47px,#72c469 52px,#5ab473 86px,#459f7d 104px,#2f7489 128px,#15538e 149px,#154492 159px,#2e26a2 176px,#2c1e8c 204px);border-radius:0 0 2px 2px"></div><div style="left:813.4px;top:89.3px;width:1.77px;height:203.7px;background:linear-gradient(#67be6d 0px,#69bf6c 21px,#7fc865 23px,#bcd965 26px,#d7df79 28px,#d1de75 42px,#b8d862 46px,#81c865 52px,#6cc26b 57px,#51ab77 95px,#388886 118px,#286c8a 136px,#14508e 154px,#164392 162px,#2e26a1 179px,#2c1e8b 202px,#2c1e8b 204px);border-radius:0 0 2px 2px"></div><div style="left:814.8px;top:89.3px;width:1.77px;height:203.7px;background:linear-gradient(#6bc26b 0px,#6fc36a 21px,#88ca64 23px,#b2d662 25px,#dbe07c 28px,#d4de77 42px,#b1d662 47px,#82c865 52px,#6cc26b 57px,#51ac77 94px,#3b9084 113px,#286c8a 135px,#144f8f 154px,#164293 162px,#2e26a2 178px,#2c1e8b 203px,#2c1e8b 204px);border-radius:0 0 2px 2px"></div><div style="left:816.2px;top:89.3px;width:1.77px;height:203.7px;background:linear-gradient(#5bb572 0px,#5cb572 18px,#6bc16c 20px,#8dcc64 22px,#c0da68 24px,#d3de76 25px,#dce07d 26px,#d3de76 40px,#b1d662 45px,#82c865 50px,#6fc36a 54px,#56b075 88px,#439b7f 104px,#266a8b 132px,#144e8f 150px,#174294 158px,#2e26a2 174px,#2c1e8b 204px);border-radius:0 0 2px 2px"></div><div style="left:817.6px;top:89.3px;width:1.77px;height:203.5px;background:linear-gradient(#59b373 0px,#59b473 19px,#78c568 22px,#88ca64 23px,#bbd964 25px,#cddd71 26px,#cbdc70 40px,#b3d762 44px,#82c865 50px,#6dc26b 55px,#53ae76 88px,#419980 102px,#286c8a 127px,#14508e 145px,#164393 153px,#2e26a2 170px,#2c1e8b 204px);border-radius:0 0 2px 2px"></div><div style="left:819.1px;top:89.3px;width:1.77px;height:202.3px;background:linear-gradient(#53ad76 0px,#56b174 22px,#6cc26b 24px,#7dc766 25px,#b4d762 27px,#cadc6f 28px,#d8df7a 29px,#d0de74 43px,#b7d862 47px,#82c865 53px,#6ec26b 58px,#50aa78 94px,#358187 117px,#23678b 133px,#134c8f 151px,#1b3e97 160px,#2e25a0 175px,#2c1e8b 202px);border-radius:0 0 2px 2px"></div><div style="left:820.5px;top:89.3px;width:1.77px;height:202.5px;background:linear-gradient(#59b473 0px,#5ab473 19px,#6ac06c 21px,#8ccb64 23px,#a9d463 24px,#c1da69 25px,#d4df77 26px,#dce07d 27px,#d3de76 41px,#b9d863 45px,#82c865 51px,#6fc36a 55px,#55b075 91px,#419980 109px,#266a8b 137px,#144f8f 155px,#174293 163px,#2e26a2 179px,#2c1e8b 202px);border-radius:0 0 2px 2px"></div><div style="left:821.9px;top:89.3px;width:1.77px;height:204.0px;background:linear-gradient(#68bf6d 0px,#68bf6d 19px,#78c568 21px,#83c964 22px,#bdd966 25px,#cadc70 26px,#cfdd73 28px,#c6db6d 41px,#afd562 45px,#7fc766 52px,#73c469 56px,#57b274 90px,#449d7e 106px,#25698b 136px,#144d8f 154px,#174194 162px,#2e26a1 178px,#2c1e8c 203px,#2c1e8c 204px);border-radius:0 0 2px 2px"></div><div style="left:823.3px;top:89.3px;width:1.77px;height:204.7px;background:linear-gradient(#63bb6f 0px,#64bc6f 22px,#84c964 25px,#afd562 27px,#cedd73 29px,#c8dc6e 43px,#b2d662 47px,#80c865 54px,#73c469 58px,#53ae76 93px,#378786 116px,#266a8b 133px,#144f8f 151px,#164293 159px,#2e26a2 175px,#2c1e8c 204px,#2c1e8c 205px);border-radius:0 0 2px 2px"></div><div style="left:824.8px;top:89.3px;width:1.77px;height:204.7px;background:linear-gradient(#64bc6e 0px,#64bc6f 21px,#85c964 24px,#b2d662 26px,#d3de76 28px,#cddd72 42px,#b2d662 47px,#80c865 54px,#75c568 58px,#56b175 87px,#419980 100px,#307689 117px,#15528e 140px,#154492 149px,#2d27a2 166px,#2c1e8d 199px,#2c1e8d 205px);border-radius:0 0 2px 2px"></div><div style="left:826.2px;top:89.3px;width:1.77px;height:204.7px;background:linear-gradient(#69c06c 0px,#6bc16b 21px,#81c865 23px,#bad864 26px,#d1de75 28px,#cadc6f 42px,#b4d762 46px,#81c865 53px,#73c469 58px,#54af76 88px,#398d84 105px,#266a8b 124px,#144e8f 142px,#174293 150px,#2e26a2 167px,#2c1e8d 205px);border-radius:0 0 2px 2px"></div><div style="left:827.6px;top:89.3px;width:1.77px;height:206.7px;background:linear-gradient(#67be6d 0px,#67be6d 22px,#76c568 24px,#93cd63 26px,#bbd964 28px,#c8dc6e 29px,#cedd72 31px,#c6db6c 44px,#acd462 48px,#7ec766 54px,#6cc26b 59px,#4ca67a 93px,#368387 109px,#24688b 125px,#134d8f 143px,#1a3f96 152px,#2e26a1 167px,#2c1e8b 205px,#2c1e8b 207px);border-radius:0 0 2px 2px"></div><div style="left:829.0px;top:89.3px;width:1.77px;height:205.1px;background:linear-gradient(#58b373 0px,#59b473 26px,#77c568 29px,#85c964 30px,#b8d862 32px,#c9dc6f 33px,#c6db6d 47px,#aed562 51px,#80c865 57px,#6cc26b 62px,#49a37b 94px,#358187 109px,#23678b 125px,#134c8f 143px,#1b3d97 152px,#2e25a1 167px,#2c1e8b 205px);border-radius:0 0 2px 2px"></div><div style="left:830.5px;top:89.3px;width:1.77px;height:204.7px;background:linear-gradient(#67be6d 0px,#6ac06c 26px,#8dcb64 29px,#b3d762 31px,#cadc6f 33px,#c2da6a 47px,#b1d662 50px,#81c865 57px,#6ec36a 63px,#4ba67a 96px,#368287 113px,#24688b 129px,#134c8f 147px,#1a3e96 156px,#2e25a1 171px,#2c1e8c 205px);border-radius:0 0 2px 2px"></div><div style="left:831.9px;top:89.3px;width:1.77px;height:205.4px;background:linear-gradient(#69c06c 0px,#6ac06c 20px,#86ca64 24px,#aed562 27px,#a7d363 41px,#80c865 50px,#6fc36a 58px,#53ae76 91px,#3c9283 108px,#266a8b 131px,#144e8f 149px,#174294 157px,#2e26a2 173px,#2c1e8c 204px,#2c1e8c 205px);border-radius:0 0 2px 2px"></div><div style="left:833.3px;top:89.3px;width:1.77px;height:204.7px;background:linear-gradient(#5cb672 0px,#5db672 21px,#74c469 24px,#91cd64 26px,#b9d863 28px,#b7d862 42px,#81c865 51px,#6dc26b 58px,#4da879 92px,#368387 109px,#24688b 125px,#134d8f 143px,#1a3f96 152px,#2e26a1 167px,#2c1e8b 205px);border-radius:0 0 2px 2px"></div><div style="left:834.7px;top:89.3px;width:1.77px;height:204.7px;background:linear-gradient(#63bb6f 0px,#66bd6e 25px,#85c964 28px,#aed562 30px,#bfda67 31px,#c8dc6e 32px,#c1da69 46px,#afd662 49px,#7fc766 56px,#6dc26b 61px,#4aa47b 96px,#368287 112px,#24688b 128px,#134d8f 146px,#1a3f96 155px,#2e25a1 170px,#2c1e8b 205px);border-radius:0 0 2px 2px"></div><div style="left:836.2px;top:89.3px;width:1.77px;height:204.7px;background:linear-gradient(#65bd6e 0px,#67be6d 27px,#7ec766 29px,#bcd965 32px,#d8e07a 34px,#d2de76 48px,#b9d862 52px,#81c865 58px,#6bc26b 63px,#48a27c 101px,#347d88 121px,#22668c 136px,#134b8f 154px,#282ea0 171px,#2d239d 181px,#2c1e8b 203px,#2c1e8b 205px);border-radius:0 0 2px 2px"></div><div style="left:837.6px;top:89.3px;width:1.77px;height:204.7px;background:linear-gradient(#56b174 0px,#58b373 27px,#6cc26b 29px,#8fcc64 31px,#c1da68 33px,#d1de75 34px,#ccdd71 48px,#b1d662 52px,#7fc766 58px,#6ac16c 63px,#47a17c 100px,#337c88 120px,#1e618d 137px,#12488f 154px,#2e26a2 173px,#2c1e8a 203px,#2c1e8a 205px);border-radius:0 0 2px 2px"></div><div style="left:839.0px;top:89.3px;width:1.77px;height:207.1px;background:linear-gradient(#67be6d 0px,#6ac06c 27px,#83c964 29px,#b3d662 31px,#d5df77 33px,#e0e180 34px,#d9e07a 48px,#b7d862 53px,#80c865 59px,#6fc36a 63px,#4aa57a 98px,#368387 115px,#25698b 131px,#144d8f 149px,#184194 157px,#2e26a1 173px,#2c1e8c 204px,#2c1e8b 207px);border-radius:0 0 2px 2px"></div><div style="left:840.4px;top:89.3px;width:1.77px;height:205.1px;background:linear-gradient(#7cc766 0px,#7fc766 28px,#bbd964 32px,#dae07b 35px,#d3de76 49px,#b2d662 54px,#7fc865 60px,#6ec36a 64px,#48a27b 98px,#347d88 116px,#22668c 131px,#134a8f 149px,#282da0 166px,#2d239d 177px,#2c1e8b 205px);border-radius:0 0 2px 2px"></div><div style="left:841.9px;top:89.3px;width:1.77px;height:204.6px;background:linear-gradient(#70c36a 0px,#71c36a 24px,#84c964 26px,#bad863 29px,#d3de76 31px,#d0dd74 45px,#b2d662 50px,#81c865 56px,#70c36a 60px,#4ca67a 98px,#368387 116px,#25698b 132px,#144d8f 150px,#184195 158px,#2e26a1 174px,#2c1e8c 204px,#2c1e8c 205px);border-radius:0 0 2px 2px"></div><div style="left:843.3px;top:89.3px;width:1.77px;height:205.6px;background:linear-gradient(#76c568 0px,#76c568 19px,#85c964 21px,#b7d862 24px,#cddd72 26px,#d0de74 30px,#c8dc6e 41px,#b0d662 45px,#82c865 51px,#71c469 56px,#56b075 91px,#429a7f 107px,#266a8b 135px,#144e8f 153px,#174293 161px,#2e26a2 177px,#2c1e8c 203px,#2c1e8c 206px);border-radius:0 0 2px 2px"></div><div style="left:844.7px;top:89.3px;width:1.77px;height:204.6px;background:linear-gradient(#79c667 0px,#7ac667 19px,#85c964 21px,#b9d863 25px,#c6db6c 27px,#bed966 41px,#90cd64 48px,#77c568 53px,#6cc26b 61px,#50aa78 97px,#368387 119px,#266a8b 135px,#144e8f 153px,#174294 161px,#2e26a1 177px,#2c1e8c 203px,#2c1e8c 205px);border-radius:0 0 2px 2px"></div><div style="left:846.1px;top:89.3px;width:1.77px;height:204.6px;background:linear-gradient(#7fc865 0px,#7fc865 17px,#add562 21px,#c2da69 23px,#cadc6f 24px,#c5db6b 38px,#aed562 42px,#80c865 49px,#72c469 53px,#59b473 87px,#46a07c 104px,#327a88 125px,#14508e 152px,#174293 161px,#2e26a2 177px,#2c1e8c 203px,#2c1e8c 205px);border-radius:0 0 2px 2px"></div><div style="left:847.6px;top:89.3px;width:1.77px;height:204.6px;background:linear-gradient(#63bb6f 0px,#63bb6f 11px,#83c964 14px,#afd562 16px,#d0de74 18px,#cbdc70 32px,#aed562 37px,#7ec766 44px,#74c469 47px,#5eb771 86px,#47a07c 109px,#276b8b 142px,#144f8f 160px,#164393 168px,#2e26a1 184px,#2c1e8d 202px,#2c1e8c 205px);border-radius:0 0 2px 2px"></div><div style="left:849.0px;top:89.3px;width:1.77px;height:204.6px;background:linear-gradient(#69bf6c 0px,#6bc26b 11px,#82c964 13px,#bdd966 16px,#d3de76 18px,#cbdc70 32px,#b5d762 36px,#81c865 43px,#74c469 47px,#5eb771 85px,#48a27c 106px,#347d88 127px,#14508e 156px,#174293 165px,#2e26a1 181px,#2c1e8d 202px,#2c1e8c 205px);border-radius:0 0 2px 2px"></div><div style="left:850.4px;top:89.3px;width:1.77px;height:203.5px;background:linear-gradient(#6bc16c 0px,#6ec36a 8px,#8acb64 10px,#b7d862 12px,#e0e180 15px,#d8e07a 29px,#b1d662 35px,#7fc766 41px,#75c568 44px,#60b970 82px,#48a27b 103px,#347e88 122px,#22668c 137px,#13498f 156px,#2e26a2 177px,#2c1e8d 204px);border-radius:0 0 2px 2px"></div><div style="left:851.8px;top:89.3px;width:1.77px;height:201.7px;background:linear-gradient(#6ac06c 0px,#6ac06c 11px,#7bc667 13px,#9ed163 15px,#b3d762 16px,#d1de75 18px,#d7df79 20px,#cedd72 33px,#b0d662 38px,#82c865 44px,#76c568 48px,#5fb870 83px,#48a27c 104px,#357f88 123px,#23678c 138px,#13498f 157px,#2e26a2 178px,#2c1e8d 202px);border-radius:0 0 2px 2px"></div><div style="left:853.3px;top:89.3px;width:1.77px;height:201.5px;background:linear-gradient(#5cb672 0px,#5cb672 13px,#6bc16b 15px,#88ca64 17px,#b9d863 19px,#c9dc6f 20px,#cddd71 23px,#c4db6b 35px,#aed562 39px,#80c865 46px,#76c568 50px,#5eb871 82px,#49a37b 100px,#358187 117px,#23678c 133px,#134b8f 151px,#193f96 159px,#2e26a1 174px,#2c1e8d 201px);border-radius:0 0 2px 2px"></div><div style="left:854.7px;top:89.3px;width:1.77px;height:202.7px;background:linear-gradient(#52ad76 0px,#53ad76 10px,#73c469 13px,#83c964 14px,#bad863 16px,#ccdd71 17px,#c5db6c 31px,#b0d662 35px,#82c865 42px,#76c568 46px,#5fb870 79px,#49a37b 97px,#358087 113px,#23678b 128px,#134c8f 146px,#1a3e97 155px,#2e26a1 170px,#2c1e8d 203px);border-radius:0 0 2px 2px"></div><div style="left:856.1px;top:89.3px;width:1.77px;height:203.0px;background:linear-gradient(#62ba6f 0px,#62ba6f 13px,#7cc766 16px,#a1d163 18px,#b7d862 19px,#c6db6c 20px,#c8dc6e 24px,#c0da68 35px,#aad463 39px,#7fc865 46px,#75c568 51px,#5eb771 84px,#47a17c 104px,#337c88 124px,#144f8f 153px,#164393 161px,#2e26a2 177px,#2c1e8d 203px);border-radius:0 0 2px 2px"></div><div style="left:857.5px;top:89.3px;width:1.77px;height:203.0px;background:linear-gradient(#6cc26b 0px,#6cc26b 14px,#83c964 17px,#b2d662 20px,#beda67 21px,#b9d862 36px,#7fc865 46px,#73c469 51px,#5cb672 85px,#46a07c 104px,#337b88 124px,#14508e 152px,#154392 160px,#2e26a2 177px,#2c1e8c 203px);border-radius:0 0 2px 2px"></div><div style="left:859.0px;top:89.3px;width:1.77px;height:203.0px;background:linear-gradient(#5cb672 0px,#5cb672 13px,#7ac667 17px,#84c964 18px,#a6d363 20px,#9fd163 34px,#7dc766 42px,#6cc26b 50px,#5bb572 78px,#459f7d 96px,#337c88 112px,#144f8f 141px,#154492 148px,#2e26a2 165px,#2c1e8b 203px);border-radius:0 0 2px 2px"></div><div style="left:860.4px;top:89.3px;width:1.77px;height:203.0px;background:linear-gradient(#5fb870 0px,#62bb6f 18px,#7ec766 22px,#9fd163 25px,#96ce63 39px,#7cc766 46px,#6ac16c 55px,#55af75 82px,#449c7e 95px,#307689 113px,#15528e 136px,#154492 145px,#2e26a2 162px,#2c1e8b 203px);border-radius:0 0 2px 2px"></div><div style="left:861.8px;top:89.3px;width:1.77px;height:204.3px;background:linear-gradient(#5fb871 0px,#60b970 17px,#7ac667 21px,#8fcc64 23px,#9ed163 24px,#99cf63 38px,#7cc766 45px,#69c06c 53px,#56b075 84px,#429a7f 102px,#266a8b 130px,#144e8f 148px,#174194 156px,#2e26a2 172px,#2c1e8a 204px,#2c1e8a 204px);border-radius:0 0 2px 2px"></div><div style="left:863.2px;top:89.3px;width:1.77px;height:203.1px;background:linear-gradient(#5cb672 0px,#5db771 15px,#7bc667 19px,#84c964 20px,#a5d363 22px,#9ed063 36px,#7dc766 43px,#69c06c 51px,#58b373 82px,#439b7f 103px,#266a8b 132px,#144f8f 150px,#174294 158px,#2e26a2 174px,#2c1e8a 203px);border-radius:0 0 2px 2px"></div><div style="left:864.7px;top:89.3px;width:1.77px;height:203.3px;background:linear-gradient(#67be6d 0px,#69c06c 13px,#84c964 18px,#92cd63 20px,#89ca64 34px,#68bf6d 48px,#58b374 79px,#439b7f 98px,#2f7489 119px,#15538e 140px,#154492 149px,#2e26a2 166px,#2c1e8a 203px);border-radius:0 0 2px 2px"></div><div style="left:866.1px;top:89.3px;width:1.77px;height:205.1px;background:linear-gradient(#61ba70 0px,#65bd6e 11px,#81c865 15px,#9acf63 17px,#92cd63 32px,#7bc667 38px,#68bf6d 46px,#59b373 78px,#429b7f 98px,#2f7589 118px,#15528e 140px,#154392 149px,#2e26a2 166px,#2c1e89 205px);border-radius:0 0 2px 2px"></div><div style="left:867.5px;top:89.3px;width:1.77px;height:203.0px;background:linear-gradient(#5bb572 0px,#5bb572 13px,#74c469 16px,#93cd63 18px,#bdd966 20px,#bfda67 26px,#b8d862 35px,#81c865 44px,#70c36a 50px,#5cb672 80px,#46a07d 98px,#337c88 115px,#144f8f 144px,#164293 152px,#2e26a2 169px,#2c1e8c 203px);border-radius:0 0 2px 2px"></div><div style="left:868.9px;top:89.3px;width:1.77px;height:203.0px;background:linear-gradient(#61b970 0px,#61b970 12px,#6dc26b 14px,#85c964 16px,#afd562 18px,#c0da68 19px,#c6db6c 21px,#bed966 34px,#92cd63 41px,#79c667 46px,#6fc36a 55px,#5db672 81px,#48a27b 98px,#358087 114px,#24688b 129px,#134c8f 147px,#1a3e97 156px,#2e25a1 171px,#2c1e8c 203px);border-radius:0 0 2px 2px"></div><div style="left:870.4px;top:89.3px;width:1.77px;height:203.0px;background:linear-gradient(#61b970 0px,#62ba6f 12px,#7cc766 15px,#9cd063 17px,#bcd965 19px,#b5d762 33px,#80c865 43px,#72c469 49px,#5db771 77px,#48a27c 93px,#347d88 108px,#144e8f 138px,#174293 146px,#2e26a2 163px,#2c1e8c 203px);border-radius:0 0 2px 2px"></div><div style="left:871.8px;top:89.3px;width:1.77px;height:203.0px;background:linear-gradient(#54af76 0px,#54af76 14px,#6ec36a 17px,#8fcc64 19px,#bed966 21px,#b9d863 35px,#81c865 45px,#72c469 51px,#5bb572 78px,#48a27c 92px,#347e88 106px,#22668c 121px,#134a8f 139px,#272f9f 155px,#2e249e 167px,#2c1e8c 203px);border-radius:0 0 2px 2px"></div><div style="left:873.2px;top:89.3px;width:1.77px;height:203.5px;background:linear-gradient(#5eb771 0px,#5eb771 15px,#82c865 18px,#b3d762 20px,#d7df79 22px,#d1de74 36px,#b4d762 41px,#7fc865 48px,#75c568 51px,#5eb771 81px,#49a37b 98px,#357f88 115px,#23678c 130px,#13498f 149px,#2e26a2 170px,#2c1e8d 204px);border-radius:0 0 2px 2px"></div><div style="left:874.6px;top:89.3px;width:1.77px;height:202.6px;background:linear-gradient(#79c667 0px,#78c667 16px,#7fc865 17px,#b1d662 20px,#d8df7a 23px,#dbe07c 27px,#d2de75 38px,#b5d762 43px,#80c865 50px,#75c568 56px,#5db771 82px,#49a37b 97px,#358187 112px,#24688b 127px,#134c8f 145px,#184195 153px,#2e26a2 169px,#2c1e8d 203px);border-radius:0 0 2px 2px"></div><div style="left:876.1px;top:89.3px;width:1.77px;height:203.3px;background:linear-gradient(#7cc766 0px,#7bc766 14px,#86c964 15px,#b9d863 18px,#dce07d 21px,#d7df79 35px,#b1d662 41px,#80c865 47px,#75c568 50px,#5db771 82px,#49a37b 99px,#358087 116px,#23678b 131px,#134c8f 149px,#1a3e97 158px,#2e25a1 173px,#2c1e8d 203px);border-radius:0 0 2px 2px"></div><div style="left:877.5px;top:89.3px;width:1.77px;height:206.1px;background:linear-gradient(#71c469 0px,#73c469 14px,#8ecc64 16px,#b6d762 18px,#dde17e 21px,#d6df79 35px,#b9d862 40px,#7fc865 47px,#75c568 50px,#5eb771 81px,#48a37b 98px,#358087 114px,#24688b 129px,#134c8f 147px,#1a3e97 156px,#2e25a1 171px,#2c1e8d 205px,#2c1e8d 206px);border-radius:0 0 2px 2px"></div><div style="left:878.9px;top:89.3px;width:1.77px;height:206.1px;background:linear-gradient(#67be6d 0px,#6bc16b 18px,#8ccb64 21px,#b0d662 23px,#bfda67 24px,#c4db6b 26px,#bcd965 39px,#7ec766 49px,#70c36a 54px,#57b174 87px,#439c7e 103px,#266a8b 131px,#144e8f 149px,#174194 157px,#2e26a2 173px,#2c1e8c 204px,#2c1e8b 206px);border-radius:0 0 2px 2px"></div><div style="left:880.3px;top:89.3px;width:1.77px;height:206.1px;background:linear-gradient(#5ab473 0px,#5ab573 19px,#76c568 22px,#84c964 23px,#b2d662 25px,#c4db6b 26px,#c0da68 40px,#a8d363 44px,#7fc865 50px,#6ec36a 55px,#54af75 88px,#439c7e 102px,#266a8b 130px,#144e8f 148px,#174194 156px,#2e26a2 172px,#2c1e8b 204px,#2c1e8b 206px);border-radius:0 0 2px 2px"></div><div style="left:881.8px;top:89.3px;width:1.77px;height:206.1px;background:linear-gradient(#4da879 0px,#4ea879 19px,#5db771 21px,#77c568 23px,#8bcb64 24px,#aad463 25px,#c3db6a 26px,#cedd72 27px,#c6db6d 41px,#acd462 45px,#7ec766 51px,#6cc26b 56px,#52ad77 88px,#409880 101px,#2e7289 121px,#15538e 141px,#164393 151px,#2e26a2 168px,#2c1e8b 205px,#2c1e8b 206px);border-radius:0 0 2px 2px"></div><div style="left:883.2px;top:89.3px;width:1.77px;height:206.1px;background:linear-gradient(#52ad76 0px,#53ad76 18px,#6ec36a 21px,#93cd63 23px,#aed562 24px,#c4db6b 25px,#c2da69 39px,#b1d662 42px,#7ec766 49px,#6bc26b 54px,#55b075 83px,#449d7e 97px,#307589 117px,#15538e 139px,#154492 148px,#2d27a2 165px,#2c1e8b 202px,#2c1e8a 206px);border-radius:0 0 2px 2px"></div><div style="left:884.6px;top:89.3px;width:1.77px;height:206.6px;background:linear-gradient(#61b970 0px,#61ba70 19px,#7cc766 22px,#9fd163 24px,#b4d762 25px,#c3db6b 26px,#c1da69 40px,#b0d662 43px,#80c865 50px,#6ec36a 55px,#54af75 90px,#419980 106px,#276b8b 133px,#144f8f 151px,#174293 159px,#2e26a2 175px,#2c1e8b 203px,#2c1e8b 207px);border-radius:0 0 2px 2px"></div><div style="left:886.0px;top:89.3px;width:1.77px;height:206.1px;background:linear-gradient(#68bf6d 0px,#69bf6c 19px,#83c964 22px,#b8d862 25px,#c5db6b 26px,#c2da69 40px,#abd463 44px,#81c865 50px,#6fc36a 55px,#55b075 90px,#429b7f 106px,#25698b 135px,#144d8f 153px,#164393 160px,#2e26a2 176px,#2c1e8b 203px,#2c1e8b 206px);border-radius:0 0 2px 2px"></div><div style="left:887.5px;top:89.3px;width:1.77px;height:207.1px;background:linear-gradient(#70c36a 0px,#70c36a 15px,#8ccb64 18px,#bbd964 21px,#c6db6c 22px,#c0da68 37px,#a6d363 41px,#7ec766 47px,#70c36a 51px,#5ab473 88px,#459e7d 109px,#266a8b 141px,#144e8f 159px,#174293 167px,#2e26a1 183px,#2c1e8c 202px,#2c1e8b 207px);border-radius:0 0 2px 2px"></div><div style="left:888.9px;top:89.3px;width:1.77px;height:257.4px;background:linear-gradient(#64bc6e 0px,#64bc6e 16px,#7bc667 19px,#85c964 20px,#bbd964 23px,#bed967 26px,#b6d762 38px,#80c865 47px,#70c36a 53px,#59b373 89px,#459e7d 108px,#276b8b 139px,#144f8e 157px,#164393 165px,#2e26a2 181px,#2c1e8c 202px,#2c1e89 257px);border-radius:0 0 2px 2px"></div><div style="left:890.3px;top:89.3px;width:1.77px;height:257.4px;background:linear-gradient(#57b274 0px,#58b374 19px,#7ec766 23px,#b9d863 26px,#b1d662 40px,#7fc865 50px,#70c36a 57px,#55b075 87px,#419980 101px,#2e7289 121px,#15558e 140px,#154392 151px,#2e26a2 168px,#2c1e8c 205px,#2c1e89 257px);border-radius:0 0 2px 2px"></div><div style="left:891.7px;top:89.3px;width:1.77px;height:257.4px;background:linear-gradient(#56b174 0px,#56b174 19px,#71c469 22px,#93cd63 24px,#bfda67 26px,#bad863 40px,#7ec766 51px,#72c469 56px,#56b174 87px,#439c7e 101px,#2d7189 124px,#15538e 143px,#154392 153px,#2e26a2 170px,#2c1e8c 205px,#2c1e89 257px);border-radius:0 0 2px 2px"></div><div style="left:893.2px;top:89.3px;width:1.77px;height:257.4px;background:linear-gradient(#59b373 0px,#58b373 20px,#65bd6e 22px,#7ec766 24px,#acd562 26px,#c1da69 27px,#cbdc70 28px,#c3db6a 42px,#add562 46px,#80c865 53px,#73c469 59px,#53ad76 88px,#368287 107px,#23678b 123px,#134c8f 141px,#1a3e97 150px,#2e26a2 165px,#2c1e8d 206px,#2c1e8a 257px);border-radius:0 0 2px 2px"></div><div style="left:894.6px;top:89.3px;width:1.77px;height:258.8px;background:linear-gradient(#5eb871 0px,#5eb771 21px,#6bc16b 23px,#83c964 25px,#afd562 27px,#c1da69 28px,#c6db6c 30px,#bed966 43px,#89ca64 52px,#76c568 58px,#55af75 86px,#398c85 102px,#2e7289 115px,#15538e 135px,#154492 145px,#2d28a2 162px,#2c1f8f 195px,#2c1e8a 259px);border-radius:0 0 2px 2px"></div><div style="left:896.0px;top:89.3px;width:1.77px;height:257.5px;background:linear-gradient(#62bb6f 0px,#65bc6e 21px,#83c964 24px,#bdd965 27px,#c6db6d 28px,#bfda68 42px,#a6d363 46px,#7fc865 52px,#6ec36a 58px,#4ea879 89px,#368486 104px,#24688b 120px,#134d8f 138px,#1a3f96 147px,#2e25a1 163px,#2c1e8b 206px,#2c1e89 257px);border-radius:0 0 2px 2px"></div><div style="left:897.4px;top:89.3px;width:1.77px;height:257.4px;background:linear-gradient(#5db672 0px,#60b970 18px,#80c865 21px,#abd463 23px,#bfda67 24px,#c8dc6e 25px,#c1da68 39px,#a8d363 43px,#80c865 49px,#71c36a 54px,#57b274 81px,#449d7e 93px,#327988 108px,#14518e 134px,#164393 143px,#2e26a2 160px,#2c1e8c 202px,#2c1e89 257px);border-radius:0 0 2px 2px"></div><div style="left:898.9px;top:89.3px;width:1.77px;height:257.4px;background:linear-gradient(#59b473 0px,#59b473 16px,#70c36a 19px,#8ecc64 21px,#bad863 23px,#bdd966 26px,#b4d762 38px,#7fc865 48px,#72c469 54px,#5ab573 84px,#46a07c 100px,#327a88 119px,#14508e 146px,#154492 154px,#2e26a2 171px,#2c1e8c 205px,#2c1e89 257px);border-radius:0 0 2px 2px"></div><div style="left:900.3px;top:89.3px;width:1.77px;height:257.4px;background:linear-gradient(#62bb6f 0px,#65bd6e 22px,#89ca64 26px,#aad463 28px,#b3d762 29px,#a9d463 43px,#80c865 52px,#70c36a 60px,#51ac77 96px,#368387 119px,#25698b 135px,#134d8f 153px,#164293 160px,#2e26a2 176px,#2c1e8c 203px,#2c1e89 257px);border-radius:0 0 2px 2px"></div><div style="left:901.7px;top:89.3px;width:1.77px;height:257.4px;background:linear-gradient(#63bb6f 0px,#64bc6e 21px,#81c865 24px,#b7d862 27px,#c1da69 28px,#bad863 42px,#81c865 52px,#72c469 58px,#54af76 89px,#3e9482 104px,#266a8b 127px,#144e8f 145px,#174294 153px,#2e26a2 169px,#2c1e8c 205px,#2c1e89 257px);border-radius:0 0 2px 2px"></div><div style="left:903.1px;top:89.3px;width:1.77px;height:196.9px;background:linear-gradient(#63bb6f 0px,#63bb6f 18px,#7fc766 21px,#b9d863 24px,#c7dc6e 25px,#c0da68 40px,#a9d463 44px,#81c865 50px,#73c469 55px,#58b374 85px,#469f7d 99px,#317888 118px,#15518e 143px,#154392 152px,#2e26a2 169px,#2c1f8e 197px);border-radius:0 0 2px 2px"></div><div style="left:904.6px;top:89.3px;width:1.77px;height:195.0px;background:linear-gradient(#64bc6e 0px,#65bd6e 21px,#81c865 24px,#b7d862 27px,#c3da6a 28px,#bcd965 42px,#7ec766 53px,#72c469 58px,#54af76 90px,#3d9382 106px,#266a8b 129px,#144e8f 147px,#174294 155px,#2e26a2 171px,#2c1f8f 195px);border-radius:0 0 2px 2px"></div><div style="left:906.0px;top:89.3px;width:1.77px;height:194.5px;background:linear-gradient(#6cc26b 0px,#6ec36a 20px,#8ccb64 23px,#bad964 26px,#c3da6a 27px,#bcd965 41px,#7ec766 52px,#71c469 58px,#54af75 90px,#3e9482 106px,#25698b 130px,#144d8f 148px,#164293 155px,#2e27a2 171px,#2c1f90 195px);border-radius:0 0 2px 2px"></div><div style="left:907.4px;top:89.3px;width:1.77px;height:195.6px;background:linear-gradient(#6fc36a 0px,#6ec36a 20px,#89ca64 23px,#b9d863 26px,#c4db6b 27px,#bdd966 42px,#87ca64 51px,#75c568 57px,#57b274 90px,#439b7f 106px,#25698b 134px,#144d8f 152px,#174194 160px,#2e26a1 176px,#2c1f90 196px);border-radius:0 0 2px 2px"></div><div style="left:908.8px;top:89.3px;width:1.77px;height:219.2px;background:linear-gradient(#63bb6f 0px,#65bc6e 22px,#88ca64 25px,#b5d762 27px,#d1de75 29px,#cadc6f 43px,#aed562 48px,#7fc766 55px,#74c469 60px,#54af75 94px,#368486 119px,#25698b 135px,#144e8f 153px,#174294 161px,#2e26a1 177px,#2c1e8d 203px,#2c1e8c 219px);border-radius:0 0 2px 2px"></div><div style="left:910.3px;top:89.3px;width:1.77px;height:219.2px;background:linear-gradient(#55b075 0px,#56b175 21px,#6bc16b 24px,#87ca64 26px,#b7d862 28px,#c0da68 29px,#b9d863 43px,#82c865 51px,#6bc26b 57px,#4da779 92px,#358187 111px,#23678b 127px,#134c8f 145px,#1b3d97 154px,#2e25a0 169px,#2c1e8a 205px,#2c1e8a 219px);border-radius:0 0 2px 2px"></div><div style="left:911.7px;top:89.3px;width:1.77px;height:219.2px;background:linear-gradient(#57b274 0px,#5ab473 20px,#78c568 23px,#86c964 24px,#b5d762 26px,#c2da69 27px,#bbd965 41px,#7ec766 50px,#6ac16c 56px,#51ac77 87px,#409880 100px,#2e7389 120px,#15538e 140px,#164393 150px,#2e26a2 167px,#2c1e8a 205px,#2c1e89 219px);border-radius:0 0 2px 2px"></div><div style="left:913.1px;top:89.3px;width:1.77px;height:219.2px;background:linear-gradient(#5db771 0px,#5fb871 20px,#7dc766 23px,#a2d263 25px,#b8d862 26px,#c4db6b 27px,#bed966 41px,#88ca64 49px,#6ec36a 56px,#54ae76 92px,#409781 109px,#276b8b 135px,#144f8e 153px,#164393 161px,#2e26a2 177px,#2c1e8b 203px,#2c1e8a 219px);border-radius:0 0 2px 2px"></div><div style="left:914.5px;top:89.3px;width:1.77px;height:220.3px;background:linear-gradient(#5cb672 0px,#5db672 21px,#75c568 24px,#81c865 25px,#acd562 27px,#bfda67 28px,#c6db6c 30px,#bed966 43px,#8ecc64 50px,#71c36a 56px,#52ac77 94px,#398b85 115px,#276b8b 135px,#144f8f 153px,#164293 161px,#2e26a2 177px,#2c1e8b 203px,#2c1e8a 220px);border-radius:0 0 2px 2px"></div><div style="left:916.0px;top:89.3px;width:1.77px;height:219.6px;background:linear-gradient(#68bf6d 0px,#68bf6d 22px,#81c865 25px,#b4d762 28px,#c1da69 29px,#bbd964 44px,#80c865 53px,#6dc26b 59px,#4da779 97px,#368387 116px,#25698b 132px,#144e8f 150px,#164393 157px,#2e26a1 174px,#2c1e8b 204px,#2c1e8a 220px);border-radius:0 0 2px 2px"></div><div style="left:917.4px;top:89.3px;width:1.77px;height:200.3px;background:linear-gradient(#5db771 0px,#5fb870 20px,#7bc667 23px,#9dd063 25px,#b2d662 26px,#bfda67 27px,#b8d862 41px,#81c865 50px,#6fc36a 56px,#54af76 90px,#419980 105px,#266a8b 132px,#144e8f 150px,#174194 158px,#2e26a2 174px,#2c1e8c 200px);border-radius:0 0 2px 2px"></div><div style="left:918.8px;top:89.3px;width:1.77px;height:200.5px;background:linear-gradient(#5ab473 0px,#5ab473 18px,#73c469 21px,#94ce63 23px,#bfda67 25px,#c2da6a 28px,#bad964 40px,#7ec766 50px,#71c36a 55px,#57b274 92px,#439b7f 111px,#276b8b 141px,#144f8f 159px,#164393 167px,#2e26a2 183px,#2c1e8c 201px);border-radius:0 0 2px 2px"></div><div style="left:920.2px;top:89.3px;width:1.77px;height:204.3px;background:linear-gradient(#62ba6f 0px,#64bc6e 20px,#7ec766 23px,#b0d662 26px,#bad864 27px,#b1d662 41px,#81c865 50px,#70c36a 57px,#55b075 94px,#409781 113px,#276b8b 140px,#144f8e 158px,#164393 166px,#2e26a2 182px,#2c1e8c 202px,#2c1e8c 204px);border-radius:0 0 2px 2px"></div><div style="left:921.7px;top:89.3px;width:1.77px;height:204.3px;background:linear-gradient(#65bc6e 0px,#64bc6e 19px,#80c865 22px,#b8d862 25px,#c5db6c 26px,#bcd965 41px,#7ec766 52px,#74c469 58px,#58b274 90px,#459e7d 105px,#24688b 135px,#134d8f 153px,#164293 160px,#2e26a2 176px,#2c1e8d 204px);border-radius:0 0 2px 2px"></div><div style="left:923.1px;top:89.3px;width:1.77px;height:204.3px;background:linear-gradient(#64bc6e 0px,#64bc6e 19px,#72c469 21px,#8ecc64 23px,#b8d862 25px,#c6db6d 26px,#ccdd71 28px,#c3db6a 41px,#aed562 45px,#81c865 52px,#76c568 57px,#5bb572 89px,#46a07c 106px,#317789 129px,#15518e 153px,#154492 162px,#2d27a2 178px,#2c1e8d 203px,#2c1e8d 204px);border-radius:0 0 2px 2px"></div><div style="left:924.5px;top:89.3px;width:1.77px;height:204.3px;background:linear-gradient(#59b473 0px,#59b473 20px,#74c469 23px,#81c865 24px,#add562 26px,#c0da68 27px,#b9d863 42px,#81c865 51px,#70c36a 57px,#53ae76 89px,#3e9482 104px,#276b8b 127px,#144f8f 145px,#164293 153px,#2e26a2 170px,#2c1e8c 204px);border-radius:0 0 2px 2px"></div><div style="left:925.9px;top:89.3px;width:1.77px;height:205.4px;background:linear-gradient(#5eb771 0px,#60b970 23px,#7cc766 26px,#9ed163 28px,#b3d762 29px,#bed966 30px,#b6d762 44px,#80c865 54px,#6fc36a 61px,#4da779 94px,#368487 110px,#25698b 126px,#134d8f 144px,#184195 152px,#2e26a2 168px,#2c1e8c 205px);border-radius:0 0 2px 2px"></div><div style="left:927.4px;top:89.3px;width:1.77px;height:204.3px;background:linear-gradient(#61ba70 0px,#62ba6f 24px,#78c667 27px,#92cd63 29px,#b5d762 31px,#b0d662 45px,#7fc865 54px,#6bc16c 62px,#49a47b 90px,#368287 103px,#21658c 120px,#134a8f 138px,#2e26a2 159px,#2c1e8b 201px,#2c1e8b 204px);border-radius:0 0 2px 2px"></div><div style="left:928.8px;top:89.3px;width:1.77px;height:204.7px;background:linear-gradient(#59b473 0px,#5ab473 23px,#6cc26b 26px,#82c865 28px,#a8d363 30px,#b1d662 31px,#a6d363 45px,#7fc766 53px,#6bc16b 61px,#4ba57a 90px,#368287 104px,#23678b 120px,#134b8f 138px,#1c3c99 148px,#2e25a1 162px,#2c1e8b 205px);border-radius:0 0 2px 2px"></div><div style="left:930.2px;top:89.3px;width:1.77px;height:206.6px;background:linear-gradient(#53ae76 0px,#53ae76 23px,#6ec36a 26px,#8ecc64 28px,#bdd966 30px,#b8d862 44px,#80c865 53px,#6dc26b 59px,#4ea879 102px,#368287 127px,#266a8b 143px,#144e8f 161px,#174294 169px,#2e25a1 185px,#2c1e8b 201px,#2c1e8b 207px);border-radius:0 0 2px 2px"></div><div style="left:931.6px;top:89.3px;width:1.77px;height:205.7px;background:linear-gradient(#55af75 0px,#55b075 23px,#7cc766 27px,#a3d263 29px,#bad863 30px,#b4d762 44px,#82c865 52px,#6bc16b 59px,#4ca679 102px,#368287 125px,#266a8b 141px,#144e8f 159px,#174294 167px,#2e26a1 183px,#2c1e8a 202px,#2c1e8a 206px);border-radius:0 0 2px 2px"></div><div style="left:933.1px;top:89.3px;width:1.77px;height:205.7px;background:linear-gradient(#5bb572 0px,#5cb672 24px,#75c568 27px,#93cd63 29px,#bad964 31px,#b6d762 45px,#81c865 53px,#69c06c 60px,#4aa57a 104px,#368287 126px,#276b8b 142px,#144f8e 160px,#164293 168px,#2e26a2 184px,#2c1e8a 201px,#2c1e8a 206px);border-radius:0 0 2px 2px"></div><div style="left:934.5px;top:89.3px;width:1.77px;height:205.7px;background:linear-gradient(#5ab573 0px,#5fb871 25px,#7cc766 28px,#a1d163 30px,#b7d862 31px,#bfda68 32px,#b9d863 46px,#80c865 54px,#69c06c 60px,#4aa47b 102px,#358187 123px,#25698b 139px,#144e8f 157px,#164293 164px,#2e26a2 180px,#2c1e8a 202px,#2c1e8a 206px);border-radius:0 0 2px 2px"></div><div style="left:935.9px;top:89.3px;width:1.77px;height:205.7px;background:linear-gradient(#53ae76 0px,#54af75 25px,#73c469 29px,#8ecc64 31px,#a3d263 32px,#9ed163 46px,#7ec766 53px,#69bf6c 61px,#47a17c 98px,#347c88 117px,#20648c 133px,#12498f 151px,#2e26a2 171px,#2c1e8a 204px,#2c1e8a 206px);border-radius:0 0 2px 2px"></div><div style="left:937.3px;top:89.3px;width:1.77px;height:206.4px;background:linear-gradient(#5bb572 0px,#5eb771 24px,#7fc865 28px,#aed562 31px,#a6d363 45px,#7fc766 52px,#68bf6d 60px,#49a37b 97px,#357f88 115px,#24688b 130px,#134d8f 148px,#1a3e97 157px,#2e25a1 172px,#2c1e8a 204px,#2c1e8a 206px);border-radius:0 0 2px 2px"></div><div style="left:938.8px;top:89.3px;width:1.77px;height:205.7px;background:linear-gradient(#66be6d 0px,#6bc16c 21px,#83c964 24px,#b0d662 27px,#b3d762 30px,#aed562 41px,#7fc865 49px,#69c06c 56px,#4ca67a 90px,#358087 107px,#24688b 122px,#144e8f 139px,#174293 146px,#2e26a1 163px,#2c1e8a 204px,#2c1e8a 206px);border-radius:0 0 2px 2px"></div><div style="left:940.2px;top:89.3px;width:1.77px;height:206.4px;background:linear-gradient(#60b970 0px,#61b970 21px,#74c469 24px,#89ca64 26px,#abd463 28px,#afd562 30px,#a8d363 42px,#7dc766 50px,#69bf6c 57px,#4ba57a 89px,#368287 103px,#21658c 120px,#134a8f 138px,#2e26a2 159px,#2c1e8a 201px,#2c1e8a 206px);border-radius:0 0 2px 2px"></div><div style="left:941.6px;top:89.3px;width:1.77px;height:207.7px;background:linear-gradient(#5bb572 0px,#5cb672 24px,#73c469 27px,#91cd63 29px,#bbd965 31px,#c0da68 33px,#b8d862 46px,#80c865 54px,#6ac06c 60px,#48a27c 93px,#347e88 108px,#23678c 123px,#134b8f 141px,#282ea0 158px,#2e239e 169px,#2c1e8b 206px,#2c1e8a 208px);border-radius:0 0 2px 2px"></div><div style="left:943.0px;top:89.3px;width:1.77px;height:207.7px;background:linear-gradient(#57b274 0px,#58b274 20px,#6ec36a 23px,#8dcc64 25px,#bbd965 27px,#c3da6a 28px,#bad964 42px,#81c865 50px,#6ac06c 56px,#4ba67a 90px,#368387 104px,#24688b 120px,#134c8f 138px,#194095 146px,#2e26a1 162px,#2c1e8b 204px,#2c1e8b 208px);border-radius:0 0 2px 2px"></div><div style="left:944.5px;top:89.3px;width:1.77px;height:207.7px;background:linear-gradient(#68bf6d 0px,#6cc26b 20px,#83c964 22px,#bdd966 25px,#d2de75 27px,#cadc6f 41px,#b7d862 44px,#82c865 50px,#6bc16c 55px,#4da779 94px,#368387 111px,#25698b 127px,#134d8f 145px,#184095 153px,#2e26a1 169px,#2c1e8b 205px,#2c1e8b 208px);border-radius:0 0 2px 2px"></div><div style="left:945.9px;top:89.3px;width:1.77px;height:207.7px;background:linear-gradient(#75c568 0px,#76c568 20px,#86ca64 22px,#b3d762 25px,#c9dc6f 27px,#c5db6c 41px,#acd462 45px,#7ec766 51px,#6ac16c 56px,#4da779 94px,#368387 111px,#25698b 127px,#144d8f 145px,#184194 153px,#2e26a1 169px,#2c1e8b 205px,#2c1e8b 208px);border-radius:0 0 2px 2px"></div><div style="left:947.3px;top:89.3px;width:1.77px;height:209.7px;background:linear-gradient(#68bf6d 0px,#6bc16b 19px,#82c865 22px,#aad463 25px,#afd562 27px,#a4d263 40px,#7fc865 47px,#6ac16c 54px,#4ea879 94px,#368387 112px,#25698b 128px,#144d8f 146px,#184194 154px,#2e26a1 170px,#2c1e8b 205px,#2c1e8b 210px);border-radius:0 0 2px 2px"></div><div style="left:948.7px;top:89.3px;width:1.77px;height:208.2px;background:linear-gradient(#6ac06c 0px,#6dc26b 18px,#85c964 21px,#add562 24px,#b2d662 26px,#a7d363 39px,#7fc865 46px,#69c06c 53px,#4ea879 94px,#368287 113px,#24688b 129px,#134c8f 147px,#1a3e96 156px,#2e25a1 171px,#2c1e8b 204px,#2c1e8b 208px);border-radius:0 0 2px 2px"></div><div style="left:950.2px;top:89.3px;width:1.77px;height:207.7px;background:linear-gradient(#72c469 0px,#72c469 16px,#88ca64 19px,#bad863 23px,#b6d762 37px,#81c865 45px,#69c06c 52px,#4fa978 90px,#368387 107px,#24688b 123px,#134c8f 141px,#1a3f96 150px,#2e26a1 165px,#2c1e8b 206px,#2c1e8b 208px);border-radius:0 0 2px 2px"></div><div style="left:951.6px;top:89.3px;width:1.77px;height:208.3px;background:linear-gradient(#62bb6f 0px,#62bb6f 10px,#82c865 14px,#b2d662 17px,#aad463 31px,#81c865 38px,#69c06c 46px,#56b175 82px,#47a27c 95px,#357f88 110px,#21658c 126px,#12488f 145px,#2e27a2 165px,#2c1e8c 202px,#2c1e8b 208px);border-radius:0 0 2px 2px"></div><div style="left:953.0px;top:89.3px;width:1.77px;height:209.9px;background:linear-gradient(#70c36a 0px,#70c36a 13px,#87ca64 16px,#bcd965 20px,#b8d862 34px,#7ec766 43px,#6ac06c 49px,#52ac77 85px,#439c7e 94px,#317789 110px,#15518e 134px,#154392 143px,#2d27a2 160px,#2c1e8d 198px,#2c1e8c 210px);border-radius:0 0 2px 2px"></div><div style="left:954.4px;top:89.3px;width:1.77px;height:207.7px;background:linear-gradient(#5fb870 0px,#62bb6f 14px,#81c865 17px,#bcd965 20px,#c5db6c 21px,#bdd966 35px,#83c964 43px,#6bc16b 49px,#51ac77 88px,#368287 106px,#23678c 122px,#134b8f 140px,#193f96 148px,#2e26a1 164px,#2c1e8c 206px,#2c1e8c 208px);border-radius:0 0 2px 2px"></div><div style="left:955.9px;top:89.3px;width:1.77px;height:207.7px;background:linear-gradient(#65bd6e 0px,#65bd6e 11px,#75c568 13px,#93cd63 15px,#bbd964 17px,#c9dc6f 18px,#cadc70 24px,#c2da6a 33px,#add562 36px,#7ec766 42px,#6ac06c 47px,#53ad76 84px,#459e7d 93px,#337b88 107px,#144f8e 135px,#164392 143px,#2d27a2 160px,#2c1f8e 197px,#2c1e8c 208px);border-radius:0 0 2px 2px"></div><div style="left:957.3px;top:89.3px;width:1.77px;height:207.7px;background:linear-gradient(#6ac16c 0px,#6ac16c 6px,#89ca64 9px,#b0d662 11px,#ccdd71 13px,#cbdc70 25px,#c5db6c 28px,#b2d662 31px,#81c865 37px,#6dc26b 42px,#58b374 80px,#4ca679 91px,#368287 105px,#23678c 121px,#134b8f 139px,#1a3e97 148px,#2e25a1 164px,#2c1e8d 207px,#2c1e8d 208px);border-radius:0 0 2px 2px"></div><div style="left:958.7px;top:89.3px;width:1.77px;height:209.0px;background:linear-gradient(#5fb871 0px,#5fb871 6px,#6dc26b 8px,#8dcc64 10px,#bcd965 12px,#cddd71 13px,#d2de76 15px,#c9dc6f 28px,#aed562 32px,#7dc766 38px,#6cc26b 42px,#57b274 84px,#4aa47b 96px,#368287 111px,#23678c 127px,#134b8f 145px,#193f96 153px,#2e26a1 169px,#2c1e8d 206px,#2c1e8d 209px);border-radius:0 0 2px 2px"></div><div style="left:960.1px;top:89.3px;width:1.77px;height:207.7px;background:linear-gradient(#56b175 0px,#56b175 10px,#63bb6f 12px,#7dc766 14px,#add562 16px,#c3db6a 17px,#cddd72 18px,#c4db6b 32px,#b1d662 35px,#81c865 41px,#6cc26b 46px,#51ac77 93px,#378586 111px,#25698b 127px,#144d8f 145px,#174294 153px,#2e26a2 169px,#2c1e8d 205px,#2c1e8d 208px);border-radius:0 0 2px 2px"></div><div style="left:961.6px;top:89.3px;width:1.77px;height:207.4px;background:linear-gradient(#62bb6f 0px,#62ba6f 11px,#80c865 14px,#bad863 17px,#c8dc6e 18px,#c2da6a 32px,#afd562 35px,#81c865 41px,#6ac06c 47px,#50ab77 96px,#378586 115px,#25698b 132px,#134d8f 150px,#164393 157px,#2e27a2 173px,#2c1e8d 204px,#2c1e8d 207px);border-radius:0 0 2px 2px"></div><div style="left:963.0px;top:89.3px;width:1.77px;height:208.3px;background:linear-gradient(#7cc766 0px,#7cc766 10px,#8acb64 12px,#bbd964 16px,#c6db6c 18px,#bcd965 32px,#80c865 40px,#69c06c 46px,#4faa78 95px,#368486 113px,#25698b 129px,#144d8f 147px,#174194 155px,#2e26a2 171px,#2c1e8d 205px,#2c1e8d 208px);border-radius:0 0 2px 2px"></div><div style="left:964.4px;top:89.3px;width:1.77px;height:207.4px;background:linear-gradient(#65bd6e 0px,#65bd6e 10px,#7bc667 12px,#a3d263 14px,#bad863 15px,#d9e07b 17px,#d4de77 31px,#b8d862 35px,#7fc865 41px,#69c06c 45px,#50ab77 85px,#378586 98px,#22668c 115px,#13498f 134px,#2c28a1 155px,#2d1f91 189px,#2c1e8d 207px);border-radius:0 0 2px 2px"></div><div style="left:965.8px;top:89.3px;width:1.77px;height:207.4px;background:linear-gradient(#61b970 0px,#63bb6f 14px,#79c667 16px,#89cb64 17px,#bad863 19px,#d8df7a 21px,#d0de74 35px,#b2d662 39px,#80c865 44px,#67be6d 49px,#4ea978 86px,#378686 98px,#23678c 115px,#134b8f 133px,#193f96 141px,#2e26a2 157px,#2c1e8c 205px,#2c1e8c 207px);border-radius:0 0 2px 2px"></div><div style="left:967.3px;top:89.3px;width:1.77px;height:207.4px;background:linear-gradient(#5bb572 0px,#5eb871 17px,#80c865 20px,#add562 22px,#c1da69 23px,#cbdc70 24px,#c2da6a 38px,#abd463 41px,#7fc865 46px,#65bc6e 52px,#4ba67a 88px,#368287 101px,#22668c 117px,#134b8f 135px,#23359e 149px,#2e25a1 159px,#2c1e8c 206px,#2c1e8c 207px);border-radius:0 0 2px 2px"></div><div style="left:968.7px;top:89.3px;width:1.77px;height:207.4px;background:linear-gradient(#5bb572 0px,#5bb572 15px,#6ac16c 17px,#87ca64 19px,#b9d863 21px,#cadc70 22px,#cedd72 25px,#c9dc6f 36px,#b6d762 39px,#84c964 44px,#65bd6e 50px,#4ba67a 90px,#368287 104px,#23678c 120px,#134b8f 138px,#1e3a9a 149px,#2e25a1 162px,#2c1e8c 207px,#2c1e8c 207px);border-radius:0 0 2px 2px"></div><div style="left:970.1px;top:89.3px;width:1.77px;height:201.9px;background:linear-gradient(#8ccb64 0px,#8ecc64 16px,#b6d762 19px,#d9e07b 23px,#d0de74 37px,#b6d762 41px,#7fc865 47px,#6bc16b 51px,#51ab77 81px,#378586 91px,#24688b 107px,#134a8f 126px,#1b3e97 135px,#2e26a2 152px,#2c1f8e 202px);border-radius:0 0 2px 2px"></div><div style="left:971.5px;top:89.3px;width:1.77px;height:200.5px;background:linear-gradient(#76c568 0px,#79c667 16px,#83c964 17px,#b9d863 20px,#dae07b 23px,#d1de74 37px,#b4d762 41px,#83c964 46px,#69c06c 51px,#50aa78 81px,#368486 91px,#23678c 107px,#134c8f 125px,#184095 133px,#2b29a1 148px,#2d1f94 182px,#2c1f8e 201px);border-radius:0 0 2px 2px"></div><div style="left:973.0px;top:89.3px;width:1.77px;height:200.4px;background:linear-gradient(#67be6d 0px,#66be6d 17px,#7ec766 19px,#a9d463 21px,#bed967 22px,#dfe17f 24px,#d9e07a 38px,#b5d762 43px,#82c865 48px,#6bc16c 52px,#4fa978 92px,#368486 107px,#24688b 123px,#134a8f 142px,#1b3e97 151px,#2e26a2 166px,#2c1f8f 200px);border-radius:0 0 2px 2px"></div><div style="left:974.4px;top:89.3px;width:1.77px;height:201.5px;background:linear-gradient(#7ac667 0px,#79c667 17px,#82c865 18px,#b8d862 21px,#dfe17f 24px,#d9e07b 38px,#b6d762 43px,#82c865 48px,#6bc16c 52px,#50ab77 90px,#378686 104px,#25698b 120px,#144d8f 138px,#174293 146px,#2b29a1 161px,#2d1f93 189px,#2c1f8e 201px);border-radius:0 0 2px 2px"></div><div style="left:975.8px;top:89.3px;width:1.77px;height:201.7px;background:linear-gradient(#6dc26b 0px,#6ec36a 15px,#84c964 17px,#bbd964 20px,#d3de76 22px,#cbdc70 36px,#b8d862 39px,#82c865 45px,#69c06c 50px,#4faa78 91px,#368387 106px,#24688b 122px,#134c8f 140px,#184195 148px,#2e27a2 164px,#2c1f8e 202px);border-radius:0 0 2px 2px"></div><div style="left:977.2px;top:89.3px;width:1.77px;height:201.7px;background:linear-gradient(#77c568 0px,#76c568 17px,#88ca64 19px,#b8d862 22px,#cedd72 24px,#cbdc70 38px,#b0d662 42px,#82c964 47px,#69c06c 52px,#4ea978 92px,#368486 107px,#24688b 123px,#134c8f 141px,#164293 148px,#2e26a2 165px,#2c1f8e 202px);border-radius:0 0 2px 2px"></div><div style="left:978.7px;top:89.3px;width:1.77px;height:201.7px;background:linear-gradient(#8ccb64 0px,#8fcc64 18px,#b8d862 22px,#cbdc70 25px,#c3da6a 39px,#abd462 42px,#7fc865 47px,#65bd6e 53px,#4da879 89px,#378586 102px,#23678c 119px,#134b8f 137px,#193f96 145px,#2e26a2 161px,#2c1e8d 202px);border-radius:0 0 2px 2px"></div><div style="left:980.1px;top:89.3px;width:1.77px;height:201.7px;background:linear-gradient(#68bf6d 0px,#68bf6d 17px,#83c964 20px,#b6d762 23px,#c2da6a 24px,#bcd965 38px,#80c865 46px,#67be6d 52px,#4fa978 87px,#378686 99px,#23678b 116px,#134c8f 134px,#1a3e96 143px,#2e26a2 159px,#2c1e8d 202px);border-radius:0 0 2px 2px"></div><div style="left:981.5px;top:89.3px;width:1.77px;height:201.9px;background:linear-gradient(#63bb6f 0px,#65bd6e 17px,#86ca64 20px,#b1d662 22px,#ccdd71 24px,#c3db6a 38px,#aed562 41px,#7fc766 47px,#69c06c 52px,#51ab77 81px,#368486 91px,#24688b 107px,#134a8f 126px,#1b3e97 135px,#2e26a2 152px,#2c1f8e 202px);border-radius:0 0 2px 2px"></div><div style="left:982.9px;top:89.3px;width:1.77px;height:200.5px;background:linear-gradient(#63bb6f 0px,#62bb6f 19px,#7dc766 22px,#9fd163 24px,#b3d662 25px,#c2da69 26px,#bbd965 40px,#80c865 48px,#66be6d 55px,#4fa978 81px,#378786 90px,#317789 97px,#15528e 121px,#154491 130px,#2a2ba1 146px,#2d2095 179px,#2c1f8e 200px);border-radius:0 0 2px 2px"></div><div style="left:984.4px;top:89.3px;width:1.77px;height:200.5px;background:linear-gradient(#64bc6e 0px,#64bc6f 20px,#71c36a 22px,#89ca64 24px,#b0d662 26px,#c0da68 27px,#c4db6b 29px,#bbd964 42px,#81c865 49px,#66be6d 55px,#4da879 81px,#378586 90px,#307689 97px,#15528e 120px,#144491 129px,#2b2aa1 145px,#2d1f94 179px,#2c1e8d 200px);border-radius:0 0 2px 2px"></div><div style="left:985.8px;top:89.3px;width:1.77px;height:201.9px;background:linear-gradient(#64bc6e 0px,#64bc6e 19px,#80c865 22px,#b7d862 25px,#c4db6b 26px,#bdd966 40px,#7fc865 48px,#66bd6e 54px,#4ea879 81px,#378686 90px,#307589 98px,#15538e 120px,#154392 130px,#2b2aa1 146px,#2d1f94 180px,#2c1e8d 202px);border-radius:0 0 2px 2px"></div><div style="left:987.2px;top:89.3px;width:1.77px;height:204.3px;background:linear-gradient(#60b970 0px,#61b970 18px,#83c964 21px,#b2d662 23px,#d2de76 25px,#cbdc70 39px,#b5d762 42px,#83c964 47px,#65bc6e 53px,#4ba67a 87px,#368287 99px,#22668c 115px,#13498f 134px,#2d28a2 155px,#2c1f90 191px,#2c1e8d 204px);border-radius:0 0 2px 2px"></div><div style="left:988.6px;top:89.3px;width:1.77px;height:204.3px;background:linear-gradient(#75c568 0px,#75c568 20px,#8bcb64 22px,#bdd965 25px,#d4df77 27px,#cedd73 41px,#b9d863 44px,#84c964 49px,#64bc6e 55px,#4da779 86px,#368387 98px,#21658c 115px,#12488f 134px,#2d28a1 154px,#2c1f90 190px,#2c1e8c 204px);border-radius:0 0 2px 2px"></div><div style="left:990.1px;top:89.3px;width:1.77px;height:204.3px;background:linear-gradient(#6fc36a 0px,#6fc36a 20px,#82c865 22px,#b6d762 25px,#cfdd73 27px,#c9dc6f 41px,#abd463 45px,#7ec766 50px,#66bd6e 55px,#4ca67a 91px,#368287 105px,#23678c 121px,#134b8f 139px,#194096 147px,#2e26a2 163px,#2c1e8d 204px);border-radius:0 0 2px 2px"></div><div style="left:991.5px;top:89.3px;width:1.77px;height:204.3px;background:linear-gradient(#6ac06c 0px,#6cc26b 22px,#82c865 24px,#bbd964 27px,#d0de74 29px,#c8dc6e 43px,#b2d662 46px,#7ec766 52px,#67be6d 57px,#4da879 91px,#368486 105px,#24688b 121px,#134c8f 139px,#164293 146px,#2e26a2 163px,#2c1e8d 203px,#2c1e8d 204px);border-radius:0 0 2px 2px"></div><div style="left:992.9px;top:89.3px;width:1.77px;height:205.6px;background:linear-gradient(#62ba6f 0px,#65bd6e 25px,#88ca64 28px,#b4d762 30px,#c4db6b 31px,#cddd72 32px,#c5db6b 46px,#aed562 49px,#80c865 54px,#65bd6e 60px,#54ae76 80px,#4ca67a 88px,#368387 100px,#23678b 116px,#134c8f 134px,#1a3e97 143px,#2e26a1 159px,#2c1e8d 206px);border-radius:0 0 2px 2px"></div><div style="left:994.3px;top:89.3px;width:1.77px;height:204.4px;background:linear-gradient(#64bc6e 0px,#67bf6d 19px,#7dc766 21px,#b9d863 24px,#cfdd73 26px,#c6db6c 40px,#b0d662 43px,#82c865 48px,#67be6d 54px,#4ea879 91px,#378586 105px,#23678c 122px,#134b8f 140px,#1a3e97 149px,#2e25a1 165px,#2c1e8d 204px);border-radius:0 0 2px 2px"></div><div style="left:995.8px;top:89.3px;width:1.77px;height:204.7px;background:linear-gradient(#74c469 0px,#73c469 19px,#87ca64 21px,#afd562 23px,#dae07c 26px,#dfe17f 28px,#d9e07a 40px,#b7d862 45px,#83c964 50px,#69c06c 55px,#50ab77 88px,#378786 101px,#24688b 118px,#134a8f 137px,#1b3d97 146px,#2e26a1 162px,#2c1f8e 205px);border-radius:0 0 2px 2px"></div><div style="left:997.2px;top:89.3px;width:1.77px;height:206.6px;background:linear-gradient(#65bd6e 0px,#65bc6e 20px,#69c06c 21px,#84c964 23px,#b6d762 25px,#d9e07a 27px,#e0e180 28px,#d5df78 42px,#b8d862 46px,#84c964 51px,#6ac06c 56px,#50ab77 88px,#378686 101px,#25698b 117px,#144d8f 135px,#174293 143px,#2b2aa1 158px,#2d1f94 186px,#2c1f8e 207px);border-radius:0 0 2px 2px"></div><div style="left:998.6px;top:89.3px;width:1.77px;height:204.3px;background:linear-gradient(#5db671 0px,#60b970 22px,#80c865 25px,#aad463 27px,#bed967 28px,#c7dc6d 29px,#bed967 43px,#9ed163 47px,#7fc865 51px,#66be6d 57px,#4ea978 88px,#378586 101px,#23678c 118px,#13498f 137px,#2d27a2 159px,#2c1f8e 197px,#2c1e8d 204px);border-radius:0 0 2px 2px"></div><div style="left:1000.0px;top:89.3px;width:1.77px;height:204.3px;background:linear-gradient(#5eb871 0px,#5eb771 27px,#74c469 30px,#92cd63 32px,#bbd964 34px,#c0da68 36px,#b7d862 49px,#81c865 56px,#66bd6e 63px,#54af75 82px,#4ba57a 91px,#368287 104px,#23678c 120px,#134b8f 138px,#1a3e97 147px,#2e25a1 163px,#2c1e8d 204px);border-radius:0 0 2px 2px"></div><div style="left:1001.5px;top:89.3px;width:1.77px;height:204.3px;background:linear-gradient(#71c469 0px,#72c469 25px,#84c964 27px,#b3d762 30px,#c9dc6f 32px,#c3db6a 46px,#abd462 49px,#7ec766 54px,#63bb6f 60px,#52ac77 81px,#4aa47b 90px,#358187 103px,#22668c 119px,#134b8f 137px,#21379d 150px,#2e25a1 161px,#2c1e8c 204px);border-radius:0 0 2px 2px"></div><div style="left:1002.9px;top:89.3px;width:1.12px;height:204.3px;background:linear-gradient(#7cc766 0px,#7cc766 21px,#8fcc64 23px,#b8d862 26px,#cbdc70 28px,#c7db6d 42px,#b2d662 45px,#82c865 50px,#65bd6e 56px,#4ba57a 88px,#368387 100px,#21658c 117px,#12488f 136px,#2d28a2 156px,#2c1f90 191px,#2c1e8c 204px);border-radius:0 0 2px 2px"></div><div style="left:1003.0px;top:172.0px;width:3.20px;height:129.4px;background:linear-gradient(#51ab77 0px,#46a07c 7px,#347e88 19px,#20648c 35px,#12478f 54px,#2c29a1 72px,#2d1f92 103px,#2c1e8c 129px);border-radius:0 0 2px 2px"></div><div style="left:621.1px;top:280.0px;width:5.00px;height:209.0px;background:linear-gradient(#2e25a1 0px,#2c1e89 190px,#2c1d86 209px);border-radius:0 0 3px 3px"></div><div style="left:632.1px;top:280.0px;width:5.40px;height:210.0px;background:linear-gradient(#2c29a1 0px,#2d2199 92px,#2c1e88 210px);border-radius:0 0 3px 3px"></div><div style="left:643.2px;top:280.0px;width:5.70px;height:209.0px;background:linear-gradient(#2d27a2 0px,#2c1f8e 178px,#2c1e89 209px);border-radius:0 0 3px 3px"></div><div style="left:654.1px;top:280.0px;width:5.80px;height:208.0px;background:linear-gradient(#2c28a1 0px,#2d2098 98px,#2c1e87 208px);border-radius:0 0 3px 3px"></div><div style="left:665.1px;top:280.0px;width:5.80px;height:209.0px;background:linear-gradient(#2e26a2 0px,#2c1e8d 178px,#2c1e88 209px);border-radius:0 0 3px 3px"></div><div style="left:676.1px;top:280.0px;width:5.90px;height:209.0px;background:linear-gradient(#2e26a1 0px,#2c1e8d 180px,#2c1e89 209px);border-radius:0 0 3px 3px"></div><div style="left:720.7px;top:280.0px;width:5.20px;height:205.4px;background:linear-gradient(#2d1f93 0px,#2c1e8c 34px,#2b1d83 205px);border-radius:0 0 3px 3px"></div><div style="left:732.0px;top:280.0px;width:5.00px;height:205.4px;background:linear-gradient(#2d1f93 0px,#2c1e8c 22px,#2b1d82 205px);border-radius:0 0 3px 3px"></div><div style="left:743.1px;top:280.0px;width:5.50px;height:210.5px;background:linear-gradient(#2d1f92 0px,#2c1e8b 22px,#2b1d81 210px);border-radius:0 0 3px 3px"></div><div style="left:754.1px;top:280.0px;width:5.50px;height:209.0px;background:linear-gradient(#2d1f91 0px,#2b1d82 209px);border-radius:0 0 3px 3px"></div><div style="left:765.1px;top:280.0px;width:5.60px;height:209.0px;background:linear-gradient(#2d1f94 0px,#2c1e8d 22px,#2b1d83 209px);border-radius:0 0 3px 3px"></div><div style="left:772.1px;top:280.0px;width:6.40px;height:156.0px;background:linear-gradient(#2d1f93 0px,#2c1e8b 16px,#2c1d84 156px);border-radius:0 0 3px 3px"></div><div style="left:778.0px;top:280.0px;width:5.80px;height:209.0px;background:linear-gradient(#2d1f92 0px,#2c1e8b 28px,#2b1d81 209px);border-radius:0 0 3px 3px"></div><div style="left:789.9px;top:280.0px;width:5.10px;height:210.0px;background:linear-gradient(#2d2095 0px,#2c1e8c 12px,#2b1d81 210px);border-radius:0 0 3px 3px"></div><div style="left:800.7px;top:280.0px;width:5.40px;height:208.8px;background:linear-gradient(#2d1f91 0px,#2c1e89 82px,#2b1d82 209px);border-radius:0 0 3px 3px"></div><div style="left:812.0px;top:280.0px;width:5.60px;height:210.0px;background:linear-gradient(#2d1f94 0px,#2c1e8b 12px,#2b1d80 210px);border-radius:0 0 3px 3px"></div><div style="left:834.0px;top:280.0px;width:5.70px;height:206.6px;background:linear-gradient(#2d1f93 0px,#2c1e8b 14px,#2b1d80 207px);border-radius:0 0 3px 3px"></div><div style="left:845.0px;top:280.0px;width:5.90px;height:208.3px;background:linear-gradient(#2d219a 0px,#2c1e8d 10px,#2b1d82 208px);border-radius:0 0 3px 3px"></div><div style="left:856.1px;top:280.0px;width:5.70px;height:208.3px;background:linear-gradient(#2d2095 0px,#2c1e8c 14px,#2b1d82 208px);border-radius:0 0 3px 3px"></div><div style="left:867.0px;top:280.0px;width:5.90px;height:210.0px;background:linear-gradient(#2d1f92 0px,#2c1e8c 26px,#2b1d81 210px);border-radius:0 0 3px 3px"></div><div style="left:878.0px;top:280.0px;width:5.90px;height:205.4px;background:linear-gradient(#2d1f92 0px,#2c1e8b 20px,#2b1d80 205px);border-radius:0 0 3px 3px"></div><div style="left:889.1px;top:280.0px;width:5.80px;height:205.4px;background:linear-gradient(#2d1f92 0px,#2c1e8c 26px,#2b1d82 205px);border-radius:0 0 3px 3px"></div><div style="left:898.0px;top:280.0px;width:5.80px;height:206.0px;background:linear-gradient(#2d1f94 0px,#2c1e8c 16px,#2b1d82 206px);border-radius:0 0 3px 3px"></div><div style="left:909.0px;top:280.0px;width:5.80px;height:205.7px;background:linear-gradient(#2c1f90 0px,#2c1e89 30px,#2b1d80 206px);border-radius:0 0 3px 3px"></div><div style="left:920.0px;top:280.0px;width:5.80px;height:210.0px;background:linear-gradient(#2d2095 0px,#2c1e8d 16px,#2b1d82 210px);border-radius:0 0 3px 3px"></div><div style="left:931.0px;top:280.0px;width:5.80px;height:206.6px;background:linear-gradient(#2d219a 0px,#2c1e8a 10px,#2b1c7f 207px);border-radius:0 0 3px 3px"></div><div style="left:942.2px;top:280.0px;width:5.50px;height:208.3px;background:linear-gradient(#2c1f91 0px,#2c1e8a 30px,#2b1d81 208px);border-radius:0 0 3px 3px"></div><div style="left:953.9px;top:280.0px;width:4.90px;height:204.5px;background:linear-gradient(#2c1f91 0px,#2b1d82 204px);border-radius:0 0 3px 3px"></div><div style="left:964.9px;top:280.0px;width:5.30px;height:204.3px;background:linear-gradient(#2c1f90 0px,#2b1d81 204px);border-radius:0 0 3px 3px"></div><div style="left:976.0px;top:280.0px;width:5.70px;height:209.0px;background:linear-gradient(#2c1f91 0px,#2b1d82 209px);border-radius:0 0 3px 3px"></div><div style="left:987.0px;top:280.0px;width:5.90px;height:207.0px;background:linear-gradient(#2c1f90 0px,#2b1d82 207px);border-radius:0 0 3px 3px"></div><div style="left:998.0px;top:280.0px;width:5.90px;height:209.5px;background:linear-gradient(#2d1f91 0px,#2b1d82 210px);border-radius:0 0 3px 3px"></div><div style="left:710.0px;top:280.0px;width:5.00px;height:52.4px;background:linear-gradient(#2c1f8f 0px,#2c1e89 52px);border-radius:0 0 3px 3px"></div><div style="left:823.0px;top:280.0px;width:5.00px;height:71.7px;background:linear-gradient(#2d1f92 0px,#2c1e8b 50px,#2c1e8a 72px);border-radius:0 0 3px 3px"></div><div style="left:894.0px;top:280.0px;width:5.50px;height:66.7px;background:linear-gradient(#2c1f90 0px,#2c1e89 67px);border-radius:0 0 3px 3px"></div><div style="left:914.0px;top:280.0px;width:3.50px;height:28.5px;background:linear-gradient(#2d1f94 0px,#2c1e8b 14px,#2c1e8a 28px);border-radius:0 0 3px 3px"></div><div style="left:690.0px;top:280.0px;width:6.00px;height:25.0px;background:linear-gradient(#2d1f93 0px,#2c1e8d 25px);border-radius:0 0 3px 3px"></div><div style="left:701.0px;top:280.0px;width:3.50px;height:24.4px;background:linear-gradient(#2d1f91 0px,#2c1e8c 24px);border-radius:0 0 3px 3px"></div></div><svg width="1400" height="600" viewBox="0 0 1400 600">
<defs><linearGradient id="cbg" x1="0" y1="0" x2="0" y2="1"><stop offset="0.000" stop-color="#fdef9a"/><stop offset="0.040" stop-color="#e3e282"/><stop offset="0.128" stop-color="#b8d862"/><stop offset="0.200" stop-color="#84c964"/><stop offset="0.259" stop-color="#6cc26b"/><stop offset="0.340" stop-color="#57b274"/><stop offset="0.407" stop-color="#47a17c"/><stop offset="0.475" stop-color="#3a8f84"/><stop offset="0.542" stop-color="#347d88"/><stop offset="0.610" stop-color="#2e7289"/><stop offset="0.678" stop-color="#21658c"/><stop offset="0.749" stop-color="#16578e"/><stop offset="0.817" stop-color="#12478f"/><stop offset="0.864" stop-color="#21379d"/><stop offset="0.897" stop-color="#2e26a2"/><stop offset="0.931" stop-color="#2d2098"/><stop offset="0.973" stop-color="#2b1c7c"/><stop offset="1.000" stop-color="#2a186c"/></linearGradient></defs><rect x="1097" y="72" width="23" height="439" fill="url(#cbg)"/><g fill="#000"><rect x="175" y="72" width="1" height="439"/><rect x="1043" y="72" width="1" height="439"/><rect x="175" y="72" width="869" height="1"/><rect x="175" y="510" width="869" height="1"/><rect x="1097" y="72" width="1" height="439"/><rect x="1119" y="72" width="1" height="439"/><rect x="1097" y="72" width="23" height="1"/><rect x="1097" y="510" width="23" height="1"/><rect x="170" y="92" width="5" height="1"/><rect x="170" y="142" width="5" height="1"/><rect x="170" y="192" width="5" height="1"/><rect x="170" y="242" width="5" height="1"/><rect x="170" y="292" width="5" height="1"/><rect x="170" y="342" width="5" height="1"/><rect x="170" y="392" width="5" height="1"/><rect x="170" y="442" width="5" height="1"/><rect x="170" y="492" width="5" height="1"/><rect x="184" y="511" width="1" height="4"/><rect x="288" y="511" width="1" height="4"/><rect x="392" y="511" width="1" height="4"/><rect x="496" y="511" width="1" height="4"/><rect x="600" y="511" width="1" height="4"/><rect x="704" y="511" width="1" height="4"/><rect x="808" y="511" width="1" height="4"/><rect x="912" y="511" width="1" height="4"/><rect x="1016" y="511" width="1" height="4"/><rect x="1120" y="498" width="5" height="1"/><rect x="1120" y="406" width="5" height="1"/><rect x="1120" y="313" width="5" height="1"/><rect x="1120" y="220" width="5" height="1"/><rect x="1120" y="128" width="5" height="1"/></g><g><text transform="translate(165,97.9) scale(1.0,1)" font-size="14.1" text-anchor="end">0</text><text transform="translate(164.5,147.9) scale(1.128,1)" font-size="14.1" text-anchor="end">−250</text><text transform="translate(164.5,197.9) scale(1.128,1)" font-size="14.1" text-anchor="end">−500</text><text transform="translate(164.5,247.9) scale(1.128,1)" font-size="14.1" text-anchor="end">−750</text><text transform="translate(164.5,297.9) scale(1.128,1)" font-size="14.1" text-anchor="end">−1000</text><text transform="translate(164.5,347.9) scale(1.128,1)" font-size="14.1" text-anchor="end">−1250</text><text transform="translate(164.5,397.9) scale(1.128,1)" font-size="14.1" text-anchor="end">−1500</text><text transform="translate(164.5,447.9) scale(1.128,1)" font-size="14.1" text-anchor="end">−1750</text><text transform="translate(164.5,497.9) scale(1.128,1)" font-size="14.1" text-anchor="end">−2000</text><text transform="translate(1129,503.6) scale(1.077,1)" font-size="14.1">35.0</text><text transform="translate(1129,411.1) scale(1.077,1)" font-size="14.1">35.5</text><text transform="translate(1129,318.6) scale(1.077,1)" font-size="14.1">36.0</text><text transform="translate(1129,226.1) scale(1.077,1)" font-size="14.1">36.5</text><text transform="translate(1129,133.6) scale(1.077,1)" font-size="14.1">37.0</text><text transform="translate(609,37.9) scale(1.083,1)" font-size="17" text-anchor="middle">ARGO float 4902113</text><text transform="translate(609.5,62) scale(1.079,1)" font-size="17" text-anchor="middle">Salinity PPT (10<tspan dy="-6" font-size="12">−3</tspan><tspan dy="6">)</tspan></text><text transform="translate(609.5,579) scale(1.088,1)" font-size="17" text-anchor="middle">Date</text><text transform="translate(109,292.5) rotate(-90) scale(1.131,1)" font-size="14.1" text-anchor="middle">Depth (m)</text><text transform="translate(1179,292) rotate(-90) scale(1.06,1)" font-size="14.1" text-anchor="middle">PPT (10<tspan dy="-5" font-size="10">−3</tspan><tspan dy="5">)</tspan></text><text transform="translate(185.3,542.5) rotate(-45) scale(1.156,1)" font-size="8.4" text-anchor="middle">2016/01/01</text><text transform="translate(289.55,542.5) rotate(-45) scale(1.156,1)" font-size="8.4" text-anchor="middle">2017/01/01</text><text transform="translate(393.52,542.5) rotate(-45) scale(1.156,1)" font-size="8.4" text-anchor="middle">2018/01/01</text><text transform="translate(497.48,542.5) rotate(-45) scale(1.156,1)" font-size="8.4" text-anchor="middle">2019/01/01</text><text transform="translate(601.45,542.5) rotate(-45) scale(1.156,1)" font-size="8.4" text-anchor="middle">2020/01/01</text><text transform="translate(705.7,542.5) rotate(-45) scale(1.156,1)" font-size="8.4" text-anchor="middle">2021/01/01</text><text transform="translate(809.67,542.5) rotate(-45) scale(1.156,1)" font-size="8.4" text-anchor="middle">2022/01/01</text><text transform="translate(913.64,542.5) rotate(-45) scale(1.156,1)" font-size="8.4" text-anchor="middle">2023/01/01</text><text transform="translate(1017.6,542.5) rotate(-45) scale(1.156,1)" font-size="8.4" text-anchor="middle">2024/01/01</text></g>
</svg></body></html>
